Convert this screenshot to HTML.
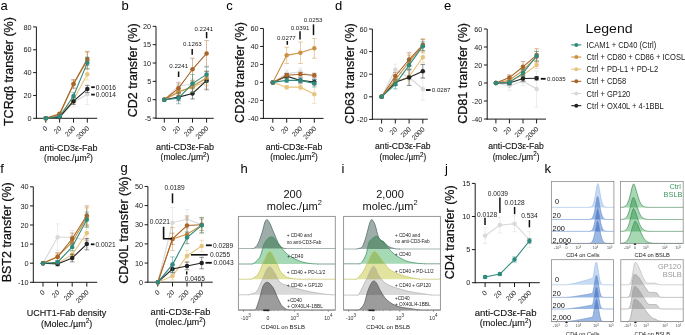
<!DOCTYPE html>
<html><head><meta charset="utf-8"><style>
html,body{margin:0;padding:0;background:#fff;width:685px;height:335px;overflow:hidden}
svg{display:block;font-family:"Liberation Sans", sans-serif}
</style></head><body>
<svg width="685" height="335" viewBox="0 0 685 335">
<rect width="685" height="335" fill="#fff"/>
<text x="0.60" y="10.20" font-size="13" text-anchor="start" fill="#000" >a</text>
<line x1="36.40" y1="26.90" x2="36.40" y2="118.80" stroke="#1a1a1a" stroke-width="1" />
<line x1="33.10" y1="118.30" x2="36.40" y2="118.30" stroke="#1a1a1a" stroke-width="1" />
<text x="31.60" y="120.90" font-size="7.3" text-anchor="end" fill="#1a1a1a" >0</text>
<line x1="33.10" y1="95.45" x2="36.40" y2="95.45" stroke="#1a1a1a" stroke-width="1" />
<text x="31.60" y="98.05" font-size="7.3" text-anchor="end" fill="#1a1a1a" >20</text>
<line x1="33.10" y1="72.60" x2="36.40" y2="72.60" stroke="#1a1a1a" stroke-width="1" />
<text x="31.60" y="75.20" font-size="7.3" text-anchor="end" fill="#1a1a1a" >40</text>
<line x1="33.10" y1="49.75" x2="36.40" y2="49.75" stroke="#1a1a1a" stroke-width="1" />
<text x="31.60" y="52.35" font-size="7.3" text-anchor="end" fill="#1a1a1a" >60</text>
<line x1="33.10" y1="26.90" x2="36.40" y2="26.90" stroke="#1a1a1a" stroke-width="1" />
<text x="31.60" y="29.50" font-size="7.3" text-anchor="end" fill="#1a1a1a" >80</text>
<line x1="35.90" y1="118.30" x2="97.20" y2="118.30" stroke="#1a1a1a" stroke-width="1" />
<line x1="45.75" y1="118.30" x2="45.75" y2="122.60" stroke="#1a1a1a" stroke-width="1" />
<text x="48.05" y="128.90" font-size="6.8" text-anchor="end" fill="#222" transform="rotate(-45 48.05 128.90)">0</text>
<line x1="59.60" y1="118.30" x2="59.60" y2="122.60" stroke="#1a1a1a" stroke-width="1" />
<text x="61.90" y="128.90" font-size="6.8" text-anchor="end" fill="#222" transform="rotate(-45 61.90 128.90)">20</text>
<line x1="73.50" y1="118.30" x2="73.50" y2="122.60" stroke="#1a1a1a" stroke-width="1" />
<text x="75.80" y="128.90" font-size="6.8" text-anchor="end" fill="#222" transform="rotate(-45 75.80 128.90)">200</text>
<line x1="87.30" y1="118.30" x2="87.30" y2="122.60" stroke="#1a1a1a" stroke-width="1" />
<text x="89.60" y="128.90" font-size="6.8" text-anchor="end" fill="#222" transform="rotate(-45 89.60 128.90)">2000</text>
<text x="13.20" y="71.60" font-size="12.5" text-anchor="middle" fill="#111" stroke="#111" stroke-width="0.25" transform="rotate(-90 13.20 71.60)">TCRαβ transfer (%)</text>
<text x="68.50" y="150.50" font-size="9.0" text-anchor="middle" fill="#111" stroke="#111" stroke-width="0.12">anti-CD3ε-Fab</text>
<text x="68.50" y="161.20" font-size="8.549999999999999" text-anchor="middle" fill="#111" stroke="#111" stroke-width="0.12">(molec./µm<tspan font-size="6.3" dy="-3.4">2</tspan><tspan dy="3.4">)</tspan></text>
<line x1="59.60" y1="116.02" x2="59.60" y2="118.30" stroke="#d9d9d9" stroke-width="0.65" opacity="0.75"/>
<line x1="57.30" y1="116.02" x2="61.90" y2="116.02" stroke="#d9d9d9" stroke-width="0.65" opacity="0.75"/>
<line x1="57.30" y1="118.30" x2="61.90" y2="118.30" stroke="#d9d9d9" stroke-width="0.65" opacity="0.75"/>
<line x1="73.50" y1="97.73" x2="73.50" y2="106.88" stroke="#d9d9d9" stroke-width="0.65" opacity="0.75"/>
<line x1="71.20" y1="97.73" x2="75.80" y2="97.73" stroke="#d9d9d9" stroke-width="0.65" opacity="0.75"/>
<line x1="71.20" y1="106.88" x2="75.80" y2="106.88" stroke="#d9d9d9" stroke-width="0.65" opacity="0.75"/>
<line x1="87.30" y1="84.03" x2="87.30" y2="104.59" stroke="#d9d9d9" stroke-width="0.65" opacity="0.75"/>
<line x1="85.00" y1="84.03" x2="89.60" y2="84.03" stroke="#d9d9d9" stroke-width="0.65" opacity="0.75"/>
<line x1="85.00" y1="104.59" x2="89.60" y2="104.59" stroke="#d9d9d9" stroke-width="0.65" opacity="0.75"/>
<path d="M45.75,118.30 L59.60,117.16 L73.50,102.30 L87.30,94.31" fill="none" stroke="#d9d9d9" stroke-width="1.1"/>
<circle cx="45.75" cy="118.30" r="2.25" fill="#d9d9d9"/>
<circle cx="59.60" cy="117.16" r="2.25" fill="#d9d9d9"/>
<circle cx="73.50" cy="102.30" r="2.25" fill="#d9d9d9"/>
<circle cx="87.30" cy="94.31" r="2.25" fill="#d9d9d9"/>
<line x1="59.60" y1="114.87" x2="59.60" y2="117.16" stroke="#e6c47e" stroke-width="0.65" opacity="0.75"/>
<line x1="57.30" y1="114.87" x2="61.90" y2="114.87" stroke="#e6c47e" stroke-width="0.65" opacity="0.75"/>
<line x1="57.30" y1="117.16" x2="61.90" y2="117.16" stroke="#e6c47e" stroke-width="0.65" opacity="0.75"/>
<line x1="73.50" y1="96.59" x2="73.50" y2="103.45" stroke="#e6c47e" stroke-width="0.65" opacity="0.75"/>
<line x1="71.20" y1="96.59" x2="75.80" y2="96.59" stroke="#e6c47e" stroke-width="0.65" opacity="0.75"/>
<line x1="71.20" y1="103.45" x2="75.80" y2="103.45" stroke="#e6c47e" stroke-width="0.65" opacity="0.75"/>
<line x1="87.30" y1="68.60" x2="87.30" y2="80.03" stroke="#e6c47e" stroke-width="0.65" opacity="0.75"/>
<line x1="85.00" y1="68.60" x2="89.60" y2="68.60" stroke="#e6c47e" stroke-width="0.65" opacity="0.75"/>
<line x1="85.00" y1="80.03" x2="89.60" y2="80.03" stroke="#e6c47e" stroke-width="0.65" opacity="0.75"/>
<path d="M45.75,118.30 L59.60,116.02 L73.50,100.02 L87.30,74.31" fill="none" stroke="#e6c47e" stroke-width="1.1"/>
<circle cx="45.75" cy="118.30" r="2.25" fill="#e6c47e"/>
<circle cx="59.60" cy="116.02" r="2.25" fill="#e6c47e"/>
<circle cx="73.50" cy="100.02" r="2.25" fill="#e6c47e"/>
<circle cx="87.30" cy="74.31" r="2.25" fill="#e6c47e"/>
<line x1="59.60" y1="116.02" x2="59.60" y2="118.30" stroke="#222222" stroke-width="0.65" opacity="0.75"/>
<line x1="57.30" y1="116.02" x2="61.90" y2="116.02" stroke="#222222" stroke-width="0.65" opacity="0.75"/>
<line x1="57.30" y1="118.30" x2="61.90" y2="118.30" stroke="#222222" stroke-width="0.65" opacity="0.75"/>
<line x1="73.50" y1="97.73" x2="73.50" y2="104.59" stroke="#222222" stroke-width="0.65" opacity="0.75"/>
<line x1="71.20" y1="97.73" x2="75.80" y2="97.73" stroke="#222222" stroke-width="0.65" opacity="0.75"/>
<line x1="71.20" y1="104.59" x2="75.80" y2="104.59" stroke="#222222" stroke-width="0.65" opacity="0.75"/>
<line x1="87.30" y1="85.62" x2="87.30" y2="92.48" stroke="#222222" stroke-width="0.65" opacity="0.75"/>
<line x1="85.00" y1="85.62" x2="89.60" y2="85.62" stroke="#222222" stroke-width="0.65" opacity="0.75"/>
<line x1="85.00" y1="92.48" x2="89.60" y2="92.48" stroke="#222222" stroke-width="0.65" opacity="0.75"/>
<path d="M45.75,118.30 L59.60,117.16 L73.50,101.16 L87.30,89.05" fill="none" stroke="#222222" stroke-width="1.1"/>
<circle cx="45.75" cy="118.30" r="2.25" fill="#222222"/>
<circle cx="59.60" cy="117.16" r="2.25" fill="#222222"/>
<circle cx="73.50" cy="101.16" r="2.25" fill="#222222"/>
<circle cx="87.30" cy="89.05" r="2.25" fill="#222222"/>
<line x1="59.60" y1="113.73" x2="59.60" y2="116.02" stroke="#cc9142" stroke-width="0.65" opacity="0.75"/>
<line x1="57.30" y1="113.73" x2="61.90" y2="113.73" stroke="#cc9142" stroke-width="0.65" opacity="0.75"/>
<line x1="57.30" y1="116.02" x2="61.90" y2="116.02" stroke="#cc9142" stroke-width="0.65" opacity="0.75"/>
<line x1="73.50" y1="80.60" x2="73.50" y2="87.45" stroke="#cc9142" stroke-width="0.65" opacity="0.75"/>
<line x1="71.20" y1="80.60" x2="75.80" y2="80.60" stroke="#cc9142" stroke-width="0.65" opacity="0.75"/>
<line x1="71.20" y1="87.45" x2="75.80" y2="87.45" stroke="#cc9142" stroke-width="0.65" opacity="0.75"/>
<line x1="87.30" y1="51.24" x2="87.30" y2="69.52" stroke="#cc9142" stroke-width="0.65" opacity="0.75"/>
<line x1="85.00" y1="51.24" x2="89.60" y2="51.24" stroke="#cc9142" stroke-width="0.65" opacity="0.75"/>
<line x1="85.00" y1="69.52" x2="89.60" y2="69.52" stroke="#cc9142" stroke-width="0.65" opacity="0.75"/>
<path d="M45.75,118.30 L59.60,114.87 L73.50,84.02 L87.30,60.38" fill="none" stroke="#cc9142" stroke-width="1.1"/>
<circle cx="45.75" cy="118.30" r="2.25" fill="#cc9142"/>
<circle cx="59.60" cy="114.87" r="2.25" fill="#cc9142"/>
<circle cx="73.50" cy="84.02" r="2.25" fill="#cc9142"/>
<circle cx="87.30" cy="60.38" r="2.25" fill="#cc9142"/>
<line x1="59.60" y1="112.59" x2="59.60" y2="114.87" stroke="#a8652a" stroke-width="0.65" opacity="0.75"/>
<line x1="57.30" y1="112.59" x2="61.90" y2="112.59" stroke="#a8652a" stroke-width="0.65" opacity="0.75"/>
<line x1="57.30" y1="114.87" x2="61.90" y2="114.87" stroke="#a8652a" stroke-width="0.65" opacity="0.75"/>
<line x1="73.50" y1="79.45" x2="73.50" y2="88.59" stroke="#a8652a" stroke-width="0.65" opacity="0.75"/>
<line x1="71.20" y1="79.45" x2="75.80" y2="79.45" stroke="#a8652a" stroke-width="0.65" opacity="0.75"/>
<line x1="71.20" y1="88.59" x2="75.80" y2="88.59" stroke="#a8652a" stroke-width="0.65" opacity="0.75"/>
<line x1="87.30" y1="52.03" x2="87.30" y2="65.74" stroke="#a8652a" stroke-width="0.65" opacity="0.75"/>
<line x1="85.00" y1="52.03" x2="89.60" y2="52.03" stroke="#a8652a" stroke-width="0.65" opacity="0.75"/>
<line x1="85.00" y1="65.74" x2="89.60" y2="65.74" stroke="#a8652a" stroke-width="0.65" opacity="0.75"/>
<path d="M45.75,118.30 L59.60,113.73 L73.50,84.02 L87.30,58.89" fill="none" stroke="#a8652a" stroke-width="1.1"/>
<circle cx="45.75" cy="118.30" r="2.25" fill="#a8652a"/>
<circle cx="59.60" cy="113.73" r="2.25" fill="#a8652a"/>
<circle cx="73.50" cy="84.02" r="2.25" fill="#a8652a"/>
<circle cx="87.30" cy="58.89" r="2.25" fill="#a8652a"/>
<line x1="59.60" y1="115.44" x2="59.60" y2="117.73" stroke="#2e8a7e" stroke-width="0.65" opacity="0.75"/>
<line x1="57.30" y1="115.44" x2="61.90" y2="115.44" stroke="#2e8a7e" stroke-width="0.65" opacity="0.75"/>
<line x1="57.30" y1="117.73" x2="61.90" y2="117.73" stroke="#2e8a7e" stroke-width="0.65" opacity="0.75"/>
<line x1="73.50" y1="92.59" x2="73.50" y2="99.45" stroke="#2e8a7e" stroke-width="0.65" opacity="0.75"/>
<line x1="71.20" y1="92.59" x2="75.80" y2="92.59" stroke="#2e8a7e" stroke-width="0.65" opacity="0.75"/>
<line x1="71.20" y1="99.45" x2="75.80" y2="99.45" stroke="#2e8a7e" stroke-width="0.65" opacity="0.75"/>
<line x1="87.30" y1="57.18" x2="87.30" y2="68.60" stroke="#2e8a7e" stroke-width="0.65" opacity="0.75"/>
<line x1="85.00" y1="57.18" x2="89.60" y2="57.18" stroke="#2e8a7e" stroke-width="0.65" opacity="0.75"/>
<line x1="85.00" y1="68.60" x2="89.60" y2="68.60" stroke="#2e8a7e" stroke-width="0.65" opacity="0.75"/>
<path d="M45.75,118.30 L59.60,116.59 L73.50,96.02 L87.30,62.89" fill="none" stroke="#2e8a7e" stroke-width="1.1"/>
<circle cx="45.75" cy="118.30" r="2.25" fill="#2e8a7e"/>
<circle cx="59.60" cy="116.59" r="2.25" fill="#2e8a7e"/>
<circle cx="73.50" cy="96.02" r="2.25" fill="#2e8a7e"/>
<circle cx="87.30" cy="62.89" r="2.25" fill="#2e8a7e"/>
<rect x="91.20" y="86.30" width="3.6" height="1.8" fill="#111"/>
<text x="95.80" y="89.50" font-size="6.6" text-anchor="start" fill="#222" >0.0016</text>
<rect x="91.20" y="93.70" width="3.6" height="1.8" fill="#111"/>
<text x="95.80" y="96.90" font-size="6.6" text-anchor="start" fill="#222" >0.0014</text>
<text x="121.60" y="10.40" font-size="13" text-anchor="start" fill="#000" >b</text>
<line x1="156.00" y1="26.34" x2="156.00" y2="118.80" stroke="#1a1a1a" stroke-width="1" />
<line x1="152.70" y1="118.04" x2="156.00" y2="118.04" stroke="#1a1a1a" stroke-width="1" />
<text x="151.20" y="120.64" font-size="7.3" text-anchor="end" fill="#1a1a1a" >-5</text>
<line x1="152.70" y1="99.70" x2="156.00" y2="99.70" stroke="#1a1a1a" stroke-width="1" />
<text x="151.20" y="102.30" font-size="7.3" text-anchor="end" fill="#1a1a1a" >0</text>
<line x1="152.70" y1="81.36" x2="156.00" y2="81.36" stroke="#1a1a1a" stroke-width="1" />
<text x="151.20" y="83.96" font-size="7.3" text-anchor="end" fill="#1a1a1a" >5</text>
<line x1="152.70" y1="63.02" x2="156.00" y2="63.02" stroke="#1a1a1a" stroke-width="1" />
<text x="151.20" y="65.62" font-size="7.3" text-anchor="end" fill="#1a1a1a" >10</text>
<line x1="152.70" y1="44.68" x2="156.00" y2="44.68" stroke="#1a1a1a" stroke-width="1" />
<text x="151.20" y="47.28" font-size="7.3" text-anchor="end" fill="#1a1a1a" >15</text>
<line x1="152.70" y1="26.34" x2="156.00" y2="26.34" stroke="#1a1a1a" stroke-width="1" />
<text x="151.20" y="28.94" font-size="7.3" text-anchor="end" fill="#1a1a1a" >20</text>
<line x1="155.50" y1="118.30" x2="213.70" y2="118.30" stroke="#1a1a1a" stroke-width="1" />
<line x1="164.30" y1="118.30" x2="164.30" y2="122.60" stroke="#1a1a1a" stroke-width="1" />
<text x="166.60" y="128.90" font-size="6.8" text-anchor="end" fill="#222" transform="rotate(-45 166.60 128.90)">0</text>
<line x1="178.50" y1="118.30" x2="178.50" y2="122.60" stroke="#1a1a1a" stroke-width="1" />
<text x="180.80" y="128.90" font-size="6.8" text-anchor="end" fill="#222" transform="rotate(-45 180.80 128.90)">20</text>
<line x1="192.50" y1="118.30" x2="192.50" y2="122.60" stroke="#1a1a1a" stroke-width="1" />
<text x="194.80" y="128.90" font-size="6.8" text-anchor="end" fill="#222" transform="rotate(-45 194.80 128.90)">200</text>
<line x1="206.60" y1="118.30" x2="206.60" y2="122.60" stroke="#1a1a1a" stroke-width="1" />
<text x="208.90" y="128.90" font-size="6.8" text-anchor="end" fill="#222" transform="rotate(-45 208.90 128.90)">2000</text>
<text x="137.00" y="70.30" font-size="12.5" text-anchor="middle" fill="#111" stroke="#111" stroke-width="0.25" transform="rotate(-90 137.00 70.30)">CD2 transfer (%)</text>
<text x="185.00" y="149.70" font-size="9.0" text-anchor="middle" fill="#111" stroke="#111" stroke-width="0.12">anti-CD3ε-Fab</text>
<text x="185.00" y="160.40" font-size="8.549999999999999" text-anchor="middle" fill="#111" stroke="#111" stroke-width="0.12">(molec./µm<tspan font-size="6.3" dy="-3.4">2</tspan><tspan dy="3.4">)</tspan></text>
<line x1="178.50" y1="82.09" x2="178.50" y2="89.43" stroke="#d9d9d9" stroke-width="0.65" opacity="0.75"/>
<line x1="176.20" y1="82.09" x2="180.80" y2="82.09" stroke="#d9d9d9" stroke-width="0.65" opacity="0.75"/>
<line x1="176.20" y1="89.43" x2="180.80" y2="89.43" stroke="#d9d9d9" stroke-width="0.65" opacity="0.75"/>
<line x1="192.50" y1="78.79" x2="192.50" y2="89.80" stroke="#d9d9d9" stroke-width="0.65" opacity="0.75"/>
<line x1="190.20" y1="78.79" x2="194.80" y2="78.79" stroke="#d9d9d9" stroke-width="0.65" opacity="0.75"/>
<line x1="190.20" y1="89.80" x2="194.80" y2="89.80" stroke="#d9d9d9" stroke-width="0.65" opacity="0.75"/>
<line x1="206.60" y1="72.19" x2="206.60" y2="86.86" stroke="#d9d9d9" stroke-width="0.65" opacity="0.75"/>
<line x1="204.30" y1="72.19" x2="208.90" y2="72.19" stroke="#d9d9d9" stroke-width="0.65" opacity="0.75"/>
<line x1="204.30" y1="86.86" x2="208.90" y2="86.86" stroke="#d9d9d9" stroke-width="0.65" opacity="0.75"/>
<path d="M164.30,99.70 L178.50,85.76 L192.50,84.29 L206.60,79.53" fill="none" stroke="#d9d9d9" stroke-width="1.1"/>
<circle cx="164.30" cy="99.70" r="2.25" fill="#d9d9d9"/>
<circle cx="178.50" cy="85.76" r="2.25" fill="#d9d9d9"/>
<circle cx="192.50" cy="84.29" r="2.25" fill="#d9d9d9"/>
<circle cx="206.60" cy="79.53" r="2.25" fill="#d9d9d9"/>
<line x1="178.50" y1="87.60" x2="178.50" y2="94.93" stroke="#e6c47e" stroke-width="0.65" opacity="0.75"/>
<line x1="176.20" y1="87.60" x2="180.80" y2="87.60" stroke="#e6c47e" stroke-width="0.65" opacity="0.75"/>
<line x1="176.20" y1="94.93" x2="180.80" y2="94.93" stroke="#e6c47e" stroke-width="0.65" opacity="0.75"/>
<line x1="192.50" y1="82.09" x2="192.50" y2="93.10" stroke="#e6c47e" stroke-width="0.65" opacity="0.75"/>
<line x1="190.20" y1="82.09" x2="194.80" y2="82.09" stroke="#e6c47e" stroke-width="0.65" opacity="0.75"/>
<line x1="190.20" y1="93.10" x2="194.80" y2="93.10" stroke="#e6c47e" stroke-width="0.65" opacity="0.75"/>
<line x1="206.60" y1="73.66" x2="206.60" y2="88.33" stroke="#e6c47e" stroke-width="0.65" opacity="0.75"/>
<line x1="204.30" y1="73.66" x2="208.90" y2="73.66" stroke="#e6c47e" stroke-width="0.65" opacity="0.75"/>
<line x1="204.30" y1="88.33" x2="208.90" y2="88.33" stroke="#e6c47e" stroke-width="0.65" opacity="0.75"/>
<path d="M164.30,99.70 L178.50,91.26 L192.50,87.60 L206.60,80.99" fill="none" stroke="#e6c47e" stroke-width="1.1"/>
<circle cx="164.30" cy="99.70" r="2.25" fill="#e6c47e"/>
<circle cx="178.50" cy="91.26" r="2.25" fill="#e6c47e"/>
<circle cx="192.50" cy="87.60" r="2.25" fill="#e6c47e"/>
<circle cx="206.60" cy="80.99" r="2.25" fill="#e6c47e"/>
<line x1="178.50" y1="93.46" x2="178.50" y2="100.80" stroke="#222222" stroke-width="0.65" opacity="0.75"/>
<line x1="176.20" y1="93.46" x2="180.80" y2="93.46" stroke="#222222" stroke-width="0.65" opacity="0.75"/>
<line x1="176.20" y1="100.80" x2="180.80" y2="100.80" stroke="#222222" stroke-width="0.65" opacity="0.75"/>
<line x1="192.50" y1="87.96" x2="192.50" y2="98.97" stroke="#222222" stroke-width="0.65" opacity="0.75"/>
<line x1="190.20" y1="87.96" x2="194.80" y2="87.96" stroke="#222222" stroke-width="0.65" opacity="0.75"/>
<line x1="190.20" y1="98.97" x2="194.80" y2="98.97" stroke="#222222" stroke-width="0.65" opacity="0.75"/>
<line x1="206.60" y1="71.46" x2="206.60" y2="89.80" stroke="#222222" stroke-width="0.65" opacity="0.75"/>
<line x1="204.30" y1="71.46" x2="208.90" y2="71.46" stroke="#222222" stroke-width="0.65" opacity="0.75"/>
<line x1="204.30" y1="89.80" x2="208.90" y2="89.80" stroke="#222222" stroke-width="0.65" opacity="0.75"/>
<path d="M164.30,99.70 L178.50,97.13 L192.50,93.46 L206.60,80.63" fill="none" stroke="#222222" stroke-width="1.1"/>
<circle cx="164.30" cy="99.70" r="2.25" fill="#222222"/>
<circle cx="178.50" cy="97.13" r="2.25" fill="#222222"/>
<circle cx="192.50" cy="93.46" r="2.25" fill="#222222"/>
<circle cx="206.60" cy="80.63" r="2.25" fill="#222222"/>
<line x1="178.50" y1="88.70" x2="178.50" y2="96.03" stroke="#cc9142" stroke-width="0.65" opacity="0.75"/>
<line x1="176.20" y1="88.70" x2="180.80" y2="88.70" stroke="#cc9142" stroke-width="0.65" opacity="0.75"/>
<line x1="176.20" y1="96.03" x2="180.80" y2="96.03" stroke="#cc9142" stroke-width="0.65" opacity="0.75"/>
<line x1="192.50" y1="80.99" x2="192.50" y2="92.00" stroke="#cc9142" stroke-width="0.65" opacity="0.75"/>
<line x1="190.20" y1="80.99" x2="194.80" y2="80.99" stroke="#cc9142" stroke-width="0.65" opacity="0.75"/>
<line x1="190.20" y1="92.00" x2="194.80" y2="92.00" stroke="#cc9142" stroke-width="0.65" opacity="0.75"/>
<line x1="206.60" y1="70.36" x2="206.60" y2="85.03" stroke="#cc9142" stroke-width="0.65" opacity="0.75"/>
<line x1="204.30" y1="70.36" x2="208.90" y2="70.36" stroke="#cc9142" stroke-width="0.65" opacity="0.75"/>
<line x1="204.30" y1="85.03" x2="208.90" y2="85.03" stroke="#cc9142" stroke-width="0.65" opacity="0.75"/>
<path d="M164.30,99.70 L178.50,92.36 L192.50,86.50 L206.60,77.69" fill="none" stroke="#cc9142" stroke-width="1.1"/>
<circle cx="164.30" cy="99.70" r="2.25" fill="#cc9142"/>
<circle cx="178.50" cy="92.36" r="2.25" fill="#cc9142"/>
<circle cx="192.50" cy="86.50" r="2.25" fill="#cc9142"/>
<circle cx="206.60" cy="77.69" r="2.25" fill="#cc9142"/>
<line x1="178.50" y1="82.83" x2="178.50" y2="93.83" stroke="#a8652a" stroke-width="0.65" opacity="0.75"/>
<line x1="176.20" y1="82.83" x2="180.80" y2="82.83" stroke="#a8652a" stroke-width="0.65" opacity="0.75"/>
<line x1="176.20" y1="93.83" x2="180.80" y2="93.83" stroke="#a8652a" stroke-width="0.65" opacity="0.75"/>
<line x1="192.50" y1="58.25" x2="192.50" y2="80.26" stroke="#a8652a" stroke-width="0.65" opacity="0.75"/>
<line x1="190.20" y1="58.25" x2="194.80" y2="58.25" stroke="#a8652a" stroke-width="0.65" opacity="0.75"/>
<line x1="190.20" y1="80.26" x2="194.80" y2="80.26" stroke="#a8652a" stroke-width="0.65" opacity="0.75"/>
<line x1="206.60" y1="40.65" x2="206.60" y2="66.32" stroke="#a8652a" stroke-width="0.65" opacity="0.75"/>
<line x1="204.30" y1="40.65" x2="208.90" y2="40.65" stroke="#a8652a" stroke-width="0.65" opacity="0.75"/>
<line x1="204.30" y1="66.32" x2="208.90" y2="66.32" stroke="#a8652a" stroke-width="0.65" opacity="0.75"/>
<path d="M164.30,99.70 L178.50,88.33 L192.50,69.26 L206.60,53.48" fill="none" stroke="#a8652a" stroke-width="1.1"/>
<circle cx="164.30" cy="99.70" r="2.25" fill="#a8652a"/>
<circle cx="178.50" cy="88.33" r="2.25" fill="#a8652a"/>
<circle cx="192.50" cy="69.26" r="2.25" fill="#a8652a"/>
<circle cx="206.60" cy="53.48" r="2.25" fill="#a8652a"/>
<line x1="178.50" y1="92.73" x2="178.50" y2="103.73" stroke="#2e8a7e" stroke-width="0.65" opacity="0.75"/>
<line x1="176.20" y1="92.73" x2="180.80" y2="92.73" stroke="#2e8a7e" stroke-width="0.65" opacity="0.75"/>
<line x1="176.20" y1="103.73" x2="180.80" y2="103.73" stroke="#2e8a7e" stroke-width="0.65" opacity="0.75"/>
<line x1="192.50" y1="74.39" x2="192.50" y2="92.73" stroke="#2e8a7e" stroke-width="0.65" opacity="0.75"/>
<line x1="190.20" y1="74.39" x2="194.80" y2="74.39" stroke="#2e8a7e" stroke-width="0.65" opacity="0.75"/>
<line x1="190.20" y1="92.73" x2="194.80" y2="92.73" stroke="#2e8a7e" stroke-width="0.65" opacity="0.75"/>
<line x1="206.60" y1="67.05" x2="206.60" y2="81.73" stroke="#2e8a7e" stroke-width="0.65" opacity="0.75"/>
<line x1="204.30" y1="67.05" x2="208.90" y2="67.05" stroke="#2e8a7e" stroke-width="0.65" opacity="0.75"/>
<line x1="204.30" y1="81.73" x2="208.90" y2="81.73" stroke="#2e8a7e" stroke-width="0.65" opacity="0.75"/>
<path d="M164.30,99.70 L178.50,98.23 L192.50,83.56 L206.60,74.39" fill="none" stroke="#2e8a7e" stroke-width="1.1"/>
<circle cx="164.30" cy="99.70" r="2.25" fill="#2e8a7e"/>
<circle cx="178.50" cy="98.23" r="2.25" fill="#2e8a7e"/>
<circle cx="192.50" cy="83.56" r="2.25" fill="#2e8a7e"/>
<circle cx="206.60" cy="74.39" r="2.25" fill="#2e8a7e"/>
<line x1="206.60" y1="32.00" x2="206.60" y2="38.30" stroke="#111" stroke-width="1.5" />
<text x="203.80" y="30.80" font-size="6.15" text-anchor="middle" fill="#222" >0.2241</text>
<line x1="192.20" y1="49.00" x2="192.20" y2="54.80" stroke="#111" stroke-width="1.5" />
<text x="192.40" y="46.10" font-size="6.15" text-anchor="middle" fill="#222" >0.1263</text>
<line x1="178.60" y1="71.50" x2="178.60" y2="77.00" stroke="#111" stroke-width="1.5" />
<text x="178.70" y="68.10" font-size="6.15" text-anchor="middle" fill="#222" >0.2241</text>
<text x="226.20" y="10.00" font-size="13" text-anchor="start" fill="#000" >c</text>
<line x1="263.40" y1="28.46" x2="263.40" y2="118.90" stroke="#1a1a1a" stroke-width="1" />
<line x1="260.10" y1="118.36" x2="263.40" y2="118.36" stroke="#1a1a1a" stroke-width="1" />
<text x="258.60" y="120.96" font-size="7.3" text-anchor="end" fill="#1a1a1a" >-40</text>
<line x1="260.10" y1="100.38" x2="263.40" y2="100.38" stroke="#1a1a1a" stroke-width="1" />
<text x="258.60" y="102.98" font-size="7.3" text-anchor="end" fill="#1a1a1a" >-20</text>
<line x1="260.10" y1="82.40" x2="263.40" y2="82.40" stroke="#1a1a1a" stroke-width="1" />
<text x="258.60" y="85.00" font-size="7.3" text-anchor="end" fill="#1a1a1a" >0</text>
<line x1="260.10" y1="64.42" x2="263.40" y2="64.42" stroke="#1a1a1a" stroke-width="1" />
<text x="258.60" y="67.02" font-size="7.3" text-anchor="end" fill="#1a1a1a" >20</text>
<line x1="260.10" y1="46.44" x2="263.40" y2="46.44" stroke="#1a1a1a" stroke-width="1" />
<text x="258.60" y="49.04" font-size="7.3" text-anchor="end" fill="#1a1a1a" >40</text>
<line x1="260.10" y1="28.46" x2="263.40" y2="28.46" stroke="#1a1a1a" stroke-width="1" />
<text x="258.60" y="31.06" font-size="7.3" text-anchor="end" fill="#1a1a1a" >60</text>
<line x1="262.90" y1="118.40" x2="323.50" y2="118.40" stroke="#1a1a1a" stroke-width="1" />
<line x1="272.80" y1="118.40" x2="272.80" y2="122.70" stroke="#1a1a1a" stroke-width="1" />
<text x="275.10" y="129.00" font-size="6.8" text-anchor="end" fill="#222" transform="rotate(-45 275.10 129.00)">0</text>
<line x1="286.70" y1="118.40" x2="286.70" y2="122.70" stroke="#1a1a1a" stroke-width="1" />
<text x="289.00" y="129.00" font-size="6.8" text-anchor="end" fill="#222" transform="rotate(-45 289.00 129.00)">20</text>
<line x1="300.40" y1="118.40" x2="300.40" y2="122.70" stroke="#1a1a1a" stroke-width="1" />
<text x="302.70" y="129.00" font-size="6.8" text-anchor="end" fill="#222" transform="rotate(-45 302.70 129.00)">200</text>
<line x1="314.30" y1="118.40" x2="314.30" y2="122.70" stroke="#1a1a1a" stroke-width="1" />
<text x="316.60" y="129.00" font-size="6.8" text-anchor="end" fill="#222" transform="rotate(-45 316.60 129.00)">2000</text>
<text x="244.30" y="72.50" font-size="12.5" text-anchor="middle" fill="#111" stroke="#111" stroke-width="0.25" transform="rotate(-90 244.30 72.50)">CD28 transfer (%)</text>
<text x="294.00" y="149.60" font-size="8.8" text-anchor="middle" fill="#111" stroke="#111" stroke-width="0.12">anti-CD3ε-Fab</text>
<text x="294.00" y="160.30" font-size="8.36" text-anchor="middle" fill="#111" stroke="#111" stroke-width="0.12">(molec./µm<tspan font-size="6.3" dy="-3.4">2</tspan><tspan dy="3.4">)</tspan></text>
<line x1="286.70" y1="69.99" x2="286.70" y2="77.19" stroke="#d9d9d9" stroke-width="0.65" opacity="0.75"/>
<line x1="284.40" y1="69.99" x2="289.00" y2="69.99" stroke="#d9d9d9" stroke-width="0.65" opacity="0.75"/>
<line x1="284.40" y1="77.19" x2="289.00" y2="77.19" stroke="#d9d9d9" stroke-width="0.65" opacity="0.75"/>
<line x1="300.40" y1="68.11" x2="300.40" y2="75.30" stroke="#d9d9d9" stroke-width="0.65" opacity="0.75"/>
<line x1="298.10" y1="68.11" x2="302.70" y2="68.11" stroke="#d9d9d9" stroke-width="0.65" opacity="0.75"/>
<line x1="298.10" y1="75.30" x2="302.70" y2="75.30" stroke="#d9d9d9" stroke-width="0.65" opacity="0.75"/>
<line x1="314.30" y1="72.51" x2="314.30" y2="81.50" stroke="#d9d9d9" stroke-width="0.65" opacity="0.75"/>
<line x1="312.00" y1="72.51" x2="316.60" y2="72.51" stroke="#d9d9d9" stroke-width="0.65" opacity="0.75"/>
<line x1="312.00" y1="81.50" x2="316.60" y2="81.50" stroke="#d9d9d9" stroke-width="0.65" opacity="0.75"/>
<path d="M272.80,82.40 L286.70,73.59 L300.40,71.70 L314.30,77.01" fill="none" stroke="#d9d9d9" stroke-width="1.1"/>
<circle cx="272.80" cy="82.40" r="2.25" fill="#d9d9d9"/>
<circle cx="286.70" cy="73.59" r="2.25" fill="#d9d9d9"/>
<circle cx="300.40" cy="71.70" r="2.25" fill="#d9d9d9"/>
<circle cx="314.30" cy="77.01" r="2.25" fill="#d9d9d9"/>
<line x1="286.70" y1="85.37" x2="286.70" y2="88.96" stroke="#e6c47e" stroke-width="0.65" opacity="0.75"/>
<line x1="284.40" y1="85.37" x2="289.00" y2="85.37" stroke="#e6c47e" stroke-width="0.65" opacity="0.75"/>
<line x1="284.40" y1="88.96" x2="289.00" y2="88.96" stroke="#e6c47e" stroke-width="0.65" opacity="0.75"/>
<line x1="300.40" y1="84.47" x2="300.40" y2="89.86" stroke="#e6c47e" stroke-width="0.65" opacity="0.75"/>
<line x1="298.10" y1="84.47" x2="302.70" y2="84.47" stroke="#e6c47e" stroke-width="0.65" opacity="0.75"/>
<line x1="298.10" y1="89.86" x2="302.70" y2="89.86" stroke="#e6c47e" stroke-width="0.65" opacity="0.75"/>
<line x1="314.30" y1="85.37" x2="314.30" y2="103.35" stroke="#e6c47e" stroke-width="0.65" opacity="0.75"/>
<line x1="312.00" y1="85.37" x2="316.60" y2="85.37" stroke="#e6c47e" stroke-width="0.65" opacity="0.75"/>
<line x1="312.00" y1="103.35" x2="316.60" y2="103.35" stroke="#e6c47e" stroke-width="0.65" opacity="0.75"/>
<path d="M272.80,82.40 L286.70,87.16 L300.40,87.16 L314.30,94.36" fill="none" stroke="#e6c47e" stroke-width="1.1"/>
<circle cx="272.80" cy="82.40" r="2.25" fill="#e6c47e"/>
<circle cx="286.70" cy="87.16" r="2.25" fill="#e6c47e"/>
<circle cx="300.40" cy="87.16" r="2.25" fill="#e6c47e"/>
<circle cx="314.30" cy="94.36" r="2.25" fill="#e6c47e"/>
<line x1="286.70" y1="73.50" x2="286.70" y2="78.89" stroke="#222222" stroke-width="0.65" opacity="0.75"/>
<line x1="284.40" y1="73.50" x2="289.00" y2="73.50" stroke="#222222" stroke-width="0.65" opacity="0.75"/>
<line x1="284.40" y1="78.89" x2="289.00" y2="78.89" stroke="#222222" stroke-width="0.65" opacity="0.75"/>
<line x1="300.40" y1="77.73" x2="300.40" y2="83.12" stroke="#222222" stroke-width="0.65" opacity="0.75"/>
<line x1="298.10" y1="77.73" x2="302.70" y2="77.73" stroke="#222222" stroke-width="0.65" opacity="0.75"/>
<line x1="298.10" y1="83.12" x2="302.70" y2="83.12" stroke="#222222" stroke-width="0.65" opacity="0.75"/>
<line x1="314.30" y1="79.25" x2="314.30" y2="84.65" stroke="#222222" stroke-width="0.65" opacity="0.75"/>
<line x1="312.00" y1="79.25" x2="316.60" y2="79.25" stroke="#222222" stroke-width="0.65" opacity="0.75"/>
<line x1="312.00" y1="84.65" x2="316.60" y2="84.65" stroke="#222222" stroke-width="0.65" opacity="0.75"/>
<path d="M272.80,82.40 L286.70,76.20 L300.40,80.42 L314.30,81.95" fill="none" stroke="#222222" stroke-width="1.1"/>
<circle cx="272.80" cy="82.40" r="2.25" fill="#222222"/>
<circle cx="286.70" cy="76.20" r="2.25" fill="#222222"/>
<circle cx="300.40" cy="80.42" r="2.25" fill="#222222"/>
<circle cx="314.30" cy="81.95" r="2.25" fill="#222222"/>
<line x1="286.70" y1="47.25" x2="286.70" y2="63.43" stroke="#cc9142" stroke-width="0.65" opacity="0.75"/>
<line x1="284.40" y1="47.25" x2="289.00" y2="47.25" stroke="#cc9142" stroke-width="0.65" opacity="0.75"/>
<line x1="284.40" y1="63.43" x2="289.00" y2="63.43" stroke="#cc9142" stroke-width="0.65" opacity="0.75"/>
<line x1="300.40" y1="42.03" x2="300.40" y2="63.61" stroke="#cc9142" stroke-width="0.65" opacity="0.75"/>
<line x1="298.10" y1="42.03" x2="302.70" y2="42.03" stroke="#cc9142" stroke-width="0.65" opacity="0.75"/>
<line x1="298.10" y1="63.61" x2="302.70" y2="63.61" stroke="#cc9142" stroke-width="0.65" opacity="0.75"/>
<line x1="314.30" y1="38.44" x2="314.30" y2="58.22" stroke="#cc9142" stroke-width="0.65" opacity="0.75"/>
<line x1="312.00" y1="38.44" x2="316.60" y2="38.44" stroke="#cc9142" stroke-width="0.65" opacity="0.75"/>
<line x1="312.00" y1="58.22" x2="316.60" y2="58.22" stroke="#cc9142" stroke-width="0.65" opacity="0.75"/>
<path d="M272.80,82.40 L286.70,55.34 L300.40,52.82 L314.30,48.33" fill="none" stroke="#cc9142" stroke-width="1.1"/>
<circle cx="272.80" cy="82.40" r="2.25" fill="#cc9142"/>
<circle cx="286.70" cy="55.34" r="2.25" fill="#cc9142"/>
<circle cx="300.40" cy="52.82" r="2.25" fill="#cc9142"/>
<circle cx="314.30" cy="48.33" r="2.25" fill="#cc9142"/>
<line x1="286.70" y1="73.41" x2="286.70" y2="77.01" stroke="#a8652a" stroke-width="0.65" opacity="0.75"/>
<line x1="284.40" y1="73.41" x2="289.00" y2="73.41" stroke="#a8652a" stroke-width="0.65" opacity="0.75"/>
<line x1="284.40" y1="77.01" x2="289.00" y2="77.01" stroke="#a8652a" stroke-width="0.65" opacity="0.75"/>
<line x1="300.40" y1="72.42" x2="300.40" y2="76.02" stroke="#a8652a" stroke-width="0.65" opacity="0.75"/>
<line x1="298.10" y1="72.42" x2="302.70" y2="72.42" stroke="#a8652a" stroke-width="0.65" opacity="0.75"/>
<line x1="298.10" y1="76.02" x2="302.70" y2="76.02" stroke="#a8652a" stroke-width="0.65" opacity="0.75"/>
<line x1="314.30" y1="73.41" x2="314.30" y2="77.01" stroke="#a8652a" stroke-width="0.65" opacity="0.75"/>
<line x1="312.00" y1="73.41" x2="316.60" y2="73.41" stroke="#a8652a" stroke-width="0.65" opacity="0.75"/>
<line x1="312.00" y1="77.01" x2="316.60" y2="77.01" stroke="#a8652a" stroke-width="0.65" opacity="0.75"/>
<path d="M272.80,82.40 L286.70,75.21 L300.40,74.22 L314.30,75.21" fill="none" stroke="#a8652a" stroke-width="1.1"/>
<circle cx="272.80" cy="82.40" r="2.25" fill="#a8652a"/>
<circle cx="286.70" cy="75.21" r="2.25" fill="#a8652a"/>
<circle cx="300.40" cy="74.22" r="2.25" fill="#a8652a"/>
<circle cx="314.30" cy="75.21" r="2.25" fill="#a8652a"/>
<line x1="286.70" y1="78.62" x2="286.70" y2="82.22" stroke="#2e8a7e" stroke-width="0.65" opacity="0.75"/>
<line x1="284.40" y1="78.62" x2="289.00" y2="78.62" stroke="#2e8a7e" stroke-width="0.65" opacity="0.75"/>
<line x1="284.40" y1="82.22" x2="289.00" y2="82.22" stroke="#2e8a7e" stroke-width="0.65" opacity="0.75"/>
<line x1="300.40" y1="78.62" x2="300.40" y2="82.22" stroke="#2e8a7e" stroke-width="0.65" opacity="0.75"/>
<line x1="298.10" y1="78.62" x2="302.70" y2="78.62" stroke="#2e8a7e" stroke-width="0.65" opacity="0.75"/>
<line x1="298.10" y1="82.22" x2="302.70" y2="82.22" stroke="#2e8a7e" stroke-width="0.65" opacity="0.75"/>
<line x1="314.30" y1="79.79" x2="314.30" y2="86.98" stroke="#2e8a7e" stroke-width="0.65" opacity="0.75"/>
<line x1="312.00" y1="79.79" x2="316.60" y2="79.79" stroke="#2e8a7e" stroke-width="0.65" opacity="0.75"/>
<line x1="312.00" y1="86.98" x2="316.60" y2="86.98" stroke="#2e8a7e" stroke-width="0.65" opacity="0.75"/>
<path d="M272.80,82.40 L286.70,80.42 L300.40,80.42 L314.30,83.39" fill="none" stroke="#2e8a7e" stroke-width="1.1"/>
<circle cx="272.80" cy="82.40" r="2.25" fill="#2e8a7e"/>
<circle cx="286.70" cy="80.42" r="2.25" fill="#2e8a7e"/>
<circle cx="300.40" cy="80.42" r="2.25" fill="#2e8a7e"/>
<circle cx="314.30" cy="83.39" r="2.25" fill="#2e8a7e"/>
<line x1="313.50" y1="24.40" x2="313.50" y2="35.10" stroke="#111" stroke-width="1.5" />
<text x="313.10" y="21.60" font-size="6.15" text-anchor="middle" fill="#222" >0.0253</text>
<line x1="300.00" y1="31.20" x2="300.00" y2="39.60" stroke="#111" stroke-width="1.5" />
<text x="300.10" y="30.30" font-size="6.15" text-anchor="middle" fill="#222" >0.0391</text>
<line x1="287.30" y1="41.00" x2="287.30" y2="44.80" stroke="#111" stroke-width="1.5" />
<text x="286.40" y="39.60" font-size="6.15" text-anchor="middle" fill="#222" >0.0277</text>
<text x="335.00" y="10.00" font-size="13" text-anchor="start" fill="#000" >d</text>
<line x1="372.40" y1="29.00" x2="372.40" y2="119.70" stroke="#1a1a1a" stroke-width="1" />
<line x1="369.10" y1="119.40" x2="372.40" y2="119.40" stroke="#1a1a1a" stroke-width="1" />
<text x="367.60" y="122.00" font-size="7.3" text-anchor="end" fill="#1a1a1a" >-20</text>
<line x1="369.10" y1="96.80" x2="372.40" y2="96.80" stroke="#1a1a1a" stroke-width="1" />
<text x="367.60" y="99.40" font-size="7.3" text-anchor="end" fill="#1a1a1a" >0</text>
<line x1="369.10" y1="74.20" x2="372.40" y2="74.20" stroke="#1a1a1a" stroke-width="1" />
<text x="367.60" y="76.80" font-size="7.3" text-anchor="end" fill="#1a1a1a" >20</text>
<line x1="369.10" y1="51.60" x2="372.40" y2="51.60" stroke="#1a1a1a" stroke-width="1" />
<text x="367.60" y="54.20" font-size="7.3" text-anchor="end" fill="#1a1a1a" >40</text>
<line x1="369.10" y1="29.00" x2="372.40" y2="29.00" stroke="#1a1a1a" stroke-width="1" />
<text x="367.60" y="31.60" font-size="7.3" text-anchor="end" fill="#1a1a1a" >60</text>
<line x1="371.90" y1="119.20" x2="427.80" y2="119.20" stroke="#1a1a1a" stroke-width="1" />
<line x1="381.60" y1="119.20" x2="381.60" y2="123.50" stroke="#1a1a1a" stroke-width="1" />
<text x="383.90" y="129.80" font-size="6.8" text-anchor="end" fill="#222" transform="rotate(-45 383.90 129.80)">0</text>
<line x1="395.30" y1="119.20" x2="395.30" y2="123.50" stroke="#1a1a1a" stroke-width="1" />
<text x="397.60" y="129.80" font-size="6.8" text-anchor="end" fill="#222" transform="rotate(-45 397.60 129.80)">20</text>
<line x1="409.10" y1="119.20" x2="409.10" y2="123.50" stroke="#1a1a1a" stroke-width="1" />
<text x="411.40" y="129.80" font-size="6.8" text-anchor="end" fill="#222" transform="rotate(-45 411.40 129.80)">200</text>
<line x1="422.80" y1="119.20" x2="422.80" y2="123.50" stroke="#1a1a1a" stroke-width="1" />
<text x="425.10" y="129.80" font-size="6.8" text-anchor="end" fill="#222" transform="rotate(-45 425.10 129.80)">2000</text>
<text x="353.60" y="73.60" font-size="12.5" text-anchor="middle" fill="#111" stroke="#111" stroke-width="0.25" transform="rotate(-90 353.60 73.60)">CD63 transfer (%)</text>
<text x="402.80" y="149.20" font-size="8.6" text-anchor="middle" fill="#111" stroke="#111" stroke-width="0.12">anti-CD3ε-Fab</text>
<text x="402.80" y="159.90" font-size="8.17" text-anchor="middle" fill="#111" stroke="#111" stroke-width="0.12">(molec./µm<tspan font-size="6.3" dy="-3.4">2</tspan><tspan dy="3.4">)</tspan></text>
<line x1="395.30" y1="64.14" x2="395.30" y2="75.44" stroke="#d9d9d9" stroke-width="0.65" opacity="0.75"/>
<line x1="393.00" y1="64.14" x2="397.60" y2="64.14" stroke="#d9d9d9" stroke-width="0.65" opacity="0.75"/>
<line x1="393.00" y1="75.44" x2="397.60" y2="75.44" stroke="#d9d9d9" stroke-width="0.65" opacity="0.75"/>
<line x1="409.10" y1="70.47" x2="409.10" y2="84.03" stroke="#d9d9d9" stroke-width="0.65" opacity="0.75"/>
<line x1="406.80" y1="70.47" x2="411.40" y2="70.47" stroke="#d9d9d9" stroke-width="0.65" opacity="0.75"/>
<line x1="406.80" y1="84.03" x2="411.40" y2="84.03" stroke="#d9d9d9" stroke-width="0.65" opacity="0.75"/>
<line x1="422.80" y1="77.70" x2="422.80" y2="100.30" stroke="#d9d9d9" stroke-width="0.65" opacity="0.75"/>
<line x1="420.50" y1="77.70" x2="425.10" y2="77.70" stroke="#d9d9d9" stroke-width="0.65" opacity="0.75"/>
<line x1="420.50" y1="100.30" x2="425.10" y2="100.30" stroke="#d9d9d9" stroke-width="0.65" opacity="0.75"/>
<path d="M381.60,96.80 L395.30,69.79 L409.10,77.25 L422.80,89.00" fill="none" stroke="#d9d9d9" stroke-width="1.1"/>
<circle cx="381.60" cy="96.80" r="2.25" fill="#d9d9d9"/>
<circle cx="395.30" cy="69.79" r="2.25" fill="#d9d9d9"/>
<circle cx="409.10" cy="77.25" r="2.25" fill="#d9d9d9"/>
<circle cx="422.80" cy="89.00" r="2.25" fill="#d9d9d9"/>
<line x1="395.30" y1="78.72" x2="395.30" y2="85.50" stroke="#e6c47e" stroke-width="0.65" opacity="0.75"/>
<line x1="393.00" y1="78.72" x2="397.60" y2="78.72" stroke="#e6c47e" stroke-width="0.65" opacity="0.75"/>
<line x1="393.00" y1="85.50" x2="397.60" y2="85.50" stroke="#e6c47e" stroke-width="0.65" opacity="0.75"/>
<line x1="409.10" y1="71.94" x2="409.10" y2="80.98" stroke="#e6c47e" stroke-width="0.65" opacity="0.75"/>
<line x1="406.80" y1="71.94" x2="411.40" y2="71.94" stroke="#e6c47e" stroke-width="0.65" opacity="0.75"/>
<line x1="406.80" y1="80.98" x2="411.40" y2="80.98" stroke="#e6c47e" stroke-width="0.65" opacity="0.75"/>
<line x1="422.80" y1="51.60" x2="422.80" y2="62.90" stroke="#e6c47e" stroke-width="0.65" opacity="0.75"/>
<line x1="420.50" y1="51.60" x2="425.10" y2="51.60" stroke="#e6c47e" stroke-width="0.65" opacity="0.75"/>
<line x1="420.50" y1="62.90" x2="425.10" y2="62.90" stroke="#e6c47e" stroke-width="0.65" opacity="0.75"/>
<path d="M381.60,96.80 L395.30,82.11 L409.10,76.46 L422.80,57.25" fill="none" stroke="#e6c47e" stroke-width="1.1"/>
<circle cx="381.60" cy="96.80" r="2.25" fill="#e6c47e"/>
<circle cx="395.30" cy="82.11" r="2.25" fill="#e6c47e"/>
<circle cx="409.10" cy="76.46" r="2.25" fill="#e6c47e"/>
<circle cx="422.80" cy="57.25" r="2.25" fill="#e6c47e"/>
<line x1="395.30" y1="78.72" x2="395.30" y2="85.50" stroke="#222222" stroke-width="0.65" opacity="0.75"/>
<line x1="393.00" y1="78.72" x2="397.60" y2="78.72" stroke="#222222" stroke-width="0.65" opacity="0.75"/>
<line x1="393.00" y1="85.50" x2="397.60" y2="85.50" stroke="#222222" stroke-width="0.65" opacity="0.75"/>
<line x1="409.10" y1="69.68" x2="409.10" y2="85.50" stroke="#222222" stroke-width="0.65" opacity="0.75"/>
<line x1="406.80" y1="69.68" x2="411.40" y2="69.68" stroke="#222222" stroke-width="0.65" opacity="0.75"/>
<line x1="406.80" y1="85.50" x2="411.40" y2="85.50" stroke="#222222" stroke-width="0.65" opacity="0.75"/>
<line x1="422.80" y1="64.48" x2="422.80" y2="78.04" stroke="#222222" stroke-width="0.65" opacity="0.75"/>
<line x1="420.50" y1="64.48" x2="425.10" y2="64.48" stroke="#222222" stroke-width="0.65" opacity="0.75"/>
<line x1="420.50" y1="78.04" x2="425.10" y2="78.04" stroke="#222222" stroke-width="0.65" opacity="0.75"/>
<path d="M381.60,96.80 L395.30,82.11 L409.10,77.59 L422.80,71.26" fill="none" stroke="#222222" stroke-width="1.1"/>
<circle cx="381.60" cy="96.80" r="2.25" fill="#222222"/>
<circle cx="395.30" cy="82.11" r="2.25" fill="#222222"/>
<circle cx="409.10" cy="77.59" r="2.25" fill="#222222"/>
<circle cx="422.80" cy="71.26" r="2.25" fill="#222222"/>
<line x1="395.30" y1="76.46" x2="395.30" y2="83.24" stroke="#cc9142" stroke-width="0.65" opacity="0.75"/>
<line x1="393.00" y1="76.46" x2="397.60" y2="76.46" stroke="#cc9142" stroke-width="0.65" opacity="0.75"/>
<line x1="393.00" y1="83.24" x2="397.60" y2="83.24" stroke="#cc9142" stroke-width="0.65" opacity="0.75"/>
<line x1="409.10" y1="54.99" x2="409.10" y2="68.55" stroke="#cc9142" stroke-width="0.65" opacity="0.75"/>
<line x1="406.80" y1="54.99" x2="411.40" y2="54.99" stroke="#cc9142" stroke-width="0.65" opacity="0.75"/>
<line x1="406.80" y1="68.55" x2="411.40" y2="68.55" stroke="#cc9142" stroke-width="0.65" opacity="0.75"/>
<line x1="422.80" y1="39.17" x2="422.80" y2="52.73" stroke="#cc9142" stroke-width="0.65" opacity="0.75"/>
<line x1="420.50" y1="39.17" x2="425.10" y2="39.17" stroke="#cc9142" stroke-width="0.65" opacity="0.75"/>
<line x1="420.50" y1="52.73" x2="425.10" y2="52.73" stroke="#cc9142" stroke-width="0.65" opacity="0.75"/>
<path d="M381.60,96.80 L395.30,79.85 L409.10,61.77 L422.80,45.95" fill="none" stroke="#cc9142" stroke-width="1.1"/>
<circle cx="381.60" cy="96.80" r="2.25" fill="#cc9142"/>
<circle cx="395.30" cy="79.85" r="2.25" fill="#cc9142"/>
<circle cx="409.10" cy="61.77" r="2.25" fill="#cc9142"/>
<circle cx="422.80" cy="45.95" r="2.25" fill="#cc9142"/>
<line x1="395.30" y1="72.62" x2="395.30" y2="79.40" stroke="#a8652a" stroke-width="0.65" opacity="0.75"/>
<line x1="393.00" y1="72.62" x2="397.60" y2="72.62" stroke="#a8652a" stroke-width="0.65" opacity="0.75"/>
<line x1="393.00" y1="79.40" x2="397.60" y2="79.40" stroke="#a8652a" stroke-width="0.65" opacity="0.75"/>
<line x1="409.10" y1="52.73" x2="409.10" y2="66.29" stroke="#a8652a" stroke-width="0.65" opacity="0.75"/>
<line x1="406.80" y1="52.73" x2="411.40" y2="52.73" stroke="#a8652a" stroke-width="0.65" opacity="0.75"/>
<line x1="406.80" y1="66.29" x2="411.40" y2="66.29" stroke="#a8652a" stroke-width="0.65" opacity="0.75"/>
<line x1="422.80" y1="39.17" x2="422.80" y2="50.47" stroke="#a8652a" stroke-width="0.65" opacity="0.75"/>
<line x1="420.50" y1="39.17" x2="425.10" y2="39.17" stroke="#a8652a" stroke-width="0.65" opacity="0.75"/>
<line x1="420.50" y1="50.47" x2="425.10" y2="50.47" stroke="#a8652a" stroke-width="0.65" opacity="0.75"/>
<path d="M381.60,96.80 L395.30,76.01 L409.10,59.51 L422.80,44.82" fill="none" stroke="#a8652a" stroke-width="1.1"/>
<circle cx="381.60" cy="96.80" r="2.25" fill="#a8652a"/>
<circle cx="395.30" cy="76.01" r="2.25" fill="#a8652a"/>
<circle cx="409.10" cy="59.51" r="2.25" fill="#a8652a"/>
<circle cx="422.80" cy="44.82" r="2.25" fill="#a8652a"/>
<line x1="395.30" y1="79.85" x2="395.30" y2="88.89" stroke="#2e8a7e" stroke-width="0.65" opacity="0.75"/>
<line x1="393.00" y1="79.85" x2="397.60" y2="79.85" stroke="#2e8a7e" stroke-width="0.65" opacity="0.75"/>
<line x1="393.00" y1="88.89" x2="397.60" y2="88.89" stroke="#2e8a7e" stroke-width="0.65" opacity="0.75"/>
<line x1="409.10" y1="60.64" x2="409.10" y2="69.68" stroke="#2e8a7e" stroke-width="0.65" opacity="0.75"/>
<line x1="406.80" y1="60.64" x2="411.40" y2="60.64" stroke="#2e8a7e" stroke-width="0.65" opacity="0.75"/>
<line x1="406.80" y1="69.68" x2="411.40" y2="69.68" stroke="#2e8a7e" stroke-width="0.65" opacity="0.75"/>
<line x1="422.80" y1="41.77" x2="422.80" y2="50.81" stroke="#2e8a7e" stroke-width="0.65" opacity="0.75"/>
<line x1="420.50" y1="41.77" x2="425.10" y2="41.77" stroke="#2e8a7e" stroke-width="0.65" opacity="0.75"/>
<line x1="420.50" y1="50.81" x2="425.10" y2="50.81" stroke="#2e8a7e" stroke-width="0.65" opacity="0.75"/>
<path d="M381.60,96.80 L395.30,84.37 L409.10,65.16 L422.80,46.29" fill="none" stroke="#2e8a7e" stroke-width="1.1"/>
<circle cx="381.60" cy="96.80" r="2.25" fill="#2e8a7e"/>
<circle cx="395.30" cy="84.37" r="2.25" fill="#2e8a7e"/>
<circle cx="409.10" cy="65.16" r="2.25" fill="#2e8a7e"/>
<circle cx="422.80" cy="46.29" r="2.25" fill="#2e8a7e"/>
<rect x="425.90" y="89.10" width="4.7" height="1.8" fill="#111"/>
<text x="431.80" y="92.30" font-size="6.1" text-anchor="start" fill="#222" >0.0287</text>
<text x="444.00" y="10.00" font-size="13" text-anchor="start" fill="#000" >e</text>
<line x1="487.20" y1="29.00" x2="487.20" y2="119.60" stroke="#1a1a1a" stroke-width="1" />
<line x1="483.90" y1="119.00" x2="487.20" y2="119.00" stroke="#1a1a1a" stroke-width="1" />
<text x="482.40" y="121.60" font-size="7.3" text-anchor="end" fill="#1a1a1a" >-40</text>
<line x1="483.90" y1="101.00" x2="487.20" y2="101.00" stroke="#1a1a1a" stroke-width="1" />
<text x="482.40" y="103.60" font-size="7.3" text-anchor="end" fill="#1a1a1a" >-20</text>
<line x1="483.90" y1="83.00" x2="487.20" y2="83.00" stroke="#1a1a1a" stroke-width="1" />
<text x="482.40" y="85.60" font-size="7.3" text-anchor="end" fill="#1a1a1a" >0</text>
<line x1="483.90" y1="65.00" x2="487.20" y2="65.00" stroke="#1a1a1a" stroke-width="1" />
<text x="482.40" y="67.60" font-size="7.3" text-anchor="end" fill="#1a1a1a" >20</text>
<line x1="483.90" y1="47.00" x2="487.20" y2="47.00" stroke="#1a1a1a" stroke-width="1" />
<text x="482.40" y="49.60" font-size="7.3" text-anchor="end" fill="#1a1a1a" >40</text>
<line x1="483.90" y1="29.00" x2="487.20" y2="29.00" stroke="#1a1a1a" stroke-width="1" />
<text x="482.40" y="31.60" font-size="7.3" text-anchor="end" fill="#1a1a1a" >60</text>
<line x1="486.70" y1="119.10" x2="546.00" y2="119.10" stroke="#1a1a1a" stroke-width="1" />
<line x1="495.90" y1="119.10" x2="495.90" y2="123.40" stroke="#1a1a1a" stroke-width="1" />
<text x="498.20" y="129.70" font-size="6.8" text-anchor="end" fill="#222" transform="rotate(-45 498.20 129.70)">0</text>
<line x1="509.40" y1="119.10" x2="509.40" y2="123.40" stroke="#1a1a1a" stroke-width="1" />
<text x="511.70" y="129.70" font-size="6.8" text-anchor="end" fill="#222" transform="rotate(-45 511.70 129.70)">20</text>
<line x1="523.00" y1="119.10" x2="523.00" y2="123.40" stroke="#1a1a1a" stroke-width="1" />
<text x="525.30" y="129.70" font-size="6.8" text-anchor="end" fill="#222" transform="rotate(-45 525.30 129.70)">200</text>
<line x1="536.60" y1="119.10" x2="536.60" y2="123.40" stroke="#1a1a1a" stroke-width="1" />
<text x="538.90" y="129.70" font-size="6.8" text-anchor="end" fill="#222" transform="rotate(-45 538.90 129.70)">2000</text>
<text x="466.80" y="73.40" font-size="12.5" text-anchor="middle" fill="#111" stroke="#111" stroke-width="0.25" transform="rotate(-90 466.80 73.40)">CD81 transfer (%)</text>
<text x="516.00" y="148.90" font-size="8.6" text-anchor="middle" fill="#111" stroke="#111" stroke-width="0.12">anti-CD3ε-Fab</text>
<text x="516.00" y="159.60" font-size="8.17" text-anchor="middle" fill="#111" stroke="#111" stroke-width="0.12">(molec./µm<tspan font-size="6.3" dy="-3.4">2</tspan><tspan dy="3.4">)</tspan></text>
<line x1="509.40" y1="81.20" x2="509.40" y2="90.20" stroke="#d9d9d9" stroke-width="0.65" opacity="0.75"/>
<line x1="507.10" y1="81.20" x2="511.70" y2="81.20" stroke="#d9d9d9" stroke-width="0.65" opacity="0.75"/>
<line x1="507.10" y1="90.20" x2="511.70" y2="90.20" stroke="#d9d9d9" stroke-width="0.65" opacity="0.75"/>
<line x1="523.00" y1="76.70" x2="523.00" y2="85.70" stroke="#d9d9d9" stroke-width="0.65" opacity="0.75"/>
<line x1="520.70" y1="76.70" x2="525.30" y2="76.70" stroke="#d9d9d9" stroke-width="0.65" opacity="0.75"/>
<line x1="520.70" y1="85.70" x2="525.30" y2="85.70" stroke="#d9d9d9" stroke-width="0.65" opacity="0.75"/>
<line x1="536.60" y1="71.03" x2="536.60" y2="107.03" stroke="#d9d9d9" stroke-width="0.65" opacity="0.75"/>
<line x1="534.30" y1="71.03" x2="538.90" y2="71.03" stroke="#d9d9d9" stroke-width="0.65" opacity="0.75"/>
<line x1="534.30" y1="107.03" x2="538.90" y2="107.03" stroke="#d9d9d9" stroke-width="0.65" opacity="0.75"/>
<path d="M495.90,83.00 L509.40,85.70 L523.00,81.20 L536.60,89.03" fill="none" stroke="#d9d9d9" stroke-width="1.1"/>
<circle cx="495.90" cy="83.00" r="2.25" fill="#d9d9d9"/>
<circle cx="509.40" cy="85.70" r="2.25" fill="#d9d9d9"/>
<circle cx="523.00" cy="81.20" r="2.25" fill="#d9d9d9"/>
<circle cx="536.60" cy="89.03" r="2.25" fill="#d9d9d9"/>
<line x1="509.40" y1="79.40" x2="509.40" y2="83.00" stroke="#e6c47e" stroke-width="0.65" opacity="0.75"/>
<line x1="507.10" y1="79.40" x2="511.70" y2="79.40" stroke="#e6c47e" stroke-width="0.65" opacity="0.75"/>
<line x1="507.10" y1="83.00" x2="511.70" y2="83.00" stroke="#e6c47e" stroke-width="0.65" opacity="0.75"/>
<line x1="523.00" y1="72.20" x2="523.00" y2="77.60" stroke="#e6c47e" stroke-width="0.65" opacity="0.75"/>
<line x1="520.70" y1="72.20" x2="525.30" y2="72.20" stroke="#e6c47e" stroke-width="0.65" opacity="0.75"/>
<line x1="520.70" y1="77.60" x2="525.30" y2="77.60" stroke="#e6c47e" stroke-width="0.65" opacity="0.75"/>
<line x1="536.60" y1="61.40" x2="536.60" y2="68.60" stroke="#e6c47e" stroke-width="0.65" opacity="0.75"/>
<line x1="534.30" y1="61.40" x2="538.90" y2="61.40" stroke="#e6c47e" stroke-width="0.65" opacity="0.75"/>
<line x1="534.30" y1="68.60" x2="538.90" y2="68.60" stroke="#e6c47e" stroke-width="0.65" opacity="0.75"/>
<path d="M495.90,83.00 L509.40,81.20 L523.00,74.90 L536.60,65.00" fill="none" stroke="#e6c47e" stroke-width="1.1"/>
<circle cx="495.90" cy="83.00" r="2.25" fill="#e6c47e"/>
<circle cx="509.40" cy="81.20" r="2.25" fill="#e6c47e"/>
<circle cx="523.00" cy="74.90" r="2.25" fill="#e6c47e"/>
<circle cx="536.60" cy="65.00" r="2.25" fill="#e6c47e"/>
<line x1="509.40" y1="81.20" x2="509.40" y2="84.80" stroke="#222222" stroke-width="0.65" opacity="0.75"/>
<line x1="507.10" y1="81.20" x2="511.70" y2="81.20" stroke="#222222" stroke-width="0.65" opacity="0.75"/>
<line x1="507.10" y1="84.80" x2="511.70" y2="84.80" stroke="#222222" stroke-width="0.65" opacity="0.75"/>
<line x1="523.00" y1="75.80" x2="523.00" y2="81.20" stroke="#222222" stroke-width="0.65" opacity="0.75"/>
<line x1="520.70" y1="75.80" x2="525.30" y2="75.80" stroke="#222222" stroke-width="0.65" opacity="0.75"/>
<line x1="520.70" y1="81.20" x2="525.30" y2="81.20" stroke="#222222" stroke-width="0.65" opacity="0.75"/>
<line x1="536.60" y1="76.43" x2="536.60" y2="80.03" stroke="#222222" stroke-width="0.65" opacity="0.75"/>
<line x1="534.30" y1="76.43" x2="538.90" y2="76.43" stroke="#222222" stroke-width="0.65" opacity="0.75"/>
<line x1="534.30" y1="80.03" x2="538.90" y2="80.03" stroke="#222222" stroke-width="0.65" opacity="0.75"/>
<path d="M495.90,83.00 L509.40,83.00 L523.00,78.50 L536.60,78.23" fill="none" stroke="#222222" stroke-width="1.1"/>
<circle cx="495.90" cy="83.00" r="2.25" fill="#222222"/>
<circle cx="509.40" cy="83.00" r="2.25" fill="#222222"/>
<circle cx="523.00" cy="78.50" r="2.25" fill="#222222"/>
<circle cx="536.60" cy="78.23" r="2.25" fill="#222222"/>
<line x1="509.40" y1="78.50" x2="509.40" y2="82.10" stroke="#cc9142" stroke-width="0.65" opacity="0.75"/>
<line x1="507.10" y1="78.50" x2="511.70" y2="78.50" stroke="#cc9142" stroke-width="0.65" opacity="0.75"/>
<line x1="507.10" y1="82.10" x2="511.70" y2="82.10" stroke="#cc9142" stroke-width="0.65" opacity="0.75"/>
<line x1="523.00" y1="66.80" x2="523.00" y2="74.00" stroke="#cc9142" stroke-width="0.65" opacity="0.75"/>
<line x1="520.70" y1="66.80" x2="525.30" y2="66.80" stroke="#cc9142" stroke-width="0.65" opacity="0.75"/>
<line x1="520.70" y1="74.00" x2="525.30" y2="74.00" stroke="#cc9142" stroke-width="0.65" opacity="0.75"/>
<line x1="536.60" y1="51.50" x2="536.60" y2="62.30" stroke="#cc9142" stroke-width="0.65" opacity="0.75"/>
<line x1="534.30" y1="51.50" x2="538.90" y2="51.50" stroke="#cc9142" stroke-width="0.65" opacity="0.75"/>
<line x1="534.30" y1="62.30" x2="538.90" y2="62.30" stroke="#cc9142" stroke-width="0.65" opacity="0.75"/>
<path d="M495.90,83.00 L509.40,80.30 L523.00,70.40 L536.60,56.90" fill="none" stroke="#cc9142" stroke-width="1.1"/>
<circle cx="495.90" cy="83.00" r="2.25" fill="#cc9142"/>
<circle cx="509.40" cy="80.30" r="2.25" fill="#cc9142"/>
<circle cx="523.00" cy="70.40" r="2.25" fill="#cc9142"/>
<circle cx="536.60" cy="56.90" r="2.25" fill="#cc9142"/>
<line x1="509.40" y1="74.90" x2="509.40" y2="80.30" stroke="#a8652a" stroke-width="0.65" opacity="0.75"/>
<line x1="507.10" y1="74.90" x2="511.70" y2="74.90" stroke="#a8652a" stroke-width="0.65" opacity="0.75"/>
<line x1="507.10" y1="80.30" x2="511.70" y2="80.30" stroke="#a8652a" stroke-width="0.65" opacity="0.75"/>
<line x1="523.00" y1="61.40" x2="523.00" y2="72.20" stroke="#a8652a" stroke-width="0.65" opacity="0.75"/>
<line x1="520.70" y1="61.40" x2="525.30" y2="61.40" stroke="#a8652a" stroke-width="0.65" opacity="0.75"/>
<line x1="520.70" y1="72.20" x2="525.30" y2="72.20" stroke="#a8652a" stroke-width="0.65" opacity="0.75"/>
<line x1="536.60" y1="48.80" x2="536.60" y2="61.40" stroke="#a8652a" stroke-width="0.65" opacity="0.75"/>
<line x1="534.30" y1="48.80" x2="538.90" y2="48.80" stroke="#a8652a" stroke-width="0.65" opacity="0.75"/>
<line x1="534.30" y1="61.40" x2="538.90" y2="61.40" stroke="#a8652a" stroke-width="0.65" opacity="0.75"/>
<path d="M495.90,83.00 L509.40,77.60 L523.00,66.80 L536.60,55.10" fill="none" stroke="#a8652a" stroke-width="1.1"/>
<circle cx="495.90" cy="83.00" r="2.25" fill="#a8652a"/>
<circle cx="509.40" cy="77.60" r="2.25" fill="#a8652a"/>
<circle cx="523.00" cy="66.80" r="2.25" fill="#a8652a"/>
<circle cx="536.60" cy="55.10" r="2.25" fill="#a8652a"/>
<line x1="509.40" y1="80.75" x2="509.40" y2="84.35" stroke="#2e8a7e" stroke-width="0.65" opacity="0.75"/>
<line x1="507.10" y1="80.75" x2="511.70" y2="80.75" stroke="#2e8a7e" stroke-width="0.65" opacity="0.75"/>
<line x1="507.10" y1="84.35" x2="511.70" y2="84.35" stroke="#2e8a7e" stroke-width="0.65" opacity="0.75"/>
<line x1="523.00" y1="69.50" x2="523.00" y2="76.70" stroke="#2e8a7e" stroke-width="0.65" opacity="0.75"/>
<line x1="520.70" y1="69.50" x2="525.30" y2="69.50" stroke="#2e8a7e" stroke-width="0.65" opacity="0.75"/>
<line x1="520.70" y1="76.70" x2="525.30" y2="76.70" stroke="#2e8a7e" stroke-width="0.65" opacity="0.75"/>
<line x1="536.60" y1="51.50" x2="536.60" y2="60.50" stroke="#2e8a7e" stroke-width="0.65" opacity="0.75"/>
<line x1="534.30" y1="51.50" x2="538.90" y2="51.50" stroke="#2e8a7e" stroke-width="0.65" opacity="0.75"/>
<line x1="534.30" y1="60.50" x2="538.90" y2="60.50" stroke="#2e8a7e" stroke-width="0.65" opacity="0.75"/>
<path d="M495.90,83.00 L509.40,82.55 L523.00,73.10 L536.60,56.00" fill="none" stroke="#2e8a7e" stroke-width="1.1"/>
<circle cx="495.90" cy="83.00" r="2.25" fill="#2e8a7e"/>
<circle cx="509.40" cy="82.55" r="2.25" fill="#2e8a7e"/>
<circle cx="523.00" cy="73.10" r="2.25" fill="#2e8a7e"/>
<circle cx="536.60" cy="56.00" r="2.25" fill="#2e8a7e"/>
<rect x="540.80" y="77.90" width="4.8" height="1.8" fill="#111"/>
<text x="546.90" y="81.10" font-size="6.15" text-anchor="start" fill="#222" >0.0035</text>
<text x="0" y="0" font-size="13.3" text-anchor="start" fill="#111" transform="translate(585.60 32.70) scale(1.06 1)" >Legend</text>
<line x1="571.30" y1="44.90" x2="581.30" y2="44.90" stroke="#2e8a7e" stroke-width="1.1" />
<circle cx="576.3" cy="44.90" r="2" fill="#2e8a7e"/>
<text x="0" y="0" font-size="8.2" text-anchor="start" fill="#1a1a1a" transform="translate(586.60 48.00) scale(0.92 1)" >ICAM1 + CD40 (Ctrl)</text>
<line x1="571.30" y1="57.05" x2="581.30" y2="57.05" stroke="#cc9142" stroke-width="1.1" />
<circle cx="576.3" cy="57.05" r="2" fill="#cc9142"/>
<text x="0" y="0" font-size="8.2" text-anchor="start" fill="#1a1a1a" transform="translate(586.60 60.15) scale(0.92 1)" >Ctrl + CD80 + CD86 + ICOSL</text>
<line x1="571.30" y1="69.20" x2="581.30" y2="69.20" stroke="#e6c47e" stroke-width="1.1" />
<circle cx="576.3" cy="69.20" r="2" fill="#e6c47e"/>
<text x="0" y="0" font-size="8.2" text-anchor="start" fill="#1a1a1a" transform="translate(586.60 72.30) scale(0.92 1)" >Ctrl + PD-L1 + PD-L2</text>
<line x1="571.30" y1="81.35" x2="581.30" y2="81.35" stroke="#a8652a" stroke-width="1.1" />
<circle cx="576.3" cy="81.35" r="2" fill="#a8652a"/>
<text x="0" y="0" font-size="8.2" text-anchor="start" fill="#1a1a1a" transform="translate(586.60 84.45) scale(0.92 1)" >Ctrl + CD58</text>
<line x1="571.30" y1="93.50" x2="581.30" y2="93.50" stroke="#d9d9d9" stroke-width="1.1" />
<circle cx="576.3" cy="93.50" r="2" fill="#d9d9d9"/>
<text x="0" y="0" font-size="8.2" text-anchor="start" fill="#1a1a1a" transform="translate(586.60 96.60) scale(0.92 1)" >Ctrl + GP120</text>
<line x1="571.30" y1="105.65" x2="581.30" y2="105.65" stroke="#222222" stroke-width="1.1" />
<circle cx="576.3" cy="105.65" r="2" fill="#222222"/>
<text x="0" y="0" font-size="8.2" text-anchor="start" fill="#1a1a1a" transform="translate(586.60 108.75) scale(0.92 1)" >Ctrl + OX40L + 4-1BBL</text>
<text x="0.20" y="172.50" font-size="13" text-anchor="start" fill="#000" >f</text>
<line x1="33.30" y1="186.80" x2="33.30" y2="282.80" stroke="#1a1a1a" stroke-width="1" />
<line x1="30.00" y1="282.30" x2="33.30" y2="282.30" stroke="#1a1a1a" stroke-width="1" />
<text x="28.50" y="284.90" font-size="7.3" text-anchor="end" fill="#1a1a1a" >-10</text>
<line x1="30.00" y1="263.20" x2="33.30" y2="263.20" stroke="#1a1a1a" stroke-width="1" />
<text x="28.50" y="265.80" font-size="7.3" text-anchor="end" fill="#1a1a1a" >0</text>
<line x1="30.00" y1="244.10" x2="33.30" y2="244.10" stroke="#1a1a1a" stroke-width="1" />
<text x="28.50" y="246.70" font-size="7.3" text-anchor="end" fill="#1a1a1a" >10</text>
<line x1="30.00" y1="225.00" x2="33.30" y2="225.00" stroke="#1a1a1a" stroke-width="1" />
<text x="28.50" y="227.60" font-size="7.3" text-anchor="end" fill="#1a1a1a" >20</text>
<line x1="30.00" y1="205.90" x2="33.30" y2="205.90" stroke="#1a1a1a" stroke-width="1" />
<text x="28.50" y="208.50" font-size="7.3" text-anchor="end" fill="#1a1a1a" >30</text>
<line x1="30.00" y1="186.80" x2="33.30" y2="186.80" stroke="#1a1a1a" stroke-width="1" />
<text x="28.50" y="189.40" font-size="7.3" text-anchor="end" fill="#1a1a1a" >40</text>
<line x1="32.80" y1="282.30" x2="97.20" y2="282.30" stroke="#1a1a1a" stroke-width="1" />
<line x1="43.00" y1="282.30" x2="43.00" y2="286.60" stroke="#1a1a1a" stroke-width="1" />
<text x="45.30" y="292.90" font-size="6.8" text-anchor="end" fill="#222" transform="rotate(-45 45.30 292.90)">0</text>
<line x1="57.60" y1="282.30" x2="57.60" y2="286.60" stroke="#1a1a1a" stroke-width="1" />
<text x="59.90" y="292.90" font-size="6.8" text-anchor="end" fill="#222" transform="rotate(-45 59.90 292.90)">20</text>
<line x1="72.20" y1="282.30" x2="72.20" y2="286.60" stroke="#1a1a1a" stroke-width="1" />
<text x="74.50" y="292.90" font-size="6.8" text-anchor="end" fill="#222" transform="rotate(-45 74.50 292.90)">200</text>
<line x1="86.80" y1="282.30" x2="86.80" y2="286.60" stroke="#1a1a1a" stroke-width="1" />
<text x="89.10" y="292.90" font-size="6.8" text-anchor="end" fill="#222" transform="rotate(-45 89.10 292.90)">2000</text>
<text x="10.80" y="232.30" font-size="12.5" text-anchor="middle" fill="#111" stroke="#111" stroke-width="0.25" transform="rotate(-90 10.80 232.30)">BST2 transfer (%)</text>
<text x="66.60" y="316.10" font-size="9.0" text-anchor="middle" fill="#111" stroke="#111" stroke-width="0.12">UCHT1-Fab density</text>
<text x="66.60" y="326.80" font-size="9.0" text-anchor="middle" fill="#111" stroke="#111" stroke-width="0.12">(Molec./µm<tspan font-size="6.3" dy="-3.4">2</tspan><tspan dy="3.4">)</tspan></text>
<line x1="57.60" y1="223.85" x2="57.60" y2="250.59" stroke="#d9d9d9" stroke-width="0.65" opacity="0.75"/>
<line x1="55.30" y1="223.85" x2="59.90" y2="223.85" stroke="#d9d9d9" stroke-width="0.65" opacity="0.75"/>
<line x1="55.30" y1="250.59" x2="59.90" y2="250.59" stroke="#d9d9d9" stroke-width="0.65" opacity="0.75"/>
<line x1="72.20" y1="230.54" x2="72.20" y2="243.91" stroke="#d9d9d9" stroke-width="0.65" opacity="0.75"/>
<line x1="69.90" y1="230.54" x2="74.50" y2="230.54" stroke="#d9d9d9" stroke-width="0.65" opacity="0.75"/>
<line x1="69.90" y1="243.91" x2="74.50" y2="243.91" stroke="#d9d9d9" stroke-width="0.65" opacity="0.75"/>
<line x1="86.80" y1="232.64" x2="86.80" y2="247.92" stroke="#d9d9d9" stroke-width="0.65" opacity="0.75"/>
<line x1="84.50" y1="232.64" x2="89.10" y2="232.64" stroke="#d9d9d9" stroke-width="0.65" opacity="0.75"/>
<line x1="84.50" y1="247.92" x2="89.10" y2="247.92" stroke="#d9d9d9" stroke-width="0.65" opacity="0.75"/>
<path d="M43.00,263.20 L57.60,237.22 L72.20,237.22 L86.80,240.28" fill="none" stroke="#d9d9d9" stroke-width="1.1"/>
<circle cx="43.00" cy="263.20" r="2.25" fill="#d9d9d9"/>
<circle cx="57.60" cy="237.22" r="2.25" fill="#d9d9d9"/>
<circle cx="72.20" cy="237.22" r="2.25" fill="#d9d9d9"/>
<circle cx="86.80" cy="240.28" r="2.25" fill="#d9d9d9"/>
<line x1="57.60" y1="261.29" x2="57.60" y2="265.11" stroke="#e6c47e" stroke-width="0.65" opacity="0.75"/>
<line x1="55.30" y1="261.29" x2="59.90" y2="261.29" stroke="#e6c47e" stroke-width="0.65" opacity="0.75"/>
<line x1="55.30" y1="265.11" x2="59.90" y2="265.11" stroke="#e6c47e" stroke-width="0.65" opacity="0.75"/>
<line x1="72.20" y1="250.78" x2="72.20" y2="258.43" stroke="#e6c47e" stroke-width="0.65" opacity="0.75"/>
<line x1="69.90" y1="250.78" x2="74.50" y2="250.78" stroke="#e6c47e" stroke-width="0.65" opacity="0.75"/>
<line x1="69.90" y1="258.43" x2="74.50" y2="258.43" stroke="#e6c47e" stroke-width="0.65" opacity="0.75"/>
<line x1="86.80" y1="225.38" x2="86.80" y2="240.66" stroke="#e6c47e" stroke-width="0.65" opacity="0.75"/>
<line x1="84.50" y1="225.38" x2="89.10" y2="225.38" stroke="#e6c47e" stroke-width="0.65" opacity="0.75"/>
<line x1="84.50" y1="240.66" x2="89.10" y2="240.66" stroke="#e6c47e" stroke-width="0.65" opacity="0.75"/>
<path d="M43.00,263.20 L57.60,263.20 L72.20,254.60 L86.80,233.02" fill="none" stroke="#e6c47e" stroke-width="1.1"/>
<circle cx="43.00" cy="263.20" r="2.25" fill="#e6c47e"/>
<circle cx="57.60" cy="263.20" r="2.25" fill="#e6c47e"/>
<circle cx="72.20" cy="254.60" r="2.25" fill="#e6c47e"/>
<circle cx="86.80" cy="233.02" r="2.25" fill="#e6c47e"/>
<line x1="57.60" y1="262.05" x2="57.60" y2="265.87" stroke="#222222" stroke-width="0.65" opacity="0.75"/>
<line x1="55.30" y1="262.05" x2="59.90" y2="262.05" stroke="#222222" stroke-width="0.65" opacity="0.75"/>
<line x1="55.30" y1="265.87" x2="59.90" y2="265.87" stroke="#222222" stroke-width="0.65" opacity="0.75"/>
<line x1="72.20" y1="254.22" x2="72.20" y2="261.86" stroke="#222222" stroke-width="0.65" opacity="0.75"/>
<line x1="69.90" y1="254.22" x2="74.50" y2="254.22" stroke="#222222" stroke-width="0.65" opacity="0.75"/>
<line x1="69.90" y1="261.86" x2="74.50" y2="261.86" stroke="#222222" stroke-width="0.65" opacity="0.75"/>
<line x1="86.80" y1="238.37" x2="86.80" y2="249.83" stroke="#222222" stroke-width="0.65" opacity="0.75"/>
<line x1="84.50" y1="238.37" x2="89.10" y2="238.37" stroke="#222222" stroke-width="0.65" opacity="0.75"/>
<line x1="84.50" y1="249.83" x2="89.10" y2="249.83" stroke="#222222" stroke-width="0.65" opacity="0.75"/>
<path d="M43.00,263.20 L57.60,263.96 L72.20,258.04 L86.80,244.10" fill="none" stroke="#222222" stroke-width="1.1"/>
<circle cx="43.00" cy="263.20" r="2.25" fill="#222222"/>
<circle cx="57.60" cy="263.96" r="2.25" fill="#222222"/>
<circle cx="72.20" cy="258.04" r="2.25" fill="#222222"/>
<circle cx="86.80" cy="244.10" r="2.25" fill="#222222"/>
<line x1="57.60" y1="252.69" x2="57.60" y2="260.33" stroke="#cc9142" stroke-width="0.65" opacity="0.75"/>
<line x1="55.30" y1="252.69" x2="59.90" y2="252.69" stroke="#cc9142" stroke-width="0.65" opacity="0.75"/>
<line x1="55.30" y1="260.33" x2="59.90" y2="260.33" stroke="#cc9142" stroke-width="0.65" opacity="0.75"/>
<line x1="72.20" y1="236.46" x2="72.20" y2="247.92" stroke="#cc9142" stroke-width="0.65" opacity="0.75"/>
<line x1="69.90" y1="236.46" x2="74.50" y2="236.46" stroke="#cc9142" stroke-width="0.65" opacity="0.75"/>
<line x1="69.90" y1="247.92" x2="74.50" y2="247.92" stroke="#cc9142" stroke-width="0.65" opacity="0.75"/>
<line x1="86.80" y1="207.81" x2="86.80" y2="226.91" stroke="#cc9142" stroke-width="0.65" opacity="0.75"/>
<line x1="84.50" y1="207.81" x2="89.10" y2="207.81" stroke="#cc9142" stroke-width="0.65" opacity="0.75"/>
<line x1="84.50" y1="226.91" x2="89.10" y2="226.91" stroke="#cc9142" stroke-width="0.65" opacity="0.75"/>
<path d="M43.00,263.20 L57.60,256.51 L72.20,242.19 L86.80,217.36" fill="none" stroke="#cc9142" stroke-width="1.1"/>
<circle cx="43.00" cy="263.20" r="2.25" fill="#cc9142"/>
<circle cx="57.60" cy="256.51" r="2.25" fill="#cc9142"/>
<circle cx="72.20" cy="242.19" r="2.25" fill="#cc9142"/>
<circle cx="86.80" cy="217.36" r="2.25" fill="#cc9142"/>
<line x1="57.60" y1="253.08" x2="57.60" y2="260.72" stroke="#a8652a" stroke-width="0.65" opacity="0.75"/>
<line x1="55.30" y1="253.08" x2="59.90" y2="253.08" stroke="#a8652a" stroke-width="0.65" opacity="0.75"/>
<line x1="55.30" y1="260.72" x2="59.90" y2="260.72" stroke="#a8652a" stroke-width="0.65" opacity="0.75"/>
<line x1="72.20" y1="233.02" x2="72.20" y2="244.48" stroke="#a8652a" stroke-width="0.65" opacity="0.75"/>
<line x1="69.90" y1="233.02" x2="74.50" y2="233.02" stroke="#a8652a" stroke-width="0.65" opacity="0.75"/>
<line x1="69.90" y1="244.48" x2="74.50" y2="244.48" stroke="#a8652a" stroke-width="0.65" opacity="0.75"/>
<line x1="86.80" y1="205.90" x2="86.80" y2="225.00" stroke="#a8652a" stroke-width="0.65" opacity="0.75"/>
<line x1="84.50" y1="205.90" x2="89.10" y2="205.90" stroke="#a8652a" stroke-width="0.65" opacity="0.75"/>
<line x1="84.50" y1="225.00" x2="89.10" y2="225.00" stroke="#a8652a" stroke-width="0.65" opacity="0.75"/>
<path d="M43.00,263.20 L57.60,256.90 L72.20,238.75 L86.80,215.45" fill="none" stroke="#a8652a" stroke-width="1.1"/>
<circle cx="43.00" cy="263.20" r="2.25" fill="#a8652a"/>
<circle cx="57.60" cy="256.90" r="2.25" fill="#a8652a"/>
<circle cx="72.20" cy="238.75" r="2.25" fill="#a8652a"/>
<circle cx="86.80" cy="215.45" r="2.25" fill="#a8652a"/>
<line x1="57.60" y1="260.33" x2="57.60" y2="264.16" stroke="#2e8a7e" stroke-width="0.65" opacity="0.75"/>
<line x1="55.30" y1="260.33" x2="59.90" y2="260.33" stroke="#2e8a7e" stroke-width="0.65" opacity="0.75"/>
<line x1="55.30" y1="264.16" x2="59.90" y2="264.16" stroke="#2e8a7e" stroke-width="0.65" opacity="0.75"/>
<line x1="72.20" y1="243.14" x2="72.20" y2="250.78" stroke="#2e8a7e" stroke-width="0.65" opacity="0.75"/>
<line x1="69.90" y1="243.14" x2="74.50" y2="243.14" stroke="#2e8a7e" stroke-width="0.65" opacity="0.75"/>
<line x1="69.90" y1="250.78" x2="74.50" y2="250.78" stroke="#2e8a7e" stroke-width="0.65" opacity="0.75"/>
<line x1="86.80" y1="212.01" x2="86.80" y2="227.29" stroke="#2e8a7e" stroke-width="0.65" opacity="0.75"/>
<line x1="84.50" y1="212.01" x2="89.10" y2="212.01" stroke="#2e8a7e" stroke-width="0.65" opacity="0.75"/>
<line x1="84.50" y1="227.29" x2="89.10" y2="227.29" stroke="#2e8a7e" stroke-width="0.65" opacity="0.75"/>
<path d="M43.00,263.20 L57.60,262.25 L72.20,246.96 L86.80,219.65" fill="none" stroke="#2e8a7e" stroke-width="1.1"/>
<circle cx="43.00" cy="263.20" r="2.25" fill="#2e8a7e"/>
<circle cx="57.60" cy="262.25" r="2.25" fill="#2e8a7e"/>
<circle cx="72.20" cy="246.96" r="2.25" fill="#2e8a7e"/>
<circle cx="86.80" cy="219.65" r="2.25" fill="#2e8a7e"/>
<rect x="90.80" y="243.40" width="3.6" height="1.8" fill="#111"/>
<text x="95.40" y="246.60" font-size="6.6" text-anchor="start" fill="#222" >0.0021</text>
<text x="120.50" y="172.00" font-size="13" text-anchor="start" fill="#000" >g</text>
<line x1="147.90" y1="186.45" x2="147.90" y2="282.70" stroke="#1a1a1a" stroke-width="1" />
<line x1="144.60" y1="282.20" x2="147.90" y2="282.20" stroke="#1a1a1a" stroke-width="1" />
<text x="143.10" y="284.80" font-size="7.3" text-anchor="end" fill="#1a1a1a" >0</text>
<line x1="144.60" y1="263.05" x2="147.90" y2="263.05" stroke="#1a1a1a" stroke-width="1" />
<text x="143.10" y="265.65" font-size="7.3" text-anchor="end" fill="#1a1a1a" >10</text>
<line x1="144.60" y1="243.90" x2="147.90" y2="243.90" stroke="#1a1a1a" stroke-width="1" />
<text x="143.10" y="246.50" font-size="7.3" text-anchor="end" fill="#1a1a1a" >20</text>
<line x1="144.60" y1="224.75" x2="147.90" y2="224.75" stroke="#1a1a1a" stroke-width="1" />
<text x="143.10" y="227.35" font-size="7.3" text-anchor="end" fill="#1a1a1a" >30</text>
<line x1="144.60" y1="205.60" x2="147.90" y2="205.60" stroke="#1a1a1a" stroke-width="1" />
<text x="143.10" y="208.20" font-size="7.3" text-anchor="end" fill="#1a1a1a" >40</text>
<line x1="144.60" y1="186.45" x2="147.90" y2="186.45" stroke="#1a1a1a" stroke-width="1" />
<text x="143.10" y="189.05" font-size="7.3" text-anchor="end" fill="#1a1a1a" >50</text>
<line x1="147.40" y1="282.20" x2="212.80" y2="282.20" stroke="#1a1a1a" stroke-width="1" />
<line x1="157.80" y1="282.20" x2="157.80" y2="286.50" stroke="#1a1a1a" stroke-width="1" />
<text x="160.10" y="292.80" font-size="6.8" text-anchor="end" fill="#222" transform="rotate(-45 160.10 292.80)">0</text>
<line x1="172.50" y1="282.20" x2="172.50" y2="286.50" stroke="#1a1a1a" stroke-width="1" />
<text x="174.80" y="292.80" font-size="6.8" text-anchor="end" fill="#222" transform="rotate(-45 174.80 292.80)">20</text>
<line x1="187.00" y1="282.20" x2="187.00" y2="286.50" stroke="#1a1a1a" stroke-width="1" />
<text x="189.30" y="292.80" font-size="6.8" text-anchor="end" fill="#222" transform="rotate(-45 189.30 292.80)">200</text>
<line x1="201.70" y1="282.20" x2="201.70" y2="286.50" stroke="#1a1a1a" stroke-width="1" />
<text x="204.00" y="292.80" font-size="6.8" text-anchor="end" fill="#222" transform="rotate(-45 204.00 292.80)">2000</text>
<text x="128.50" y="230.10" font-size="12.5" text-anchor="middle" fill="#111" stroke="#111" stroke-width="0.25" transform="rotate(-90 128.50 230.10)">CD40L transfer (%)</text>
<text x="180.50" y="314.70" font-size="9.3" text-anchor="middle" fill="#111" stroke="#111" stroke-width="0.12">anti-CD3ε-Fab</text>
<text x="180.50" y="325.40" font-size="8.835" text-anchor="middle" fill="#111" stroke="#111" stroke-width="0.12">(molec./µm<tspan font-size="6.3" dy="-3.4">2</tspan><tspan dy="3.4">)</tspan></text>
<line x1="172.50" y1="207.51" x2="172.50" y2="238.15" stroke="#d9d9d9" stroke-width="0.65" opacity="0.75"/>
<line x1="170.20" y1="207.51" x2="174.80" y2="207.51" stroke="#d9d9d9" stroke-width="0.65" opacity="0.75"/>
<line x1="170.20" y1="238.15" x2="174.80" y2="238.15" stroke="#d9d9d9" stroke-width="0.65" opacity="0.75"/>
<line x1="187.00" y1="209.43" x2="187.00" y2="228.58" stroke="#d9d9d9" stroke-width="0.65" opacity="0.75"/>
<line x1="184.70" y1="209.43" x2="189.30" y2="209.43" stroke="#d9d9d9" stroke-width="0.65" opacity="0.75"/>
<line x1="184.70" y1="228.58" x2="189.30" y2="228.58" stroke="#d9d9d9" stroke-width="0.65" opacity="0.75"/>
<line x1="201.70" y1="217.09" x2="201.70" y2="232.41" stroke="#d9d9d9" stroke-width="0.65" opacity="0.75"/>
<line x1="199.40" y1="217.09" x2="204.00" y2="217.09" stroke="#d9d9d9" stroke-width="0.65" opacity="0.75"/>
<line x1="199.40" y1="232.41" x2="204.00" y2="232.41" stroke="#d9d9d9" stroke-width="0.65" opacity="0.75"/>
<path d="M157.80,282.20 L172.50,222.83 L187.00,219.00 L201.70,224.75" fill="none" stroke="#d9d9d9" stroke-width="1.1"/>
<circle cx="157.80" cy="282.20" r="2.25" fill="#d9d9d9"/>
<circle cx="172.50" cy="222.83" r="2.25" fill="#d9d9d9"/>
<circle cx="187.00" cy="219.00" r="2.25" fill="#d9d9d9"/>
<circle cx="201.70" cy="224.75" r="2.25" fill="#d9d9d9"/>
<line x1="172.50" y1="272.24" x2="172.50" y2="279.90" stroke="#e6c47e" stroke-width="0.65" opacity="0.75"/>
<line x1="170.20" y1="272.24" x2="174.80" y2="272.24" stroke="#e6c47e" stroke-width="0.65" opacity="0.75"/>
<line x1="170.20" y1="279.90" x2="174.80" y2="279.90" stroke="#e6c47e" stroke-width="0.65" opacity="0.75"/>
<line x1="187.00" y1="250.22" x2="187.00" y2="261.71" stroke="#e6c47e" stroke-width="0.65" opacity="0.75"/>
<line x1="184.70" y1="250.22" x2="189.30" y2="250.22" stroke="#e6c47e" stroke-width="0.65" opacity="0.75"/>
<line x1="184.70" y1="261.71" x2="189.30" y2="261.71" stroke="#e6c47e" stroke-width="0.65" opacity="0.75"/>
<line x1="201.70" y1="240.26" x2="201.70" y2="251.75" stroke="#e6c47e" stroke-width="0.65" opacity="0.75"/>
<line x1="199.40" y1="240.26" x2="204.00" y2="240.26" stroke="#e6c47e" stroke-width="0.65" opacity="0.75"/>
<line x1="199.40" y1="251.75" x2="204.00" y2="251.75" stroke="#e6c47e" stroke-width="0.65" opacity="0.75"/>
<path d="M157.80,282.20 L172.50,276.07 L187.00,255.96 L201.70,246.01" fill="none" stroke="#e6c47e" stroke-width="1.1"/>
<circle cx="157.80" cy="282.20" r="2.25" fill="#e6c47e"/>
<circle cx="172.50" cy="276.07" r="2.25" fill="#e6c47e"/>
<circle cx="187.00" cy="255.96" r="2.25" fill="#e6c47e"/>
<circle cx="201.70" cy="246.01" r="2.25" fill="#e6c47e"/>
<line x1="172.50" y1="265.16" x2="172.50" y2="272.82" stroke="#222222" stroke-width="0.65" opacity="0.75"/>
<line x1="170.20" y1="265.16" x2="174.80" y2="265.16" stroke="#222222" stroke-width="0.65" opacity="0.75"/>
<line x1="170.20" y1="272.82" x2="174.80" y2="272.82" stroke="#222222" stroke-width="0.65" opacity="0.75"/>
<line x1="187.00" y1="262.09" x2="187.00" y2="269.75" stroke="#222222" stroke-width="0.65" opacity="0.75"/>
<line x1="184.70" y1="262.09" x2="189.30" y2="262.09" stroke="#222222" stroke-width="0.65" opacity="0.75"/>
<line x1="184.70" y1="269.75" x2="189.30" y2="269.75" stroke="#222222" stroke-width="0.65" opacity="0.75"/>
<line x1="201.70" y1="257.31" x2="201.70" y2="268.80" stroke="#222222" stroke-width="0.65" opacity="0.75"/>
<line x1="199.40" y1="257.31" x2="204.00" y2="257.31" stroke="#222222" stroke-width="0.65" opacity="0.75"/>
<line x1="199.40" y1="268.80" x2="204.00" y2="268.80" stroke="#222222" stroke-width="0.65" opacity="0.75"/>
<path d="M157.80,282.20 L172.50,268.99 L187.00,265.92 L201.70,263.05" fill="none" stroke="#222222" stroke-width="1.1"/>
<circle cx="157.80" cy="282.20" r="2.25" fill="#222222"/>
<circle cx="172.50" cy="268.99" r="2.25" fill="#222222"/>
<circle cx="187.00" cy="265.92" r="2.25" fill="#222222"/>
<circle cx="201.70" cy="263.05" r="2.25" fill="#222222"/>
<line x1="172.50" y1="227.43" x2="172.50" y2="250.41" stroke="#cc9142" stroke-width="0.65" opacity="0.75"/>
<line x1="170.20" y1="227.43" x2="174.80" y2="227.43" stroke="#cc9142" stroke-width="0.65" opacity="0.75"/>
<line x1="170.20" y1="250.41" x2="174.80" y2="250.41" stroke="#cc9142" stroke-width="0.65" opacity="0.75"/>
<line x1="187.00" y1="224.75" x2="187.00" y2="243.90" stroke="#cc9142" stroke-width="0.65" opacity="0.75"/>
<line x1="184.70" y1="224.75" x2="189.30" y2="224.75" stroke="#cc9142" stroke-width="0.65" opacity="0.75"/>
<line x1="184.70" y1="243.90" x2="189.30" y2="243.90" stroke="#cc9142" stroke-width="0.65" opacity="0.75"/>
<line x1="201.70" y1="217.66" x2="201.70" y2="232.98" stroke="#cc9142" stroke-width="0.65" opacity="0.75"/>
<line x1="199.40" y1="217.66" x2="204.00" y2="217.66" stroke="#cc9142" stroke-width="0.65" opacity="0.75"/>
<line x1="199.40" y1="232.98" x2="204.00" y2="232.98" stroke="#cc9142" stroke-width="0.65" opacity="0.75"/>
<path d="M157.80,282.20 L172.50,238.92 L187.00,234.32 L201.70,225.32" fill="none" stroke="#cc9142" stroke-width="1.1"/>
<circle cx="157.80" cy="282.20" r="2.25" fill="#cc9142"/>
<circle cx="172.50" cy="238.92" r="2.25" fill="#cc9142"/>
<circle cx="187.00" cy="234.32" r="2.25" fill="#cc9142"/>
<circle cx="201.70" cy="225.32" r="2.25" fill="#cc9142"/>
<line x1="172.50" y1="233.18" x2="172.50" y2="244.67" stroke="#a8652a" stroke-width="0.65" opacity="0.75"/>
<line x1="170.20" y1="233.18" x2="174.80" y2="233.18" stroke="#a8652a" stroke-width="0.65" opacity="0.75"/>
<line x1="170.20" y1="244.67" x2="174.80" y2="244.67" stroke="#a8652a" stroke-width="0.65" opacity="0.75"/>
<line x1="187.00" y1="215.94" x2="187.00" y2="235.09" stroke="#a8652a" stroke-width="0.65" opacity="0.75"/>
<line x1="184.70" y1="215.94" x2="189.30" y2="215.94" stroke="#a8652a" stroke-width="0.65" opacity="0.75"/>
<line x1="184.70" y1="235.09" x2="189.30" y2="235.09" stroke="#a8652a" stroke-width="0.65" opacity="0.75"/>
<line x1="201.70" y1="219.00" x2="201.70" y2="230.50" stroke="#a8652a" stroke-width="0.65" opacity="0.75"/>
<line x1="199.40" y1="219.00" x2="204.00" y2="219.00" stroke="#a8652a" stroke-width="0.65" opacity="0.75"/>
<line x1="199.40" y1="230.50" x2="204.00" y2="230.50" stroke="#a8652a" stroke-width="0.65" opacity="0.75"/>
<path d="M157.80,282.20 L172.50,238.92 L187.00,225.52 L201.70,224.75" fill="none" stroke="#a8652a" stroke-width="1.1"/>
<circle cx="157.80" cy="282.20" r="2.25" fill="#a8652a"/>
<circle cx="172.50" cy="238.92" r="2.25" fill="#a8652a"/>
<circle cx="187.00" cy="225.52" r="2.25" fill="#a8652a"/>
<circle cx="201.70" cy="224.75" r="2.25" fill="#a8652a"/>
<line x1="172.50" y1="256.92" x2="172.50" y2="272.24" stroke="#2e8a7e" stroke-width="0.65" opacity="0.75"/>
<line x1="170.20" y1="256.92" x2="174.80" y2="256.92" stroke="#2e8a7e" stroke-width="0.65" opacity="0.75"/>
<line x1="170.20" y1="272.24" x2="174.80" y2="272.24" stroke="#2e8a7e" stroke-width="0.65" opacity="0.75"/>
<line x1="187.00" y1="231.84" x2="187.00" y2="243.33" stroke="#2e8a7e" stroke-width="0.65" opacity="0.75"/>
<line x1="184.70" y1="231.84" x2="189.30" y2="231.84" stroke="#2e8a7e" stroke-width="0.65" opacity="0.75"/>
<line x1="184.70" y1="243.33" x2="189.30" y2="243.33" stroke="#2e8a7e" stroke-width="0.65" opacity="0.75"/>
<line x1="201.70" y1="217.66" x2="201.70" y2="232.98" stroke="#2e8a7e" stroke-width="0.65" opacity="0.75"/>
<line x1="199.40" y1="217.66" x2="204.00" y2="217.66" stroke="#2e8a7e" stroke-width="0.65" opacity="0.75"/>
<line x1="199.40" y1="232.98" x2="204.00" y2="232.98" stroke="#2e8a7e" stroke-width="0.65" opacity="0.75"/>
<path d="M157.80,282.20 L172.50,264.58 L187.00,237.58 L201.70,225.32" fill="none" stroke="#2e8a7e" stroke-width="1.1"/>
<circle cx="157.80" cy="282.20" r="2.25" fill="#2e8a7e"/>
<circle cx="172.50" cy="264.58" r="2.25" fill="#2e8a7e"/>
<circle cx="187.00" cy="237.58" r="2.25" fill="#2e8a7e"/>
<circle cx="201.70" cy="225.32" r="2.25" fill="#2e8a7e"/>
<line x1="172.50" y1="193.40" x2="172.50" y2="203.20" stroke="#111" stroke-width="1.5" />
<text x="174.50" y="190.40" font-size="6.6" text-anchor="middle" fill="#222" >0.0189</text>
<text x="159.90" y="223.70" font-size="6.6" text-anchor="middle" fill="#222" >0.0221</text>
<path d="M163.6,226.8 V238.7 H172" fill="none" stroke="#111" stroke-width="1.6"/>
<rect x="205.90" y="244.40" width="5.9" height="1.8" fill="#111"/>
<text x="213.00" y="247.60" font-size="6.6" text-anchor="start" fill="#222" >0.0289</text>
<line x1="190.90" y1="254.80" x2="207.70" y2="254.80" stroke="#111" stroke-width="1.6" />
<text x="210.00" y="257.20" font-size="6.6" text-anchor="start" fill="#222" >0.0255</text>
<rect x="205.50" y="261.90" width="6.3" height="1.8" fill="#111"/>
<text x="213.50" y="265.10" font-size="6.6" text-anchor="start" fill="#222" >0.0043</text>
<line x1="186.70" y1="271.30" x2="186.70" y2="274.50" stroke="#111" stroke-width="1.5" />
<text x="194.80" y="280.60" font-size="6.6" text-anchor="middle" fill="#222" >0.0465</text>
<text x="445.00" y="172.50" font-size="13" text-anchor="start" fill="#000" >j</text>
<line x1="475.20" y1="183.40" x2="475.20" y2="283.20" stroke="#1a1a1a" stroke-width="1" />
<line x1="471.90" y1="282.70" x2="475.20" y2="282.70" stroke="#1a1a1a" stroke-width="1" />
<text x="470.40" y="285.30" font-size="7.3" text-anchor="end" fill="#1a1a1a" >0</text>
<line x1="471.90" y1="249.60" x2="475.20" y2="249.60" stroke="#1a1a1a" stroke-width="1" />
<text x="470.40" y="252.20" font-size="7.3" text-anchor="end" fill="#1a1a1a" >5</text>
<line x1="471.90" y1="216.50" x2="475.20" y2="216.50" stroke="#1a1a1a" stroke-width="1" />
<text x="470.40" y="219.10" font-size="7.3" text-anchor="end" fill="#1a1a1a" >10</text>
<line x1="471.90" y1="183.40" x2="475.20" y2="183.40" stroke="#1a1a1a" stroke-width="1" />
<text x="470.40" y="186.00" font-size="7.3" text-anchor="end" fill="#1a1a1a" >15</text>
<line x1="474.70" y1="282.70" x2="539.80" y2="282.70" stroke="#1a1a1a" stroke-width="1" />
<line x1="485.10" y1="282.70" x2="485.10" y2="287.00" stroke="#1a1a1a" stroke-width="1" />
<text x="487.40" y="293.30" font-size="6.8" text-anchor="end" fill="#222" transform="rotate(-45 487.40 293.30)">0</text>
<line x1="499.90" y1="282.70" x2="499.90" y2="287.00" stroke="#1a1a1a" stroke-width="1" />
<text x="502.20" y="293.30" font-size="6.8" text-anchor="end" fill="#222" transform="rotate(-45 502.20 293.30)">20</text>
<line x1="514.50" y1="282.70" x2="514.50" y2="287.00" stroke="#1a1a1a" stroke-width="1" />
<text x="516.80" y="293.30" font-size="6.8" text-anchor="end" fill="#222" transform="rotate(-45 516.80 293.30)">200</text>
<line x1="529.40" y1="282.70" x2="529.40" y2="287.00" stroke="#1a1a1a" stroke-width="1" />
<text x="531.70" y="293.30" font-size="6.8" text-anchor="end" fill="#222" transform="rotate(-45 531.70 293.30)">2000</text>
<text x="454.20" y="232.30" font-size="12.5" text-anchor="middle" fill="#111" stroke="#111" stroke-width="0.25" transform="rotate(-90 454.20 232.30)">CD4 transfer (%)</text>
<text x="505.60" y="315.70" font-size="9.6" text-anchor="middle" fill="#111" stroke="#111" stroke-width="0.12">anti-CD3ε-Fab</text>
<text x="505.60" y="326.40" font-size="9.12" text-anchor="middle" fill="#111" stroke="#111" stroke-width="0.12">(molec./µm<tspan font-size="6.3" dy="-3.4">2</tspan><tspan dy="3.4">)</tspan></text>
<line x1="485.10" y1="227.75" x2="485.10" y2="243.64" stroke="#d9d9d9" stroke-width="0.65" opacity="0.75"/>
<line x1="482.80" y1="227.75" x2="487.40" y2="227.75" stroke="#d9d9d9" stroke-width="0.65" opacity="0.75"/>
<line x1="482.80" y1="243.64" x2="487.40" y2="243.64" stroke="#d9d9d9" stroke-width="0.65" opacity="0.75"/>
<line x1="499.90" y1="217.16" x2="499.90" y2="233.05" stroke="#d9d9d9" stroke-width="0.65" opacity="0.75"/>
<line x1="497.60" y1="217.16" x2="502.20" y2="217.16" stroke="#d9d9d9" stroke-width="0.65" opacity="0.75"/>
<line x1="497.60" y1="233.05" x2="502.20" y2="233.05" stroke="#d9d9d9" stroke-width="0.65" opacity="0.75"/>
<line x1="514.50" y1="215.84" x2="514.50" y2="231.73" stroke="#d9d9d9" stroke-width="0.65" opacity="0.75"/>
<line x1="512.20" y1="215.84" x2="516.80" y2="215.84" stroke="#d9d9d9" stroke-width="0.65" opacity="0.75"/>
<line x1="512.20" y1="231.73" x2="516.80" y2="231.73" stroke="#d9d9d9" stroke-width="0.65" opacity="0.75"/>
<line x1="529.40" y1="231.73" x2="529.40" y2="247.61" stroke="#d9d9d9" stroke-width="0.65" opacity="0.75"/>
<line x1="527.10" y1="231.73" x2="531.70" y2="231.73" stroke="#d9d9d9" stroke-width="0.65" opacity="0.75"/>
<line x1="527.10" y1="247.61" x2="531.70" y2="247.61" stroke="#d9d9d9" stroke-width="0.65" opacity="0.75"/>
<path d="M485.10,235.70 L499.90,225.11 L514.50,223.78 L529.40,239.67" fill="none" stroke="#d9d9d9" stroke-width="1.1"/>
<circle cx="485.10" cy="235.70" r="2.25" fill="#d9d9d9"/>
<circle cx="499.90" cy="225.11" r="2.25" fill="#d9d9d9"/>
<circle cx="514.50" cy="223.78" r="2.25" fill="#d9d9d9"/>
<circle cx="529.40" cy="239.67" r="2.25" fill="#d9d9d9"/>
<line x1="485.10" y1="275.68" x2="485.10" y2="278.33" stroke="#2e8a7e" stroke-width="0.65" opacity="0.75"/>
<line x1="482.80" y1="275.68" x2="487.40" y2="275.68" stroke="#2e8a7e" stroke-width="0.65" opacity="0.75"/>
<line x1="482.80" y1="278.33" x2="487.40" y2="278.33" stroke="#2e8a7e" stroke-width="0.65" opacity="0.75"/>
<line x1="499.90" y1="272.77" x2="499.90" y2="275.42" stroke="#2e8a7e" stroke-width="0.65" opacity="0.75"/>
<line x1="497.60" y1="272.77" x2="502.20" y2="272.77" stroke="#2e8a7e" stroke-width="0.65" opacity="0.75"/>
<line x1="497.60" y1="275.42" x2="502.20" y2="275.42" stroke="#2e8a7e" stroke-width="0.65" opacity="0.75"/>
<line x1="514.50" y1="256.88" x2="514.50" y2="262.18" stroke="#2e8a7e" stroke-width="0.65" opacity="0.75"/>
<line x1="512.20" y1="256.88" x2="516.80" y2="256.88" stroke="#2e8a7e" stroke-width="0.65" opacity="0.75"/>
<line x1="512.20" y1="262.18" x2="516.80" y2="262.18" stroke="#2e8a7e" stroke-width="0.65" opacity="0.75"/>
<line x1="529.40" y1="238.35" x2="529.40" y2="243.64" stroke="#2e8a7e" stroke-width="0.65" opacity="0.75"/>
<line x1="527.10" y1="238.35" x2="531.70" y2="238.35" stroke="#2e8a7e" stroke-width="0.65" opacity="0.75"/>
<line x1="527.10" y1="243.64" x2="531.70" y2="243.64" stroke="#2e8a7e" stroke-width="0.65" opacity="0.75"/>
<path d="M485.10,277.01 L499.90,274.09 L514.50,259.53 L529.40,240.99" fill="none" stroke="#2e8a7e" stroke-width="1.1"/>
<circle cx="485.10" cy="277.01" r="2.25" fill="#2e8a7e"/>
<circle cx="499.90" cy="274.09" r="2.25" fill="#2e8a7e"/>
<circle cx="514.50" cy="259.53" r="2.25" fill="#2e8a7e"/>
<circle cx="529.40" cy="240.99" r="2.25" fill="#2e8a7e"/>
<line x1="485.00" y1="217.70" x2="485.00" y2="224.90" stroke="#111" stroke-width="1.5" />
<text x="487.10" y="216.90" font-size="6.6" text-anchor="middle" fill="#222" >0.0128</text>
<line x1="499.90" y1="197.40" x2="499.90" y2="213.00" stroke="#111" stroke-width="1.5" />
<text x="497.90" y="195.50" font-size="6.6" text-anchor="middle" fill="#222" >0.0039</text>
<line x1="514.60" y1="207.00" x2="514.60" y2="214.20" stroke="#111" stroke-width="1.5" />
<text x="514.60" y="204.50" font-size="6.6" text-anchor="middle" fill="#222" >0.0128</text>
<line x1="529.40" y1="220.00" x2="529.40" y2="227.30" stroke="#111" stroke-width="1.5" />
<text x="529.40" y="218.10" font-size="6.6" text-anchor="middle" fill="#222" >0.534</text>
<text x="240.60" y="173.00" font-size="13" text-anchor="start" fill="#000" >h</text>
<text x="292.60" y="197.80" font-size="11" text-anchor="middle" fill="#111" >200</text>
<text x="294.30" y="210.20" font-size="11" text-anchor="middle" fill="#111" >molec./µm<tspan font-size="7.5" dy="-4.8">2</tspan></text>
<path d="M252.50,248.50 C252.83,248.40 253.58,248.70 254.50,247.90 C255.42,247.10 256.75,246.20 258.00,243.70 C259.25,241.20 260.83,236.52 262.00,232.90 C263.17,229.28 264.12,224.18 265.00,222.00 C265.88,219.82 266.47,219.55 267.30,219.80 C268.13,220.05 269.22,222.05 270.00,223.50 C270.78,224.95 271.17,226.50 272.00,228.50 C272.83,230.50 274.00,233.17 275.00,235.50 C276.00,237.83 277.08,240.70 278.00,242.50 C278.92,244.30 279.67,245.37 280.50,246.30 C281.33,247.23 282.08,247.73 283.00,248.10 C283.92,248.47 285.50,248.43 286.00,248.50 L286.00,248.50 L252.50,248.50 Z" fill="#9eadaa" stroke="none" style="mix-blend-mode:multiply"/>
<path d="M238.40,248.50 L253.00,248.50 M285.50,248.50 L335.30,248.50" fill="none" stroke="#8fa39f" stroke-width="0.8"/>
<path d="M252.50,248.50 C252.83,248.40 253.58,248.70 254.50,247.90 C255.42,247.10 256.75,246.20 258.00,243.70 C259.25,241.20 260.83,236.52 262.00,232.90 C263.17,229.28 264.12,224.18 265.00,222.00 C265.88,219.82 266.47,219.55 267.30,219.80 C268.13,220.05 269.22,222.05 270.00,223.50 C270.78,224.95 271.17,226.50 272.00,228.50 C272.83,230.50 274.00,233.17 275.00,235.50 C276.00,237.83 277.08,240.70 278.00,242.50 C278.92,244.30 279.67,245.37 280.50,246.30 C281.33,247.23 282.08,247.73 283.00,248.10 C283.92,248.47 285.50,248.43 286.00,248.50" fill="none" stroke="#4d6b66" stroke-width="0.75"/>
<path d="M252.00,264.00 C252.50,263.75 253.73,263.58 255.00,262.50 C256.27,261.42 258.43,259.42 259.60,257.50 C260.77,255.58 261.27,253.25 262.00,251.00 C262.73,248.75 263.00,246.08 264.00,244.00 C265.00,241.92 266.57,239.67 268.00,238.50 C269.43,237.33 271.02,236.33 272.60,237.00 C274.18,237.67 275.93,240.58 277.50,242.50 C279.07,244.42 280.33,246.52 282.00,248.50 C283.67,250.48 285.33,252.65 287.50,254.40 C289.67,256.15 292.52,257.73 295.00,259.00 C297.48,260.27 299.90,261.25 302.40,262.00 C304.90,262.75 307.40,263.17 310.00,263.50 C312.60,263.83 316.67,263.92 318.00,264.00 L318.00,264.00 L252.00,264.00 Z" fill="#a6d9b6" stroke="none" style="mix-blend-mode:multiply"/>
<path d="M238.40,264.00 L252.50,264.00 M317.50,264.00 L335.30,264.00" fill="none" stroke="#5f8f7a" stroke-width="0.8"/>
<path d="M252.00,264.00 C252.50,263.75 253.73,263.58 255.00,262.50 C256.27,261.42 258.43,259.42 259.60,257.50 C260.77,255.58 261.27,253.25 262.00,251.00 C262.73,248.75 263.00,246.08 264.00,244.00 C265.00,241.92 266.57,239.67 268.00,238.50 C269.43,237.33 271.02,236.33 272.60,237.00 C274.18,237.67 275.93,240.58 277.50,242.50 C279.07,244.42 280.33,246.52 282.00,248.50 C283.67,250.48 285.33,252.65 287.50,254.40 C289.67,256.15 292.52,257.73 295.00,259.00 C297.48,260.27 299.90,261.25 302.40,262.00 C304.90,262.75 307.40,263.17 310.00,263.50 C312.60,263.83 316.67,263.92 318.00,264.00" fill="none" stroke="#3f8c66" stroke-width="0.75"/>
<path d="M250.50,279.20 C251.00,279.00 252.13,279.00 253.50,278.00 C254.87,277.00 256.95,276.07 258.70,273.20 C260.45,270.33 262.15,264.43 264.00,260.80 C265.85,257.17 267.85,251.40 269.80,251.40 C271.75,251.40 274.00,257.58 275.70,260.80 C277.40,264.02 278.78,268.47 280.00,270.70 C281.22,272.93 281.75,273.08 283.00,274.20 C284.25,275.32 285.50,276.62 287.50,277.40 C289.50,278.18 292.92,278.60 295.00,278.90 C297.08,279.20 299.17,279.15 300.00,279.20 L300.00,279.20 L250.50,279.20 Z" fill="#e3e3a0" stroke="none" style="mix-blend-mode:multiply"/>
<path d="M238.40,279.20 L251.00,279.20 M299.50,279.20 L335.30,279.20" fill="none" stroke="#c9c975" stroke-width="0.8"/>
<path d="M250.50,279.20 C251.00,279.00 252.13,279.00 253.50,278.00 C254.87,277.00 256.95,276.07 258.70,273.20 C260.45,270.33 262.15,264.43 264.00,260.80 C265.85,257.17 267.85,251.40 269.80,251.40 C271.75,251.40 274.00,257.58 275.70,260.80 C277.40,264.02 278.78,268.47 280.00,270.70 C281.22,272.93 281.75,273.08 283.00,274.20 C284.25,275.32 285.50,276.62 287.50,277.40 C289.50,278.18 292.92,278.60 295.00,278.90 C297.08,279.20 299.17,279.15 300.00,279.20" fill="none" stroke="#c3c35c" stroke-width="0.75"/>
<path d="M248.50,294.80 C249.08,294.63 250.60,294.40 252.00,293.80 C253.40,293.20 255.18,293.53 256.90,291.20 C258.62,288.87 260.67,283.37 262.30,279.80 C263.93,276.23 265.37,271.93 266.70,269.80 C268.03,267.67 268.95,266.42 270.30,267.00 C271.65,267.58 273.18,270.75 274.80,273.30 C276.42,275.85 277.88,280.25 280.00,282.30 C282.12,284.35 285.00,284.65 287.50,285.60 C290.00,286.55 292.52,287.27 295.00,288.00 C297.48,288.73 299.90,289.37 302.40,290.00 C304.90,290.63 307.52,291.30 310.00,291.80 C312.48,292.30 314.80,292.60 317.30,293.00 C319.80,293.40 322.55,293.90 325.00,294.20 C327.45,294.50 330.83,294.70 332.00,294.80 L332.00,294.80 L248.50,294.80 Z" fill="#d9d9d9" stroke="none" style="mix-blend-mode:multiply"/>
<path d="M238.40,294.80 L249.00,294.80 M331.50,294.80 L335.30,294.80" fill="none" stroke="#bcbcbc" stroke-width="0.8"/>
<path d="M248.50,294.80 C249.08,294.63 250.60,294.40 252.00,293.80 C253.40,293.20 255.18,293.53 256.90,291.20 C258.62,288.87 260.67,283.37 262.30,279.80 C263.93,276.23 265.37,271.93 266.70,269.80 C268.03,267.67 268.95,266.42 270.30,267.00 C271.65,267.58 273.18,270.75 274.80,273.30 C276.42,275.85 277.88,280.25 280.00,282.30 C282.12,284.35 285.00,284.65 287.50,285.60 C290.00,286.55 292.52,287.27 295.00,288.00 C297.48,288.73 299.90,289.37 302.40,290.00 C304.90,290.63 307.52,291.30 310.00,291.80 C312.48,292.30 314.80,292.60 317.30,293.00 C319.80,293.40 322.55,293.90 325.00,294.20 C327.45,294.50 330.83,294.70 332.00,294.80" fill="none" stroke="#b0b0b0" stroke-width="0.75"/>
<path d="M254.00,310.00 C254.33,309.83 255.07,310.93 256.00,309.00 C256.93,307.07 258.40,302.27 259.60,298.40 C260.80,294.53 261.87,288.48 263.20,285.80 C264.53,283.12 265.97,282.00 267.60,282.30 C269.23,282.60 271.35,285.07 273.00,287.60 C274.65,290.13 276.17,294.68 277.50,297.50 C278.83,300.32 279.95,302.85 281.00,304.50 C282.05,306.15 282.80,306.57 283.80,307.40 C284.80,308.23 285.97,309.07 287.00,309.50 C288.03,309.93 289.50,309.92 290.00,310.00 L290.00,310.00 L254.00,310.00 Z" fill="#9c9c9c" stroke="none" style="mix-blend-mode:multiply"/>
<path d="M238.40,310.00 L254.50,310.00 M289.50,310.00 L335.30,310.00" fill="none" stroke="#777" stroke-width="0.8"/>
<path d="M254.00,310.00 C254.33,309.83 255.07,310.93 256.00,309.00 C256.93,307.07 258.40,302.27 259.60,298.40 C260.80,294.53 261.87,288.48 263.20,285.80 C264.53,283.12 265.97,282.00 267.60,282.30 C269.23,282.60 271.35,285.07 273.00,287.60 C274.65,290.13 276.17,294.68 277.50,297.50 C278.83,300.32 279.95,302.85 281.00,304.50 C282.05,306.15 282.80,306.57 283.80,307.40 C284.80,308.23 285.97,309.07 287.00,309.50 C288.03,309.93 289.50,309.92 290.00,310.00" fill="none" stroke="#5a5a5a" stroke-width="0.75"/>
<rect x="238.40" y="216.40" width="96.90" height="93.70" fill="none" stroke="#8c8c8c" stroke-width="0.9"/>
<text x="286.70" y="237.40" font-size="4.7" text-anchor="start" fill="#1a1a1a" >+ CD40 and</text>
<text x="286.70" y="243.70" font-size="4.7" text-anchor="start" fill="#1a1a1a" >no anti-CD3-Fab</text>
<text x="287.30" y="257.80" font-size="4.7" text-anchor="start" fill="#1a1a1a" >+ CD40</text>
<text x="286.70" y="273.90" font-size="4.7" text-anchor="start" fill="#1a1a1a" >+ CD40 + PD-L1/2</text>
<text x="286.70" y="287.20" font-size="4.7" text-anchor="start" fill="#1a1a1a" >+ CD40 + GP120</text>
<text x="287.20" y="301.80" font-size="4.7" text-anchor="start" fill="#1a1a1a" >+CD40</text>
<text x="287.20" y="307.60" font-size="4.7" text-anchor="start" fill="#1a1a1a" >+ OX40L/4-1BBL</text>
<text x="245.80" y="319.60" font-size="5.2" text-anchor="middle" fill="#333" >-10<tspan font-size="4.6" dy="-2.6">3</tspan></text>
<text x="267.90" y="319.60" font-size="5.2" text-anchor="middle" fill="#333" >0</text>
<text x="294.60" y="319.60" font-size="5.2" text-anchor="middle" fill="#333" >10<tspan font-size="4.6" dy="-2.6">3</tspan></text>
<text x="328.30" y="319.60" font-size="5.2" text-anchor="middle" fill="#333" >10<tspan font-size="4.6" dy="-2.6">4</tspan></text>
<line x1="243.50" y1="310.10" x2="243.50" y2="311.90" stroke="#555" stroke-width="0.5" />
<line x1="251.00" y1="310.10" x2="251.00" y2="311.10" stroke="#555" stroke-width="0.5" />
<line x1="258.00" y1="310.10" x2="258.00" y2="311.10" stroke="#555" stroke-width="0.5" />
<line x1="262.00" y1="310.10" x2="262.00" y2="311.10" stroke="#555" stroke-width="0.5" />
<line x1="265.00" y1="310.10" x2="265.00" y2="311.10" stroke="#555" stroke-width="0.5" />
<line x1="267.90" y1="310.10" x2="267.90" y2="311.90" stroke="#555" stroke-width="0.5" />
<line x1="271.00" y1="310.10" x2="271.00" y2="311.10" stroke="#555" stroke-width="0.5" />
<line x1="274.00" y1="310.10" x2="274.00" y2="311.10" stroke="#555" stroke-width="0.5" />
<line x1="278.00" y1="310.10" x2="278.00" y2="311.10" stroke="#555" stroke-width="0.5" />
<line x1="285.00" y1="310.10" x2="285.00" y2="311.10" stroke="#555" stroke-width="0.5" />
<line x1="294.60" y1="310.10" x2="294.60" y2="311.90" stroke="#555" stroke-width="0.5" />
<line x1="312.00" y1="310.10" x2="312.00" y2="311.10" stroke="#555" stroke-width="0.5" />
<line x1="322.00" y1="310.10" x2="322.00" y2="311.10" stroke="#555" stroke-width="0.5" />
<line x1="328.30" y1="310.10" x2="328.30" y2="311.90" stroke="#555" stroke-width="0.5" />
<text x="283.00" y="329.00" font-size="6" text-anchor="middle" fill="#222" >CD40L on BSLB</text>
<rect x="263.20" y="309.50" width="6.2" height="1.6" fill="#222"/>
<text x="341.60" y="173.00" font-size="13" text-anchor="start" fill="#000" >i</text>
<text x="390.00" y="197.80" font-size="11" text-anchor="middle" fill="#111" >2,000</text>
<text x="390.10" y="210.20" font-size="11" text-anchor="middle" fill="#111" >molec./µm<tspan font-size="7.5" dy="-4.8">2</tspan></text>
<path d="M356.50,249.00 C356.92,248.90 358.00,248.83 359.00,248.40 C360.00,247.97 361.32,248.38 362.50,246.40 C363.68,244.42 364.90,240.40 366.10,236.50 C367.30,232.60 368.72,225.80 369.70,223.00 C370.68,220.20 371.10,219.37 372.00,219.70 C372.90,220.03 373.98,222.03 375.10,225.00 C376.22,227.97 377.35,234.67 378.70,237.50 C380.05,240.33 381.57,240.52 383.20,242.00 C384.83,243.48 386.57,245.28 388.50,246.40 C390.43,247.52 392.88,248.27 394.80,248.70 C396.72,249.13 399.13,248.95 400.00,249.00 L400.00,249.00 L356.50,249.00 Z" fill="#9eadaa" stroke="none" style="mix-blend-mode:multiply"/>
<path d="M343.60,249.00 L357.00,249.00 M399.50,249.00 L440.40,249.00" fill="none" stroke="#8fa39f" stroke-width="0.8"/>
<path d="M356.50,249.00 C356.92,248.90 358.00,248.83 359.00,248.40 C360.00,247.97 361.32,248.38 362.50,246.40 C363.68,244.42 364.90,240.40 366.10,236.50 C367.30,232.60 368.72,225.80 369.70,223.00 C370.68,220.20 371.10,219.37 372.00,219.70 C372.90,220.03 373.98,222.03 375.10,225.00 C376.22,227.97 377.35,234.67 378.70,237.50 C380.05,240.33 381.57,240.52 383.20,242.00 C384.83,243.48 386.57,245.28 388.50,246.40 C390.43,247.52 392.88,248.27 394.80,248.70 C396.72,249.13 399.13,248.95 400.00,249.00" fill="none" stroke="#4d6b66" stroke-width="0.75"/>
<path d="M359.50,263.80 C359.83,263.63 360.40,264.35 361.50,262.80 C362.60,261.25 364.88,257.83 366.10,254.50 C367.32,251.17 367.75,245.48 368.80,242.80 C369.85,240.12 371.05,239.50 372.40,238.40 C373.75,237.30 375.55,235.92 376.90,236.20 C378.25,236.48 379.32,239.13 380.50,240.10 C381.68,241.07 382.67,240.63 384.00,242.00 C385.33,243.37 386.70,246.22 388.50,248.30 C390.30,250.38 392.25,252.57 394.80,254.50 C397.35,256.43 401.27,258.63 403.80,259.90 C406.33,261.17 407.63,261.53 410.00,262.10 C412.37,262.67 415.50,263.02 418.00,263.30 C420.50,263.58 423.83,263.72 425.00,263.80 L425.00,263.80 L359.50,263.80 Z" fill="#a6d9b6" stroke="none" style="mix-blend-mode:multiply"/>
<path d="M343.60,263.80 L360.00,263.80 M424.50,263.80 L440.40,263.80" fill="none" stroke="#5f8f7a" stroke-width="0.8"/>
<path d="M359.50,263.80 C359.83,263.63 360.40,264.35 361.50,262.80 C362.60,261.25 364.88,257.83 366.10,254.50 C367.32,251.17 367.75,245.48 368.80,242.80 C369.85,240.12 371.05,239.50 372.40,238.40 C373.75,237.30 375.55,235.92 376.90,236.20 C378.25,236.48 379.32,239.13 380.50,240.10 C381.68,241.07 382.67,240.63 384.00,242.00 C385.33,243.37 386.70,246.22 388.50,248.30 C390.30,250.38 392.25,252.57 394.80,254.50 C397.35,256.43 401.27,258.63 403.80,259.90 C406.33,261.17 407.63,261.53 410.00,262.10 C412.37,262.67 415.50,263.02 418.00,263.30 C420.50,263.58 423.83,263.72 425.00,263.80" fill="none" stroke="#3f8c66" stroke-width="0.75"/>
<path d="M355.50,279.20 C355.78,279.12 355.88,280.03 357.20,278.70 C358.52,277.37 361.62,273.95 363.40,271.20 C365.18,268.45 366.10,265.50 367.90,262.20 C369.70,258.90 371.80,251.70 374.20,251.40 C376.60,251.10 379.77,257.43 382.30,260.40 C384.83,263.37 386.42,266.82 389.40,269.20 C392.38,271.58 396.32,273.23 400.20,274.70 C404.08,276.17 409.40,277.25 412.70,278.00 C416.00,278.75 418.78,279.00 420.00,279.20 L420.00,279.20 L355.50,279.20 Z" fill="#e3e3a0" stroke="none" style="mix-blend-mode:multiply"/>
<path d="M343.60,279.20 L356.00,279.20 M419.50,279.20 L440.40,279.20" fill="none" stroke="#c9c975" stroke-width="0.8"/>
<path d="M355.50,279.20 C355.78,279.12 355.88,280.03 357.20,278.70 C358.52,277.37 361.62,273.95 363.40,271.20 C365.18,268.45 366.10,265.50 367.90,262.20 C369.70,258.90 371.80,251.70 374.20,251.40 C376.60,251.10 379.77,257.43 382.30,260.40 C384.83,263.37 386.42,266.82 389.40,269.20 C392.38,271.58 396.32,273.23 400.20,274.70 C404.08,276.17 409.40,277.25 412.70,278.00 C416.00,278.75 418.78,279.00 420.00,279.20" fill="none" stroke="#c3c35c" stroke-width="0.75"/>
<path d="M357.00,295.10 C357.33,294.93 357.48,296.60 359.00,294.10 C360.52,291.60 363.72,284.70 366.10,280.10 C368.48,275.50 371.20,267.28 373.30,266.50 C375.40,265.72 376.62,272.57 378.70,275.40 C380.78,278.23 382.82,281.40 385.80,283.50 C388.78,285.60 392.72,286.67 396.60,288.00 C400.48,289.33 405.22,290.62 409.10,291.50 C412.98,292.38 416.08,292.70 419.90,293.30 C423.72,293.90 429.98,294.80 432.00,295.10 L432.00,295.10 L357.00,295.10 Z" fill="#d9d9d9" stroke="none" style="mix-blend-mode:multiply"/>
<path d="M343.60,295.10 L357.50,295.10 M431.50,295.10 L440.40,295.10" fill="none" stroke="#bcbcbc" stroke-width="0.8"/>
<path d="M357.00,295.10 C357.33,294.93 357.48,296.60 359.00,294.10 C360.52,291.60 363.72,284.70 366.10,280.10 C368.48,275.50 371.20,267.28 373.30,266.50 C375.40,265.72 376.62,272.57 378.70,275.40 C380.78,278.23 382.82,281.40 385.80,283.50 C388.78,285.60 392.72,286.67 396.60,288.00 C400.48,289.33 405.22,290.62 409.10,291.50 C412.98,292.38 416.08,292.70 419.90,293.30 C423.72,293.90 429.98,294.80 432.00,295.10" fill="none" stroke="#b0b0b0" stroke-width="0.75"/>
<path d="M358.00,310.00 C358.33,309.83 358.95,310.10 360.00,309.00 C361.05,307.90 362.98,306.43 364.30,303.40 C365.62,300.37 366.55,294.42 367.90,290.80 C369.25,287.18 371.05,283.10 372.40,281.70 C373.75,280.30 374.65,280.88 376.00,282.40 C377.35,283.92 378.87,288.05 380.50,290.80 C382.13,293.55 383.72,296.65 385.80,298.90 C387.88,301.15 390.60,302.95 393.00,304.30 C395.40,305.65 397.52,306.32 400.20,307.00 C402.88,307.68 405.80,307.90 409.10,308.40 C412.40,308.90 418.18,309.73 420.00,310.00 L420.00,310.00 L358.00,310.00 Z" fill="#9c9c9c" stroke="none" style="mix-blend-mode:multiply"/>
<path d="M343.60,310.00 L358.50,310.00 M419.50,310.00 L440.40,310.00" fill="none" stroke="#777" stroke-width="0.8"/>
<path d="M358.00,310.00 C358.33,309.83 358.95,310.10 360.00,309.00 C361.05,307.90 362.98,306.43 364.30,303.40 C365.62,300.37 366.55,294.42 367.90,290.80 C369.25,287.18 371.05,283.10 372.40,281.70 C373.75,280.30 374.65,280.88 376.00,282.40 C377.35,283.92 378.87,288.05 380.50,290.80 C382.13,293.55 383.72,296.65 385.80,298.90 C387.88,301.15 390.60,302.95 393.00,304.30 C395.40,305.65 397.52,306.32 400.20,307.00 C402.88,307.68 405.80,307.90 409.10,308.40 C412.40,308.90 418.18,309.73 420.00,310.00" fill="none" stroke="#5a5a5a" stroke-width="0.75"/>
<rect x="343.60" y="216.40" width="96.80" height="93.70" fill="none" stroke="#8c8c8c" stroke-width="0.9"/>
<text x="394.90" y="236.60" font-size="4.7" text-anchor="start" fill="#1a1a1a" >+ CD40 and</text>
<text x="394.90" y="242.70" font-size="4.7" text-anchor="start" fill="#1a1a1a" >no anti-CD3-Fab</text>
<text x="394.90" y="256.30" font-size="4.7" text-anchor="start" fill="#1a1a1a" >+ CD40</text>
<text x="395.00" y="272.90" font-size="4.7" text-anchor="start" fill="#1a1a1a" >+ CD40 + PD-L1/2</text>
<text x="395.00" y="286.50" font-size="4.7" text-anchor="start" fill="#1a1a1a" >+ CD40 + GP120</text>
<text x="395.00" y="300.10" font-size="4.7" text-anchor="start" fill="#1a1a1a" >+CD40</text>
<text x="395.00" y="306.30" font-size="4.7" text-anchor="start" fill="#1a1a1a" >+ OX40L/4-1BBL</text>
<text x="351.00" y="319.60" font-size="5.2" text-anchor="middle" fill="#333" >-10<tspan font-size="4.6" dy="-2.6">3</tspan></text>
<text x="373.10" y="319.60" font-size="5.2" text-anchor="middle" fill="#333" >0</text>
<text x="399.80" y="319.60" font-size="5.2" text-anchor="middle" fill="#333" >10<tspan font-size="4.6" dy="-2.6">3</tspan></text>
<text x="433.50" y="319.60" font-size="5.2" text-anchor="middle" fill="#333" >10<tspan font-size="4.6" dy="-2.6">4</tspan></text>
<line x1="348.70" y1="310.10" x2="348.70" y2="311.90" stroke="#555" stroke-width="0.5" />
<line x1="356.20" y1="310.10" x2="356.20" y2="311.10" stroke="#555" stroke-width="0.5" />
<line x1="363.20" y1="310.10" x2="363.20" y2="311.10" stroke="#555" stroke-width="0.5" />
<line x1="367.20" y1="310.10" x2="367.20" y2="311.10" stroke="#555" stroke-width="0.5" />
<line x1="370.20" y1="310.10" x2="370.20" y2="311.10" stroke="#555" stroke-width="0.5" />
<line x1="373.10" y1="310.10" x2="373.10" y2="311.90" stroke="#555" stroke-width="0.5" />
<line x1="376.20" y1="310.10" x2="376.20" y2="311.10" stroke="#555" stroke-width="0.5" />
<line x1="379.20" y1="310.10" x2="379.20" y2="311.10" stroke="#555" stroke-width="0.5" />
<line x1="383.20" y1="310.10" x2="383.20" y2="311.10" stroke="#555" stroke-width="0.5" />
<line x1="390.20" y1="310.10" x2="390.20" y2="311.10" stroke="#555" stroke-width="0.5" />
<line x1="399.80" y1="310.10" x2="399.80" y2="311.90" stroke="#555" stroke-width="0.5" />
<line x1="417.20" y1="310.10" x2="417.20" y2="311.10" stroke="#555" stroke-width="0.5" />
<line x1="427.20" y1="310.10" x2="427.20" y2="311.10" stroke="#555" stroke-width="0.5" />
<line x1="433.50" y1="310.10" x2="433.50" y2="311.90" stroke="#555" stroke-width="0.5" />
<text x="388.20" y="329.00" font-size="6" text-anchor="middle" fill="#222" >CD40L on BSLB</text>
<rect x="368.40" y="309.50" width="6.2" height="1.6" fill="#222"/>
<text x="544.40" y="172.50" font-size="13" text-anchor="start" fill="#000" >k</text>
<path d="M551.40,207.40 L551.85,207.40 L552.29,207.40 L552.74,207.40 L553.19,207.40 L553.63,207.40 L554.08,207.40 L554.52,207.40 L554.97,207.40 L555.42,207.40 L555.86,207.40 L556.31,207.40 L556.76,207.40 L557.20,207.40 L557.65,207.40 L558.10,207.40 L558.54,207.40 L558.99,207.40 L559.44,207.40 L559.88,207.40 L560.33,207.40 L560.77,207.40 L561.22,207.40 L561.67,207.40 L562.11,207.40 L562.56,207.40 L563.01,207.40 L563.45,207.40 L563.90,207.40 L564.35,207.40 L564.79,207.40 L565.24,207.40 L565.69,207.40 L566.13,207.40 L566.58,207.40 L567.02,207.40 L567.47,207.40 L567.92,207.40 L568.36,207.40 L568.81,207.40 L569.26,207.40 L569.70,207.40 L570.15,207.40 L570.60,207.40 L571.04,207.40 L571.49,207.40 L571.94,207.40 L572.38,207.40 L572.83,207.40 L573.27,207.40 L573.72,207.40 L574.17,207.40 L574.61,207.40 L575.06,207.40 L575.51,207.40 L575.95,207.40 L576.40,207.40 L576.85,207.40 L577.29,207.40 L577.74,207.40 L578.19,207.40 L578.63,207.40 L579.08,207.40 L579.52,207.40 L579.97,207.40 L580.42,207.40 L580.86,207.40 L581.31,207.40 L581.76,207.40 L582.20,207.40 L582.65,207.40 L583.10,207.40 L583.54,207.40 L583.99,207.40 L584.44,207.40 L584.88,207.40 L585.33,207.40 L585.77,207.40 L586.22,207.40 L586.67,207.40 L587.11,207.39 L587.56,207.39 L588.01,207.38 L588.45,207.36 L588.90,207.34 L589.35,207.30 L589.79,207.23 L590.24,207.14 L590.69,207.00 L591.13,206.78 L591.58,206.48 L592.02,206.06 L592.47,205.47 L592.92,204.69 L593.36,203.66 L593.81,202.36 L594.26,200.75 L594.70,198.83 L595.15,196.61 L595.60,194.14 L596.04,191.54 L596.49,188.94 L596.94,186.57 L597.38,184.68 L597.83,183.64 L598.27,184.23 L598.72,185.89 L599.17,188.15 L599.61,190.70 L600.06,193.32 L600.51,195.84 L600.95,198.15 L601.40,200.17 L601.85,201.88 L602.29,203.28 L602.74,204.39 L603.19,205.24 L603.63,205.89 L604.08,206.36 L604.52,206.70 L604.97,206.94 L605.42,207.10 L605.86,207.21 L606.31,207.28 L606.76,207.33 L607.20,207.36 L607.65,207.37 L608.10,207.38 L608.54,207.39 L608.99,207.39 L609.44,207.40 L609.88,207.40 L610.33,207.40 L610.77,207.40 L611.22,207.40 L611.67,207.40 L612.11,207.40 L612.56,207.40 L613.01,207.40 L613.45,207.40 L613.90,207.40 L613.90,207.40 L551.40,207.40 Z" fill="#c8dbf2" stroke="none" style="mix-blend-mode:multiply"/>
<path d="M551.40,207.40 L551.85,207.40 L552.29,207.40 L552.74,207.40 L553.19,207.40 L553.63,207.40 L554.08,207.40 L554.52,207.40 L554.97,207.40 L555.42,207.40 L555.86,207.40 L556.31,207.40 L556.76,207.40 L557.20,207.40 L557.65,207.40 L558.10,207.40 L558.54,207.40 L558.99,207.40 L559.44,207.40 L559.88,207.40 L560.33,207.40 L560.77,207.40 L561.22,207.40 L561.67,207.40 L562.11,207.40 L562.56,207.40 L563.01,207.40 L563.45,207.40 L563.90,207.40 L564.35,207.40 L564.79,207.40 L565.24,207.40 L565.69,207.40 L566.13,207.40 L566.58,207.40 L567.02,207.40 L567.47,207.40 L567.92,207.40 L568.36,207.40 L568.81,207.40 L569.26,207.40 L569.70,207.40 L570.15,207.40 L570.60,207.40 L571.04,207.40 L571.49,207.40 L571.94,207.40 L572.38,207.40 L572.83,207.40 L573.27,207.40 L573.72,207.40 L574.17,207.40 L574.61,207.40 L575.06,207.40 L575.51,207.40 L575.95,207.40 L576.40,207.40 L576.85,207.40 L577.29,207.40 L577.74,207.40 L578.19,207.40 L578.63,207.40 L579.08,207.40 L579.52,207.40 L579.97,207.40 L580.42,207.40 L580.86,207.40 L581.31,207.40 L581.76,207.40 L582.20,207.40 L582.65,207.40 L583.10,207.40 L583.54,207.40 L583.99,207.40 L584.44,207.40 L584.88,207.40 L585.33,207.40 L585.77,207.40 L586.22,207.40 L586.67,207.40 L587.11,207.39 L587.56,207.39 L588.01,207.38 L588.45,207.36 L588.90,207.34 L589.35,207.30 L589.79,207.23 L590.24,207.14 L590.69,207.00 L591.13,206.78 L591.58,206.48 L592.02,206.06 L592.47,205.47 L592.92,204.69 L593.36,203.66 L593.81,202.36 L594.26,200.75 L594.70,198.83 L595.15,196.61 L595.60,194.14 L596.04,191.54 L596.49,188.94 L596.94,186.57 L597.38,184.68 L597.83,183.64 L598.27,184.23 L598.72,185.89 L599.17,188.15 L599.61,190.70 L600.06,193.32 L600.51,195.84 L600.95,198.15 L601.40,200.17 L601.85,201.88 L602.29,203.28 L602.74,204.39 L603.19,205.24 L603.63,205.89 L604.08,206.36 L604.52,206.70 L604.97,206.94 L605.42,207.10 L605.86,207.21 L606.31,207.28 L606.76,207.33 L607.20,207.36 L607.65,207.37 L608.10,207.38 L608.54,207.39 L608.99,207.39 L609.44,207.40 L609.88,207.40 L610.33,207.40 L610.77,207.40 L611.22,207.40 L611.67,207.40 L612.11,207.40 L612.56,207.40 L613.01,207.40 L613.45,207.40 L613.90,207.40" fill="none" stroke="#9dbde8" stroke-width="0.7"/>
<path d="M551.40,219.50 L551.85,219.50 L552.29,219.50 L552.74,219.50 L553.19,219.50 L553.63,219.50 L554.08,219.50 L554.52,219.50 L554.97,219.50 L555.42,219.50 L555.86,219.50 L556.31,219.50 L556.76,219.50 L557.20,219.50 L557.65,219.50 L558.10,219.50 L558.54,219.50 L558.99,219.50 L559.44,219.50 L559.88,219.50 L560.33,219.50 L560.77,219.50 L561.22,219.50 L561.67,219.50 L562.11,219.50 L562.56,219.50 L563.01,219.50 L563.45,219.50 L563.90,219.50 L564.35,219.50 L564.79,219.50 L565.24,219.50 L565.69,219.50 L566.13,219.50 L566.58,219.50 L567.02,219.50 L567.47,219.50 L567.92,219.50 L568.36,219.50 L568.81,219.50 L569.26,219.50 L569.70,219.50 L570.15,219.50 L570.60,219.50 L571.04,219.50 L571.49,219.50 L571.94,219.50 L572.38,219.50 L572.83,219.50 L573.27,219.50 L573.72,219.50 L574.17,219.50 L574.61,219.50 L575.06,219.50 L575.51,219.50 L575.95,219.50 L576.40,219.50 L576.85,219.50 L577.29,219.50 L577.74,219.50 L578.19,219.50 L578.63,219.50 L579.08,219.50 L579.52,219.50 L579.97,219.50 L580.42,219.50 L580.86,219.50 L581.31,219.50 L581.76,219.50 L582.20,219.50 L582.65,219.50 L583.10,219.50 L583.54,219.50 L583.99,219.50 L584.44,219.50 L584.88,219.50 L585.33,219.50 L585.77,219.50 L586.22,219.50 L586.67,219.50 L587.11,219.49 L587.56,219.49 L588.01,219.48 L588.45,219.47 L588.90,219.45 L589.35,219.41 L589.79,219.35 L590.24,219.26 L590.69,219.12 L591.13,218.91 L591.58,218.61 L592.02,218.17 L592.47,217.55 L592.92,216.72 L593.36,215.63 L593.81,214.23 L594.26,212.49 L594.70,210.42 L595.15,208.05 L595.60,205.45 L596.04,202.77 L596.49,200.20 L596.94,198.01 L597.38,196.57 L597.83,196.57 L598.27,197.92 L598.72,199.97 L599.17,202.39 L599.61,204.94 L600.06,207.44 L600.51,209.77 L600.95,211.84 L601.40,213.61 L601.85,215.07 L602.29,216.24 L602.74,217.15 L603.19,217.84 L603.63,218.35 L604.08,218.72 L604.52,218.98 L604.97,219.16 L605.42,219.28 L605.86,219.36 L606.31,219.42 L606.76,219.45 L607.20,219.47 L607.65,219.48 L608.10,219.49 L608.54,219.49 L608.99,219.50 L609.44,219.50 L609.88,219.50 L610.33,219.50 L610.77,219.50 L611.22,219.50 L611.67,219.50 L612.11,219.50 L612.56,219.50 L613.01,219.50 L613.45,219.50 L613.90,219.50 L613.90,219.50 L551.40,219.50 Z" fill="#9cb9e4" stroke="none" style="mix-blend-mode:multiply"/>
<path d="M551.40,219.50 L551.85,219.50 L552.29,219.50 L552.74,219.50 L553.19,219.50 L553.63,219.50 L554.08,219.50 L554.52,219.50 L554.97,219.50 L555.42,219.50 L555.86,219.50 L556.31,219.50 L556.76,219.50 L557.20,219.50 L557.65,219.50 L558.10,219.50 L558.54,219.50 L558.99,219.50 L559.44,219.50 L559.88,219.50 L560.33,219.50 L560.77,219.50 L561.22,219.50 L561.67,219.50 L562.11,219.50 L562.56,219.50 L563.01,219.50 L563.45,219.50 L563.90,219.50 L564.35,219.50 L564.79,219.50 L565.24,219.50 L565.69,219.50 L566.13,219.50 L566.58,219.50 L567.02,219.50 L567.47,219.50 L567.92,219.50 L568.36,219.50 L568.81,219.50 L569.26,219.50 L569.70,219.50 L570.15,219.50 L570.60,219.50 L571.04,219.50 L571.49,219.50 L571.94,219.50 L572.38,219.50 L572.83,219.50 L573.27,219.50 L573.72,219.50 L574.17,219.50 L574.61,219.50 L575.06,219.50 L575.51,219.50 L575.95,219.50 L576.40,219.50 L576.85,219.50 L577.29,219.50 L577.74,219.50 L578.19,219.50 L578.63,219.50 L579.08,219.50 L579.52,219.50 L579.97,219.50 L580.42,219.50 L580.86,219.50 L581.31,219.50 L581.76,219.50 L582.20,219.50 L582.65,219.50 L583.10,219.50 L583.54,219.50 L583.99,219.50 L584.44,219.50 L584.88,219.50 L585.33,219.50 L585.77,219.50 L586.22,219.50 L586.67,219.50 L587.11,219.49 L587.56,219.49 L588.01,219.48 L588.45,219.47 L588.90,219.45 L589.35,219.41 L589.79,219.35 L590.24,219.26 L590.69,219.12 L591.13,218.91 L591.58,218.61 L592.02,218.17 L592.47,217.55 L592.92,216.72 L593.36,215.63 L593.81,214.23 L594.26,212.49 L594.70,210.42 L595.15,208.05 L595.60,205.45 L596.04,202.77 L596.49,200.20 L596.94,198.01 L597.38,196.57 L597.83,196.57 L598.27,197.92 L598.72,199.97 L599.17,202.39 L599.61,204.94 L600.06,207.44 L600.51,209.77 L600.95,211.84 L601.40,213.61 L601.85,215.07 L602.29,216.24 L602.74,217.15 L603.19,217.84 L603.63,218.35 L604.08,218.72 L604.52,218.98 L604.97,219.16 L605.42,219.28 L605.86,219.36 L606.31,219.42 L606.76,219.45 L607.20,219.47 L607.65,219.48 L608.10,219.49 L608.54,219.49 L608.99,219.50 L609.44,219.50 L609.88,219.50 L610.33,219.50 L610.77,219.50 L611.22,219.50 L611.67,219.50 L612.11,219.50 L612.56,219.50 L613.01,219.50 L613.45,219.50 L613.90,219.50" fill="none" stroke="#6a90d0" stroke-width="0.7"/>
<path d="M551.40,231.40 L551.85,231.40 L552.29,231.40 L552.74,231.40 L553.19,231.40 L553.63,231.40 L554.08,231.40 L554.52,231.40 L554.97,231.40 L555.42,231.40 L555.86,231.40 L556.31,231.40 L556.76,231.40 L557.20,231.40 L557.65,231.40 L558.10,231.40 L558.54,231.40 L558.99,231.40 L559.44,231.40 L559.88,231.40 L560.33,231.40 L560.77,231.40 L561.22,231.40 L561.67,231.40 L562.11,231.40 L562.56,231.40 L563.01,231.40 L563.45,231.40 L563.90,231.40 L564.35,231.40 L564.79,231.40 L565.24,231.40 L565.69,231.40 L566.13,231.40 L566.58,231.40 L567.02,231.40 L567.47,231.40 L567.92,231.40 L568.36,231.40 L568.81,231.40 L569.26,231.40 L569.70,231.40 L570.15,231.40 L570.60,231.40 L571.04,231.40 L571.49,231.40 L571.94,231.40 L572.38,231.40 L572.83,231.40 L573.27,231.40 L573.72,231.40 L574.17,231.40 L574.61,231.40 L575.06,231.40 L575.51,231.40 L575.95,231.40 L576.40,231.40 L576.85,231.40 L577.29,231.40 L577.74,231.40 L578.19,231.40 L578.63,231.40 L579.08,231.40 L579.52,231.40 L579.97,231.40 L580.42,231.40 L580.86,231.40 L581.31,231.40 L581.76,231.40 L582.20,231.40 L582.65,231.40 L583.10,231.40 L583.54,231.40 L583.99,231.40 L584.44,231.40 L584.88,231.40 L585.33,231.40 L585.77,231.40 L586.22,231.40 L586.67,231.40 L587.11,231.39 L587.56,231.39 L588.01,231.38 L588.45,231.37 L588.90,231.35 L589.35,231.31 L589.79,231.26 L590.24,231.17 L590.69,231.03 L591.13,230.82 L591.58,230.52 L592.02,230.09 L592.47,229.49 L592.92,228.67 L593.36,227.60 L593.81,226.22 L594.26,224.51 L594.70,222.48 L595.15,220.15 L595.60,217.59 L596.04,214.95 L596.49,212.43 L596.94,210.28 L597.38,208.86 L597.83,208.86 L598.27,210.20 L598.72,212.21 L599.17,214.58 L599.61,217.09 L600.06,219.55 L600.51,221.84 L600.95,223.87 L601.40,225.61 L601.85,227.04 L602.29,228.19 L602.74,229.09 L603.19,229.77 L603.63,230.27 L604.08,230.63 L604.52,230.89 L604.97,231.07 L605.42,231.19 L605.86,231.27 L606.31,231.32 L606.76,231.35 L607.20,231.37 L607.65,231.38 L608.10,231.39 L608.54,231.39 L608.99,231.40 L609.44,231.40 L609.88,231.40 L610.33,231.40 L610.77,231.40 L611.22,231.40 L611.67,231.40 L612.11,231.40 L612.56,231.40 L613.01,231.40 L613.45,231.40 L613.90,231.40 L613.90,231.40 L551.40,231.40 Z" fill="#9cb9e4" stroke="none" style="mix-blend-mode:multiply"/>
<path d="M551.40,231.40 L551.85,231.40 L552.29,231.40 L552.74,231.40 L553.19,231.40 L553.63,231.40 L554.08,231.40 L554.52,231.40 L554.97,231.40 L555.42,231.40 L555.86,231.40 L556.31,231.40 L556.76,231.40 L557.20,231.40 L557.65,231.40 L558.10,231.40 L558.54,231.40 L558.99,231.40 L559.44,231.40 L559.88,231.40 L560.33,231.40 L560.77,231.40 L561.22,231.40 L561.67,231.40 L562.11,231.40 L562.56,231.40 L563.01,231.40 L563.45,231.40 L563.90,231.40 L564.35,231.40 L564.79,231.40 L565.24,231.40 L565.69,231.40 L566.13,231.40 L566.58,231.40 L567.02,231.40 L567.47,231.40 L567.92,231.40 L568.36,231.40 L568.81,231.40 L569.26,231.40 L569.70,231.40 L570.15,231.40 L570.60,231.40 L571.04,231.40 L571.49,231.40 L571.94,231.40 L572.38,231.40 L572.83,231.40 L573.27,231.40 L573.72,231.40 L574.17,231.40 L574.61,231.40 L575.06,231.40 L575.51,231.40 L575.95,231.40 L576.40,231.40 L576.85,231.40 L577.29,231.40 L577.74,231.40 L578.19,231.40 L578.63,231.40 L579.08,231.40 L579.52,231.40 L579.97,231.40 L580.42,231.40 L580.86,231.40 L581.31,231.40 L581.76,231.40 L582.20,231.40 L582.65,231.40 L583.10,231.40 L583.54,231.40 L583.99,231.40 L584.44,231.40 L584.88,231.40 L585.33,231.40 L585.77,231.40 L586.22,231.40 L586.67,231.40 L587.11,231.39 L587.56,231.39 L588.01,231.38 L588.45,231.37 L588.90,231.35 L589.35,231.31 L589.79,231.26 L590.24,231.17 L590.69,231.03 L591.13,230.82 L591.58,230.52 L592.02,230.09 L592.47,229.49 L592.92,228.67 L593.36,227.60 L593.81,226.22 L594.26,224.51 L594.70,222.48 L595.15,220.15 L595.60,217.59 L596.04,214.95 L596.49,212.43 L596.94,210.28 L597.38,208.86 L597.83,208.86 L598.27,210.20 L598.72,212.21 L599.17,214.58 L599.61,217.09 L600.06,219.55 L600.51,221.84 L600.95,223.87 L601.40,225.61 L601.85,227.04 L602.29,228.19 L602.74,229.09 L603.19,229.77 L603.63,230.27 L604.08,230.63 L604.52,230.89 L604.97,231.07 L605.42,231.19 L605.86,231.27 L606.31,231.32 L606.76,231.35 L607.20,231.37 L607.65,231.38 L608.10,231.39 L608.54,231.39 L608.99,231.40 L609.44,231.40 L609.88,231.40 L610.33,231.40 L610.77,231.40 L611.22,231.40 L611.67,231.40 L612.11,231.40 L612.56,231.40 L613.01,231.40 L613.45,231.40 L613.90,231.40" fill="none" stroke="#6a90d0" stroke-width="0.7"/>
<path d="M551.40,243.40 L551.85,243.40 L552.29,243.40 L552.74,243.40 L553.19,243.40 L553.63,243.40 L554.08,243.40 L554.52,243.40 L554.97,243.40 L555.42,243.40 L555.86,243.40 L556.31,243.40 L556.76,243.40 L557.20,243.40 L557.65,243.40 L558.10,243.40 L558.54,243.40 L558.99,243.40 L559.44,243.40 L559.88,243.40 L560.33,243.40 L560.77,243.40 L561.22,243.40 L561.67,243.40 L562.11,243.40 L562.56,243.40 L563.01,243.40 L563.45,243.40 L563.90,243.40 L564.35,243.40 L564.79,243.40 L565.24,243.40 L565.69,243.40 L566.13,243.40 L566.58,243.40 L567.02,243.40 L567.47,243.40 L567.92,243.40 L568.36,243.40 L568.81,243.40 L569.26,243.40 L569.70,243.40 L570.15,243.40 L570.60,243.40 L571.04,243.40 L571.49,243.40 L571.94,243.40 L572.38,243.40 L572.83,243.40 L573.27,243.40 L573.72,243.40 L574.17,243.40 L574.61,243.40 L575.06,243.40 L575.51,243.40 L575.95,243.40 L576.40,243.40 L576.85,243.40 L577.29,243.40 L577.74,243.40 L578.19,243.40 L578.63,243.40 L579.08,243.40 L579.52,243.40 L579.97,243.40 L580.42,243.40 L580.86,243.40 L581.31,243.40 L581.76,243.40 L582.20,243.40 L582.65,243.40 L583.10,243.40 L583.54,243.40 L583.99,243.40 L584.44,243.40 L584.88,243.40 L585.33,243.40 L585.77,243.40 L586.22,243.40 L586.67,243.39 L587.11,243.39 L587.56,243.38 L588.01,243.37 L588.45,243.35 L588.90,243.32 L589.35,243.27 L589.79,243.19 L590.24,243.07 L590.69,242.89 L591.13,242.64 L591.58,242.28 L592.02,241.78 L592.47,241.10 L592.92,240.21 L593.36,239.07 L593.81,237.65 L594.26,235.93 L594.70,233.91 L595.15,231.65 L595.60,229.22 L596.04,226.74 L596.49,224.40 L596.94,222.44 L597.38,221.14 L597.83,221.14 L598.27,222.36 L598.72,224.21 L599.17,226.41 L599.61,228.77 L600.06,231.11 L600.51,233.32 L600.95,235.32 L601.40,237.06 L601.85,238.52 L602.29,239.73 L602.74,240.69 L603.19,241.43 L603.63,242.00 L604.08,242.42 L604.52,242.73 L604.97,242.95 L605.42,243.10 L605.86,243.20 L606.31,243.27 L606.76,243.32 L607.20,243.35 L607.65,243.37 L608.10,243.38 L608.54,243.39 L608.99,243.39 L609.44,243.40 L609.88,243.40 L610.33,243.40 L610.77,243.40 L611.22,243.40 L611.67,243.40 L612.11,243.40 L612.56,243.40 L613.01,243.40 L613.45,243.40 L613.90,243.40 L613.90,243.40 L551.40,243.40 Z" fill="#9cb9e4" stroke="none" style="mix-blend-mode:multiply"/>
<path d="M551.40,243.40 L551.85,243.40 L552.29,243.40 L552.74,243.40 L553.19,243.40 L553.63,243.40 L554.08,243.40 L554.52,243.40 L554.97,243.40 L555.42,243.40 L555.86,243.40 L556.31,243.40 L556.76,243.40 L557.20,243.40 L557.65,243.40 L558.10,243.40 L558.54,243.40 L558.99,243.40 L559.44,243.40 L559.88,243.40 L560.33,243.40 L560.77,243.40 L561.22,243.40 L561.67,243.40 L562.11,243.40 L562.56,243.40 L563.01,243.40 L563.45,243.40 L563.90,243.40 L564.35,243.40 L564.79,243.40 L565.24,243.40 L565.69,243.40 L566.13,243.40 L566.58,243.40 L567.02,243.40 L567.47,243.40 L567.92,243.40 L568.36,243.40 L568.81,243.40 L569.26,243.40 L569.70,243.40 L570.15,243.40 L570.60,243.40 L571.04,243.40 L571.49,243.40 L571.94,243.40 L572.38,243.40 L572.83,243.40 L573.27,243.40 L573.72,243.40 L574.17,243.40 L574.61,243.40 L575.06,243.40 L575.51,243.40 L575.95,243.40 L576.40,243.40 L576.85,243.40 L577.29,243.40 L577.74,243.40 L578.19,243.40 L578.63,243.40 L579.08,243.40 L579.52,243.40 L579.97,243.40 L580.42,243.40 L580.86,243.40 L581.31,243.40 L581.76,243.40 L582.20,243.40 L582.65,243.40 L583.10,243.40 L583.54,243.40 L583.99,243.40 L584.44,243.40 L584.88,243.40 L585.33,243.40 L585.77,243.40 L586.22,243.40 L586.67,243.39 L587.11,243.39 L587.56,243.38 L588.01,243.37 L588.45,243.35 L588.90,243.32 L589.35,243.27 L589.79,243.19 L590.24,243.07 L590.69,242.89 L591.13,242.64 L591.58,242.28 L592.02,241.78 L592.47,241.10 L592.92,240.21 L593.36,239.07 L593.81,237.65 L594.26,235.93 L594.70,233.91 L595.15,231.65 L595.60,229.22 L596.04,226.74 L596.49,224.40 L596.94,222.44 L597.38,221.14 L597.83,221.14 L598.27,222.36 L598.72,224.21 L599.17,226.41 L599.61,228.77 L600.06,231.11 L600.51,233.32 L600.95,235.32 L601.40,237.06 L601.85,238.52 L602.29,239.73 L602.74,240.69 L603.19,241.43 L603.63,242.00 L604.08,242.42 L604.52,242.73 L604.97,242.95 L605.42,243.10 L605.86,243.20 L606.31,243.27 L606.76,243.32 L607.20,243.35 L607.65,243.37 L608.10,243.38 L608.54,243.39 L608.99,243.39 L609.44,243.40 L609.88,243.40 L610.33,243.40 L610.77,243.40 L611.22,243.40 L611.67,243.40 L612.11,243.40 L612.56,243.40 L613.01,243.40 L613.45,243.40 L613.90,243.40" fill="none" stroke="#6a90d0" stroke-width="0.7"/>
<rect x="551.40" y="181.40" width="62.50" height="62.00" fill="none" stroke="#8c8c8c" stroke-width="0.8"/>
<text x="557.40" y="249.00" font-size="3.6" text-anchor="middle" fill="#444" >-10<tspan font-size="2.6" dy="-1.5">3</tspan></text>
<text x="566.40" y="249.00" font-size="3.6" text-anchor="middle" fill="#444" >0</text>
<text x="578.30" y="249.00" font-size="3.6" text-anchor="middle" fill="#444" >10<tspan font-size="2.6" dy="-1.5">3</tspan></text>
<text x="595.50" y="249.00" font-size="3.6" text-anchor="middle" fill="#444" >10<tspan font-size="2.6" dy="-1.5">4</tspan></text>
<text x="609.80" y="249.00" font-size="3.6" text-anchor="middle" fill="#444" >10<tspan font-size="2.6" dy="-1.5">5</tspan></text>
<line x1="557.40" y1="243.40" x2="557.40" y2="244.60" stroke="#666" stroke-width="0.4" />
<line x1="566.40" y1="243.40" x2="566.40" y2="244.60" stroke="#666" stroke-width="0.4" />
<line x1="578.30" y1="243.40" x2="578.30" y2="244.60" stroke="#666" stroke-width="0.4" />
<line x1="595.50" y1="243.40" x2="595.50" y2="244.60" stroke="#666" stroke-width="0.4" />
<line x1="609.80" y1="243.40" x2="609.80" y2="244.60" stroke="#666" stroke-width="0.4" />
<ellipse cx="566.40" cy="244.30" rx="1.3" ry="0.8" fill="#222"/>
<text x="582.95" y="257.30" font-size="5.7" text-anchor="middle" fill="#222" >CD4 on Cells</text>
<path d="M620.50,207.36 L620.95,207.35 L621.40,207.33 L621.84,207.29 L622.29,207.25 L622.74,207.19 L623.19,207.11 L623.63,207.00 L624.08,206.86 L624.53,206.67 L624.98,206.43 L625.43,206.12 L625.87,205.73 L626.32,205.25 L626.77,204.65 L627.22,203.92 L627.67,203.06 L628.11,202.04 L628.56,200.86 L629.01,199.51 L629.46,198.01 L629.90,196.35 L630.35,194.58 L630.80,192.72 L631.25,190.84 L631.70,189.00 L632.14,187.27 L632.59,185.77 L633.04,184.61 L633.49,183.95 L633.94,184.13 L634.38,184.85 L634.83,185.90 L635.28,187.19 L635.73,188.64 L636.18,190.19 L636.62,191.80 L637.07,193.40 L637.52,194.96 L637.97,196.46 L638.41,197.88 L638.86,199.18 L639.31,200.37 L639.76,201.44 L640.21,202.39 L640.65,203.23 L641.10,203.95 L641.55,204.57 L642.00,205.10 L642.45,205.55 L642.89,205.92 L643.34,206.22 L643.79,206.47 L644.24,206.67 L644.68,206.83 L645.13,206.96 L645.58,207.07 L646.03,207.15 L646.48,207.21 L646.92,207.26 L647.37,207.29 L647.82,207.32 L648.27,207.34 L648.72,207.36 L649.16,207.37 L649.61,207.38 L650.06,207.38 L650.51,207.39 L650.95,207.39 L651.40,207.39 L651.85,207.40 L652.30,207.40 L652.75,207.40 L653.19,207.40 L653.64,207.40 L654.09,207.40 L654.54,207.40 L654.99,207.40 L655.43,207.40 L655.88,207.40 L656.33,207.40 L656.78,207.40 L657.22,207.40 L657.67,207.40 L658.12,207.40 L658.57,207.40 L659.02,207.40 L659.46,207.40 L659.91,207.40 L660.36,207.40 L660.81,207.40 L661.25,207.40 L661.70,207.40 L662.15,207.40 L662.60,207.40 L663.05,207.40 L663.49,207.40 L663.94,207.40 L664.39,207.40 L664.84,207.40 L665.29,207.40 L665.73,207.40 L666.18,207.40 L666.63,207.40 L667.08,207.40 L667.53,207.40 L667.97,207.40 L668.42,207.40 L668.87,207.40 L669.32,207.40 L669.76,207.40 L670.21,207.40 L670.66,207.40 L671.11,207.40 L671.56,207.40 L672.00,207.40 L672.45,207.40 L672.90,207.40 L673.35,207.40 L673.80,207.40 L674.24,207.40 L674.69,207.40 L675.14,207.40 L675.59,207.40 L676.03,207.40 L676.48,207.40 L676.93,207.40 L677.38,207.40 L677.83,207.40 L678.27,207.40 L678.72,207.40 L679.17,207.40 L679.62,207.40 L680.07,207.40 L680.51,207.40 L680.96,207.40 L681.41,207.40 L681.86,207.40 L682.30,207.40 L682.75,207.40 L683.20,207.40 L683.20,207.40 L620.50,207.40 Z" fill="#a6d8b3" stroke="none" style="mix-blend-mode:multiply"/>
<path d="M620.50,207.36 L620.95,207.35 L621.40,207.33 L621.84,207.29 L622.29,207.25 L622.74,207.19 L623.19,207.11 L623.63,207.00 L624.08,206.86 L624.53,206.67 L624.98,206.43 L625.43,206.12 L625.87,205.73 L626.32,205.25 L626.77,204.65 L627.22,203.92 L627.67,203.06 L628.11,202.04 L628.56,200.86 L629.01,199.51 L629.46,198.01 L629.90,196.35 L630.35,194.58 L630.80,192.72 L631.25,190.84 L631.70,189.00 L632.14,187.27 L632.59,185.77 L633.04,184.61 L633.49,183.95 L633.94,184.13 L634.38,184.85 L634.83,185.90 L635.28,187.19 L635.73,188.64 L636.18,190.19 L636.62,191.80 L637.07,193.40 L637.52,194.96 L637.97,196.46 L638.41,197.88 L638.86,199.18 L639.31,200.37 L639.76,201.44 L640.21,202.39 L640.65,203.23 L641.10,203.95 L641.55,204.57 L642.00,205.10 L642.45,205.55 L642.89,205.92 L643.34,206.22 L643.79,206.47 L644.24,206.67 L644.68,206.83 L645.13,206.96 L645.58,207.07 L646.03,207.15 L646.48,207.21 L646.92,207.26 L647.37,207.29 L647.82,207.32 L648.27,207.34 L648.72,207.36 L649.16,207.37 L649.61,207.38 L650.06,207.38 L650.51,207.39 L650.95,207.39 L651.40,207.39 L651.85,207.40 L652.30,207.40 L652.75,207.40 L653.19,207.40 L653.64,207.40 L654.09,207.40 L654.54,207.40 L654.99,207.40 L655.43,207.40 L655.88,207.40 L656.33,207.40 L656.78,207.40 L657.22,207.40 L657.67,207.40 L658.12,207.40 L658.57,207.40 L659.02,207.40 L659.46,207.40 L659.91,207.40 L660.36,207.40 L660.81,207.40 L661.25,207.40 L661.70,207.40 L662.15,207.40 L662.60,207.40 L663.05,207.40 L663.49,207.40 L663.94,207.40 L664.39,207.40 L664.84,207.40 L665.29,207.40 L665.73,207.40 L666.18,207.40 L666.63,207.40 L667.08,207.40 L667.53,207.40 L667.97,207.40 L668.42,207.40 L668.87,207.40 L669.32,207.40 L669.76,207.40 L670.21,207.40 L670.66,207.40 L671.11,207.40 L671.56,207.40 L672.00,207.40 L672.45,207.40 L672.90,207.40 L673.35,207.40 L673.80,207.40 L674.24,207.40 L674.69,207.40 L675.14,207.40 L675.59,207.40 L676.03,207.40 L676.48,207.40 L676.93,207.40 L677.38,207.40 L677.83,207.40 L678.27,207.40 L678.72,207.40 L679.17,207.40 L679.62,207.40 L680.07,207.40 L680.51,207.40 L680.96,207.40 L681.41,207.40 L681.86,207.40 L682.30,207.40 L682.75,207.40 L683.20,207.40" fill="none" stroke="#3f8656" stroke-width="0.7"/>
<path d="M620.50,219.47 L620.95,219.46 L621.40,219.44 L621.84,219.41 L622.29,219.37 L622.74,219.31 L623.19,219.24 L623.63,219.14 L624.08,219.00 L624.53,218.82 L624.98,218.58 L625.43,218.28 L625.87,217.89 L626.32,217.41 L626.77,216.81 L627.22,216.08 L627.67,215.20 L628.11,214.17 L628.56,212.97 L629.01,211.60 L629.46,210.07 L629.90,208.41 L630.35,206.63 L630.80,204.80 L631.25,202.97 L631.70,201.21 L632.14,199.63 L632.59,198.35 L633.04,197.49 L633.49,197.37 L633.94,197.87 L634.38,198.70 L634.83,199.75 L635.28,200.97 L635.73,202.31 L636.18,203.72 L636.62,205.15 L637.07,206.58 L637.52,207.96 L637.97,209.29 L638.41,210.55 L638.86,211.71 L639.31,212.78 L639.76,213.75 L640.21,214.61 L640.65,215.38 L641.10,216.05 L641.55,216.63 L642.00,217.14 L642.45,217.56 L642.89,217.93 L643.34,218.23 L643.79,218.48 L644.24,218.69 L644.68,218.86 L645.13,218.99 L645.58,219.10 L646.03,219.19 L646.48,219.26 L646.92,219.32 L647.37,219.36 L647.82,219.39 L648.27,219.42 L648.72,219.44 L649.16,219.46 L649.61,219.47 L650.06,219.48 L650.51,219.48 L650.95,219.49 L651.40,219.49 L651.85,219.49 L652.30,219.50 L652.75,219.50 L653.19,219.50 L653.64,219.50 L654.09,219.50 L654.54,219.50 L654.99,219.50 L655.43,219.50 L655.88,219.50 L656.33,219.50 L656.78,219.50 L657.22,219.50 L657.67,219.50 L658.12,219.50 L658.57,219.50 L659.02,219.50 L659.46,219.50 L659.91,219.50 L660.36,219.50 L660.81,219.50 L661.25,219.50 L661.70,219.50 L662.15,219.50 L662.60,219.50 L663.05,219.50 L663.49,219.50 L663.94,219.50 L664.39,219.50 L664.84,219.50 L665.29,219.50 L665.73,219.50 L666.18,219.50 L666.63,219.50 L667.08,219.50 L667.53,219.50 L667.97,219.50 L668.42,219.50 L668.87,219.50 L669.32,219.50 L669.76,219.50 L670.21,219.50 L670.66,219.50 L671.11,219.50 L671.56,219.50 L672.00,219.50 L672.45,219.50 L672.90,219.50 L673.35,219.50 L673.80,219.50 L674.24,219.50 L674.69,219.50 L675.14,219.50 L675.59,219.50 L676.03,219.50 L676.48,219.50 L676.93,219.50 L677.38,219.50 L677.83,219.50 L678.27,219.50 L678.72,219.50 L679.17,219.50 L679.62,219.50 L680.07,219.50 L680.51,219.50 L680.96,219.50 L681.41,219.50 L681.86,219.50 L682.30,219.50 L682.75,219.50 L683.20,219.50 L683.20,219.50 L620.50,219.50 Z" fill="#a6d8b3" stroke="none" style="mix-blend-mode:multiply"/>
<path d="M620.50,219.47 L620.95,219.46 L621.40,219.44 L621.84,219.41 L622.29,219.37 L622.74,219.31 L623.19,219.24 L623.63,219.14 L624.08,219.00 L624.53,218.82 L624.98,218.58 L625.43,218.28 L625.87,217.89 L626.32,217.41 L626.77,216.81 L627.22,216.08 L627.67,215.20 L628.11,214.17 L628.56,212.97 L629.01,211.60 L629.46,210.07 L629.90,208.41 L630.35,206.63 L630.80,204.80 L631.25,202.97 L631.70,201.21 L632.14,199.63 L632.59,198.35 L633.04,197.49 L633.49,197.37 L633.94,197.87 L634.38,198.70 L634.83,199.75 L635.28,200.97 L635.73,202.31 L636.18,203.72 L636.62,205.15 L637.07,206.58 L637.52,207.96 L637.97,209.29 L638.41,210.55 L638.86,211.71 L639.31,212.78 L639.76,213.75 L640.21,214.61 L640.65,215.38 L641.10,216.05 L641.55,216.63 L642.00,217.14 L642.45,217.56 L642.89,217.93 L643.34,218.23 L643.79,218.48 L644.24,218.69 L644.68,218.86 L645.13,218.99 L645.58,219.10 L646.03,219.19 L646.48,219.26 L646.92,219.32 L647.37,219.36 L647.82,219.39 L648.27,219.42 L648.72,219.44 L649.16,219.46 L649.61,219.47 L650.06,219.48 L650.51,219.48 L650.95,219.49 L651.40,219.49 L651.85,219.49 L652.30,219.50 L652.75,219.50 L653.19,219.50 L653.64,219.50 L654.09,219.50 L654.54,219.50 L654.99,219.50 L655.43,219.50 L655.88,219.50 L656.33,219.50 L656.78,219.50 L657.22,219.50 L657.67,219.50 L658.12,219.50 L658.57,219.50 L659.02,219.50 L659.46,219.50 L659.91,219.50 L660.36,219.50 L660.81,219.50 L661.25,219.50 L661.70,219.50 L662.15,219.50 L662.60,219.50 L663.05,219.50 L663.49,219.50 L663.94,219.50 L664.39,219.50 L664.84,219.50 L665.29,219.50 L665.73,219.50 L666.18,219.50 L666.63,219.50 L667.08,219.50 L667.53,219.50 L667.97,219.50 L668.42,219.50 L668.87,219.50 L669.32,219.50 L669.76,219.50 L670.21,219.50 L670.66,219.50 L671.11,219.50 L671.56,219.50 L672.00,219.50 L672.45,219.50 L672.90,219.50 L673.35,219.50 L673.80,219.50 L674.24,219.50 L674.69,219.50 L675.14,219.50 L675.59,219.50 L676.03,219.50 L676.48,219.50 L676.93,219.50 L677.38,219.50 L677.83,219.50 L678.27,219.50 L678.72,219.50 L679.17,219.50 L679.62,219.50 L680.07,219.50 L680.51,219.50 L680.96,219.50 L681.41,219.50 L681.86,219.50 L682.30,219.50 L682.75,219.50 L683.20,219.50" fill="none" stroke="#3f8656" stroke-width="0.7"/>
<path d="M620.50,231.37 L620.95,231.36 L621.40,231.34 L621.84,231.32 L622.29,231.28 L622.74,231.24 L623.19,231.17 L623.63,231.08 L624.08,230.95 L624.53,230.79 L624.98,230.57 L625.43,230.29 L625.87,229.94 L626.32,229.49 L626.77,228.92 L627.22,228.24 L627.67,227.41 L628.11,226.42 L628.56,225.26 L629.01,223.93 L629.46,222.44 L629.90,220.79 L630.35,219.01 L630.80,217.15 L631.25,215.25 L631.70,213.41 L632.14,211.69 L632.59,210.22 L633.04,209.12 L633.49,208.60 L633.94,208.89 L634.38,209.54 L634.83,210.44 L635.28,211.53 L635.73,212.76 L636.18,214.09 L636.62,215.46 L637.07,216.86 L637.52,218.24 L637.97,219.59 L638.41,220.89 L638.86,222.11 L639.31,223.25 L639.76,224.31 L640.21,225.27 L640.65,226.13 L641.10,226.91 L641.55,227.60 L642.00,228.20 L642.45,228.73 L642.89,229.18 L643.34,229.57 L643.79,229.90 L644.24,230.17 L644.68,230.41 L645.13,230.60 L645.58,230.76 L646.03,230.89 L646.48,231.00 L646.92,231.08 L647.37,231.15 L647.82,231.21 L648.27,231.25 L648.72,231.28 L649.16,231.31 L649.61,231.33 L650.06,231.35 L650.51,231.36 L650.95,231.37 L651.40,231.38 L651.85,231.38 L652.30,231.39 L652.75,231.39 L653.19,231.39 L653.64,231.40 L654.09,231.40 L654.54,231.40 L654.99,231.40 L655.43,231.40 L655.88,231.40 L656.33,231.40 L656.78,231.40 L657.22,231.40 L657.67,231.40 L658.12,231.40 L658.57,231.40 L659.02,231.40 L659.46,231.40 L659.91,231.40 L660.36,231.40 L660.81,231.40 L661.25,231.40 L661.70,231.40 L662.15,231.40 L662.60,231.40 L663.05,231.40 L663.49,231.40 L663.94,231.40 L664.39,231.40 L664.84,231.40 L665.29,231.40 L665.73,231.40 L666.18,231.40 L666.63,231.40 L667.08,231.40 L667.53,231.40 L667.97,231.40 L668.42,231.40 L668.87,231.40 L669.32,231.40 L669.76,231.40 L670.21,231.40 L670.66,231.40 L671.11,231.40 L671.56,231.40 L672.00,231.40 L672.45,231.40 L672.90,231.40 L673.35,231.40 L673.80,231.40 L674.24,231.40 L674.69,231.40 L675.14,231.40 L675.59,231.40 L676.03,231.40 L676.48,231.40 L676.93,231.40 L677.38,231.40 L677.83,231.40 L678.27,231.40 L678.72,231.40 L679.17,231.40 L679.62,231.40 L680.07,231.40 L680.51,231.40 L680.96,231.40 L681.41,231.40 L681.86,231.40 L682.30,231.40 L682.75,231.40 L683.20,231.40 L683.20,231.40 L620.50,231.40 Z" fill="#a6d8b3" stroke="none" style="mix-blend-mode:multiply"/>
<path d="M620.50,231.37 L620.95,231.36 L621.40,231.34 L621.84,231.32 L622.29,231.28 L622.74,231.24 L623.19,231.17 L623.63,231.08 L624.08,230.95 L624.53,230.79 L624.98,230.57 L625.43,230.29 L625.87,229.94 L626.32,229.49 L626.77,228.92 L627.22,228.24 L627.67,227.41 L628.11,226.42 L628.56,225.26 L629.01,223.93 L629.46,222.44 L629.90,220.79 L630.35,219.01 L630.80,217.15 L631.25,215.25 L631.70,213.41 L632.14,211.69 L632.59,210.22 L633.04,209.12 L633.49,208.60 L633.94,208.89 L634.38,209.54 L634.83,210.44 L635.28,211.53 L635.73,212.76 L636.18,214.09 L636.62,215.46 L637.07,216.86 L637.52,218.24 L637.97,219.59 L638.41,220.89 L638.86,222.11 L639.31,223.25 L639.76,224.31 L640.21,225.27 L640.65,226.13 L641.10,226.91 L641.55,227.60 L642.00,228.20 L642.45,228.73 L642.89,229.18 L643.34,229.57 L643.79,229.90 L644.24,230.17 L644.68,230.41 L645.13,230.60 L645.58,230.76 L646.03,230.89 L646.48,231.00 L646.92,231.08 L647.37,231.15 L647.82,231.21 L648.27,231.25 L648.72,231.28 L649.16,231.31 L649.61,231.33 L650.06,231.35 L650.51,231.36 L650.95,231.37 L651.40,231.38 L651.85,231.38 L652.30,231.39 L652.75,231.39 L653.19,231.39 L653.64,231.40 L654.09,231.40 L654.54,231.40 L654.99,231.40 L655.43,231.40 L655.88,231.40 L656.33,231.40 L656.78,231.40 L657.22,231.40 L657.67,231.40 L658.12,231.40 L658.57,231.40 L659.02,231.40 L659.46,231.40 L659.91,231.40 L660.36,231.40 L660.81,231.40 L661.25,231.40 L661.70,231.40 L662.15,231.40 L662.60,231.40 L663.05,231.40 L663.49,231.40 L663.94,231.40 L664.39,231.40 L664.84,231.40 L665.29,231.40 L665.73,231.40 L666.18,231.40 L666.63,231.40 L667.08,231.40 L667.53,231.40 L667.97,231.40 L668.42,231.40 L668.87,231.40 L669.32,231.40 L669.76,231.40 L670.21,231.40 L670.66,231.40 L671.11,231.40 L671.56,231.40 L672.00,231.40 L672.45,231.40 L672.90,231.40 L673.35,231.40 L673.80,231.40 L674.24,231.40 L674.69,231.40 L675.14,231.40 L675.59,231.40 L676.03,231.40 L676.48,231.40 L676.93,231.40 L677.38,231.40 L677.83,231.40 L678.27,231.40 L678.72,231.40 L679.17,231.40 L679.62,231.40 L680.07,231.40 L680.51,231.40 L680.96,231.40 L681.41,231.40 L681.86,231.40 L682.30,231.40 L682.75,231.40 L683.20,231.40" fill="none" stroke="#3f8656" stroke-width="0.7"/>
<path d="M620.50,243.33 L620.95,243.30 L621.40,243.27 L621.84,243.23 L622.29,243.18 L622.74,243.11 L623.19,243.02 L623.63,242.91 L624.08,242.77 L624.53,242.60 L624.98,242.39 L625.43,242.13 L625.87,241.82 L626.32,241.44 L626.77,241.00 L627.22,240.47 L627.67,239.86 L628.11,239.15 L628.56,238.35 L629.01,237.43 L629.46,236.41 L629.90,235.28 L630.35,234.05 L630.80,232.73 L631.25,231.34 L631.70,229.89 L632.14,228.41 L632.59,226.93 L633.04,225.51 L633.49,224.17 L633.94,222.99 L634.38,222.02 L634.83,221.34 L635.28,221.11 L635.73,221.38 L636.18,221.88 L636.62,222.57 L637.07,223.39 L637.52,224.32 L637.97,225.34 L638.41,226.41 L638.86,227.52 L639.31,228.64 L639.76,229.77 L640.21,230.88 L640.65,231.96 L641.10,233.01 L641.55,234.01 L642.00,234.96 L642.45,235.84 L642.89,236.67 L643.34,237.44 L643.79,238.14 L644.24,238.79 L644.68,239.37 L645.13,239.89 L645.58,240.37 L646.03,240.78 L646.48,241.15 L646.92,241.48 L647.37,241.77 L647.82,242.02 L648.27,242.23 L648.72,242.42 L649.16,242.58 L649.61,242.72 L650.06,242.83 L650.51,242.93 L650.95,243.01 L651.40,243.08 L651.85,243.14 L652.30,243.19 L652.75,243.23 L653.19,243.26 L653.64,243.29 L654.09,243.31 L654.54,243.33 L654.99,243.34 L655.43,243.35 L655.88,243.36 L656.33,243.37 L656.78,243.38 L657.22,243.38 L657.67,243.39 L658.12,243.39 L658.57,243.39 L659.02,243.39 L659.46,243.40 L659.91,243.40 L660.36,243.40 L660.81,243.40 L661.25,243.40 L661.70,243.40 L662.15,243.40 L662.60,243.40 L663.05,243.40 L663.49,243.40 L663.94,243.40 L664.39,243.40 L664.84,243.40 L665.29,243.40 L665.73,243.40 L666.18,243.40 L666.63,243.40 L667.08,243.40 L667.53,243.40 L667.97,243.40 L668.42,243.40 L668.87,243.40 L669.32,243.40 L669.76,243.40 L670.21,243.40 L670.66,243.40 L671.11,243.40 L671.56,243.40 L672.00,243.40 L672.45,243.40 L672.90,243.40 L673.35,243.40 L673.80,243.40 L674.24,243.40 L674.69,243.40 L675.14,243.40 L675.59,243.40 L676.03,243.40 L676.48,243.40 L676.93,243.40 L677.38,243.40 L677.83,243.40 L678.27,243.40 L678.72,243.40 L679.17,243.40 L679.62,243.40 L680.07,243.40 L680.51,243.40 L680.96,243.40 L681.41,243.40 L681.86,243.40 L682.30,243.40 L682.75,243.40 L683.20,243.40 L683.20,243.40 L620.50,243.40 Z" fill="#a6d8b3" stroke="none" style="mix-blend-mode:multiply"/>
<path d="M620.50,243.33 L620.95,243.30 L621.40,243.27 L621.84,243.23 L622.29,243.18 L622.74,243.11 L623.19,243.02 L623.63,242.91 L624.08,242.77 L624.53,242.60 L624.98,242.39 L625.43,242.13 L625.87,241.82 L626.32,241.44 L626.77,241.00 L627.22,240.47 L627.67,239.86 L628.11,239.15 L628.56,238.35 L629.01,237.43 L629.46,236.41 L629.90,235.28 L630.35,234.05 L630.80,232.73 L631.25,231.34 L631.70,229.89 L632.14,228.41 L632.59,226.93 L633.04,225.51 L633.49,224.17 L633.94,222.99 L634.38,222.02 L634.83,221.34 L635.28,221.11 L635.73,221.38 L636.18,221.88 L636.62,222.57 L637.07,223.39 L637.52,224.32 L637.97,225.34 L638.41,226.41 L638.86,227.52 L639.31,228.64 L639.76,229.77 L640.21,230.88 L640.65,231.96 L641.10,233.01 L641.55,234.01 L642.00,234.96 L642.45,235.84 L642.89,236.67 L643.34,237.44 L643.79,238.14 L644.24,238.79 L644.68,239.37 L645.13,239.89 L645.58,240.37 L646.03,240.78 L646.48,241.15 L646.92,241.48 L647.37,241.77 L647.82,242.02 L648.27,242.23 L648.72,242.42 L649.16,242.58 L649.61,242.72 L650.06,242.83 L650.51,242.93 L650.95,243.01 L651.40,243.08 L651.85,243.14 L652.30,243.19 L652.75,243.23 L653.19,243.26 L653.64,243.29 L654.09,243.31 L654.54,243.33 L654.99,243.34 L655.43,243.35 L655.88,243.36 L656.33,243.37 L656.78,243.38 L657.22,243.38 L657.67,243.39 L658.12,243.39 L658.57,243.39 L659.02,243.39 L659.46,243.40 L659.91,243.40 L660.36,243.40 L660.81,243.40 L661.25,243.40 L661.70,243.40 L662.15,243.40 L662.60,243.40 L663.05,243.40 L663.49,243.40 L663.94,243.40 L664.39,243.40 L664.84,243.40 L665.29,243.40 L665.73,243.40 L666.18,243.40 L666.63,243.40 L667.08,243.40 L667.53,243.40 L667.97,243.40 L668.42,243.40 L668.87,243.40 L669.32,243.40 L669.76,243.40 L670.21,243.40 L670.66,243.40 L671.11,243.40 L671.56,243.40 L672.00,243.40 L672.45,243.40 L672.90,243.40 L673.35,243.40 L673.80,243.40 L674.24,243.40 L674.69,243.40 L675.14,243.40 L675.59,243.40 L676.03,243.40 L676.48,243.40 L676.93,243.40 L677.38,243.40 L677.83,243.40 L678.27,243.40 L678.72,243.40 L679.17,243.40 L679.62,243.40 L680.07,243.40 L680.51,243.40 L680.96,243.40 L681.41,243.40 L681.86,243.40 L682.30,243.40 L682.75,243.40 L683.20,243.40" fill="none" stroke="#3f8656" stroke-width="0.7"/>
<rect x="620.50" y="181.40" width="62.70" height="62.00" fill="none" stroke="#8c8c8c" stroke-width="0.8"/>
<text x="627.20" y="249.00" font-size="3.6" text-anchor="middle" fill="#444" >-10<tspan font-size="2.6" dy="-1.5">3</tspan></text>
<text x="635.00" y="249.00" font-size="3.6" text-anchor="middle" fill="#444" >0</text>
<text x="645.80" y="249.00" font-size="3.6" text-anchor="middle" fill="#444" >10<tspan font-size="2.6" dy="-1.5">3</tspan></text>
<text x="664.80" y="249.00" font-size="3.6" text-anchor="middle" fill="#444" >10<tspan font-size="2.6" dy="-1.5">4</tspan></text>
<text x="678.20" y="249.00" font-size="3.6" text-anchor="middle" fill="#444" >10<tspan font-size="2.6" dy="-1.5">5</tspan></text>
<line x1="627.20" y1="243.40" x2="627.20" y2="244.60" stroke="#666" stroke-width="0.4" />
<line x1="635.00" y1="243.40" x2="635.00" y2="244.60" stroke="#666" stroke-width="0.4" />
<line x1="645.80" y1="243.40" x2="645.80" y2="244.60" stroke="#666" stroke-width="0.4" />
<line x1="664.80" y1="243.40" x2="664.80" y2="244.60" stroke="#666" stroke-width="0.4" />
<line x1="678.20" y1="243.40" x2="678.20" y2="244.60" stroke="#666" stroke-width="0.4" />
<ellipse cx="635.00" cy="244.30" rx="1.3" ry="0.8" fill="#222"/>
<text x="652.15" y="257.30" font-size="5.7" text-anchor="middle" fill="#222" >CD4 on BSLB</text>
<text x="675.20" y="188.70" font-size="7.4" text-anchor="middle" fill="#3f9a5e" >Ctrl</text>
<text x="673.00" y="197.20" font-size="7.4" text-anchor="middle" fill="#3f9a5e" >BSLB</text>
<text x="555.00" y="204.30" font-size="7.4" text-anchor="start" fill="#111" >0</text>
<text x="552.60" y="218.30" font-size="7.4" text-anchor="start" fill="#111" >20</text>
<text x="552.60" y="230.60" font-size="7.4" text-anchor="start" fill="#111" >200</text>
<text x="552.60" y="242.80" font-size="7.4" text-anchor="start" fill="#111" >2,000</text>
<path d="M551.60,284.80 L552.04,284.80 L552.48,284.80 L552.93,284.80 L553.37,284.80 L553.81,284.80 L554.25,284.80 L554.70,284.80 L555.14,284.80 L555.58,284.80 L556.02,284.80 L556.46,284.80 L556.91,284.80 L557.35,284.80 L557.79,284.80 L558.23,284.80 L558.67,284.80 L559.12,284.80 L559.56,284.80 L560.00,284.80 L560.44,284.80 L560.88,284.80 L561.33,284.80 L561.77,284.80 L562.21,284.80 L562.65,284.80 L563.10,284.80 L563.54,284.80 L563.98,284.80 L564.42,284.80 L564.86,284.80 L565.31,284.80 L565.75,284.80 L566.19,284.79 L566.63,284.75 L567.08,284.70 L567.52,284.64 L567.96,284.58 L568.40,284.51 L568.84,284.44 L569.29,284.36 L569.73,284.29 L570.17,284.21 L570.61,284.12 L571.05,284.04 L571.50,283.95 L571.94,283.86 L572.38,283.77 L572.82,283.68 L573.26,283.58 L573.71,283.48 L574.15,283.38 L574.59,283.28 L575.03,283.18 L575.48,283.08 L575.92,282.97 L576.36,282.86 L576.80,282.76 L577.24,282.65 L577.69,282.54 L578.13,282.42 L578.57,282.31 L579.01,282.20 L579.46,282.08 L579.90,281.96 L580.34,281.85 L580.78,281.73 L581.22,281.61 L581.67,281.49 L582.11,281.36 L582.55,281.24 L582.99,281.12 L583.43,280.99 L583.88,280.87 L584.32,280.74 L584.76,280.61 L585.20,280.48 L585.64,280.35 L586.09,280.22 L586.53,280.09 L586.97,279.96 L587.41,279.82 L587.86,279.69 L588.30,279.56 L588.74,279.42 L589.18,279.28 L589.62,279.15 L590.07,279.01 L590.51,278.87 L590.95,278.73 L591.39,278.59 L591.84,278.45 L592.28,278.31 L592.72,278.30 L593.16,277.40 L593.60,274.89 L594.05,272.10 L594.49,269.23 L594.93,266.53 L595.37,264.30 L595.81,262.80 L596.26,262.20 L596.70,262.64 L597.14,264.11 L597.58,266.40 L598.02,269.22 L598.47,272.24 L598.91,275.15 L599.35,277.74 L599.79,279.88 L600.24,281.54 L600.68,282.74 L601.12,283.56 L601.56,284.09 L602.00,284.41 L602.45,284.60 L602.89,284.70 L603.33,284.75 L603.77,284.78 L604.22,284.79 L604.66,284.80 L605.10,284.80 L605.54,284.80 L605.98,284.80 L606.43,284.80 L606.87,284.80 L607.31,284.80 L607.75,284.80 L608.19,284.80 L608.64,284.80 L609.08,284.80 L609.52,284.80 L609.96,284.80 L610.40,284.80 L610.85,284.80 L611.29,284.80 L611.73,284.80 L612.17,284.80 L612.62,284.80 L613.06,284.80 L613.50,284.80 L613.50,284.80 L551.60,284.80 Z" fill="#c8dbf2" stroke="none" style="mix-blend-mode:multiply"/>
<path d="M551.60,284.80 L552.04,284.80 L552.48,284.80 L552.93,284.80 L553.37,284.80 L553.81,284.80 L554.25,284.80 L554.70,284.80 L555.14,284.80 L555.58,284.80 L556.02,284.80 L556.46,284.80 L556.91,284.80 L557.35,284.80 L557.79,284.80 L558.23,284.80 L558.67,284.80 L559.12,284.80 L559.56,284.80 L560.00,284.80 L560.44,284.80 L560.88,284.80 L561.33,284.80 L561.77,284.80 L562.21,284.80 L562.65,284.80 L563.10,284.80 L563.54,284.80 L563.98,284.80 L564.42,284.80 L564.86,284.80 L565.31,284.80 L565.75,284.80 L566.19,284.79 L566.63,284.75 L567.08,284.70 L567.52,284.64 L567.96,284.58 L568.40,284.51 L568.84,284.44 L569.29,284.36 L569.73,284.29 L570.17,284.21 L570.61,284.12 L571.05,284.04 L571.50,283.95 L571.94,283.86 L572.38,283.77 L572.82,283.68 L573.26,283.58 L573.71,283.48 L574.15,283.38 L574.59,283.28 L575.03,283.18 L575.48,283.08 L575.92,282.97 L576.36,282.86 L576.80,282.76 L577.24,282.65 L577.69,282.54 L578.13,282.42 L578.57,282.31 L579.01,282.20 L579.46,282.08 L579.90,281.96 L580.34,281.85 L580.78,281.73 L581.22,281.61 L581.67,281.49 L582.11,281.36 L582.55,281.24 L582.99,281.12 L583.43,280.99 L583.88,280.87 L584.32,280.74 L584.76,280.61 L585.20,280.48 L585.64,280.35 L586.09,280.22 L586.53,280.09 L586.97,279.96 L587.41,279.82 L587.86,279.69 L588.30,279.56 L588.74,279.42 L589.18,279.28 L589.62,279.15 L590.07,279.01 L590.51,278.87 L590.95,278.73 L591.39,278.59 L591.84,278.45 L592.28,278.31 L592.72,278.30 L593.16,277.40 L593.60,274.89 L594.05,272.10 L594.49,269.23 L594.93,266.53 L595.37,264.30 L595.81,262.80 L596.26,262.20 L596.70,262.64 L597.14,264.11 L597.58,266.40 L598.02,269.22 L598.47,272.24 L598.91,275.15 L599.35,277.74 L599.79,279.88 L600.24,281.54 L600.68,282.74 L601.12,283.56 L601.56,284.09 L602.00,284.41 L602.45,284.60 L602.89,284.70 L603.33,284.75 L603.77,284.78 L604.22,284.79 L604.66,284.80 L605.10,284.80 L605.54,284.80 L605.98,284.80 L606.43,284.80 L606.87,284.80 L607.31,284.80 L607.75,284.80 L608.19,284.80 L608.64,284.80 L609.08,284.80 L609.52,284.80 L609.96,284.80 L610.40,284.80 L610.85,284.80 L611.29,284.80 L611.73,284.80 L612.17,284.80 L612.62,284.80 L613.06,284.80 L613.50,284.80" fill="none" stroke="#9dbde8" stroke-width="0.7"/>
<path d="M551.60,297.40 L552.04,297.40 L552.48,297.40 L552.93,297.40 L553.37,297.40 L553.81,297.40 L554.25,297.40 L554.70,297.40 L555.14,297.40 L555.58,297.40 L556.02,297.40 L556.46,297.40 L556.91,297.40 L557.35,297.40 L557.79,297.40 L558.23,297.40 L558.67,297.40 L559.12,297.40 L559.56,297.40 L560.00,297.40 L560.44,297.40 L560.88,297.40 L561.33,297.40 L561.77,297.40 L562.21,297.40 L562.65,297.40 L563.10,297.40 L563.54,297.40 L563.98,297.40 L564.42,297.40 L564.86,297.40 L565.31,297.40 L565.75,297.40 L566.19,297.39 L566.63,297.37 L567.08,297.34 L567.52,297.30 L567.96,297.26 L568.40,297.22 L568.84,297.18 L569.29,297.13 L569.73,297.09 L570.17,297.04 L570.61,296.99 L571.05,296.94 L571.50,296.88 L571.94,296.83 L572.38,296.77 L572.82,296.71 L573.26,296.66 L573.71,296.60 L574.15,296.54 L574.59,296.48 L575.03,296.41 L575.48,296.35 L575.92,296.29 L576.36,296.22 L576.80,296.15 L577.24,296.09 L577.69,296.02 L578.13,295.95 L578.57,295.88 L579.01,295.81 L579.46,295.74 L579.90,295.67 L580.34,295.60 L580.78,295.53 L581.22,295.45 L581.67,295.38 L582.11,295.31 L582.55,295.23 L582.99,295.16 L583.43,295.08 L583.88,295.00 L584.32,294.92 L584.76,294.85 L585.20,294.77 L585.64,294.69 L586.09,294.61 L586.53,294.53 L586.97,294.45 L587.41,294.37 L587.86,294.29 L588.30,294.20 L588.74,294.12 L589.18,294.04 L589.62,293.95 L590.07,293.87 L590.51,293.79 L590.95,293.70 L591.39,293.62 L591.84,293.53 L592.28,293.44 L592.72,293.05 L593.16,291.18 L593.60,288.90 L594.05,286.29 L594.49,283.50 L594.93,280.76 L595.37,278.35 L595.81,276.54 L596.26,275.55 L596.70,275.51 L597.14,276.50 L597.58,278.40 L598.02,280.95 L598.47,283.84 L598.91,286.75 L599.35,289.44 L599.79,291.73 L600.24,293.56 L600.68,294.92 L601.12,295.87 L601.56,296.51 L602.00,296.90 L602.45,297.14 L602.89,297.27 L603.33,297.34 L603.77,297.37 L604.22,297.39 L604.66,297.39 L605.10,297.40 L605.54,297.40 L605.98,297.40 L606.43,297.40 L606.87,297.40 L607.31,297.40 L607.75,297.40 L608.19,297.40 L608.64,297.40 L609.08,297.40 L609.52,297.40 L609.96,297.40 L610.40,297.40 L610.85,297.40 L611.29,297.40 L611.73,297.40 L612.17,297.40 L612.62,297.40 L613.06,297.40 L613.50,297.40 L613.50,297.40 L551.60,297.40 Z" fill="#9cb9e4" stroke="none" style="mix-blend-mode:multiply"/>
<path d="M551.60,297.40 L552.04,297.40 L552.48,297.40 L552.93,297.40 L553.37,297.40 L553.81,297.40 L554.25,297.40 L554.70,297.40 L555.14,297.40 L555.58,297.40 L556.02,297.40 L556.46,297.40 L556.91,297.40 L557.35,297.40 L557.79,297.40 L558.23,297.40 L558.67,297.40 L559.12,297.40 L559.56,297.40 L560.00,297.40 L560.44,297.40 L560.88,297.40 L561.33,297.40 L561.77,297.40 L562.21,297.40 L562.65,297.40 L563.10,297.40 L563.54,297.40 L563.98,297.40 L564.42,297.40 L564.86,297.40 L565.31,297.40 L565.75,297.40 L566.19,297.39 L566.63,297.37 L567.08,297.34 L567.52,297.30 L567.96,297.26 L568.40,297.22 L568.84,297.18 L569.29,297.13 L569.73,297.09 L570.17,297.04 L570.61,296.99 L571.05,296.94 L571.50,296.88 L571.94,296.83 L572.38,296.77 L572.82,296.71 L573.26,296.66 L573.71,296.60 L574.15,296.54 L574.59,296.48 L575.03,296.41 L575.48,296.35 L575.92,296.29 L576.36,296.22 L576.80,296.15 L577.24,296.09 L577.69,296.02 L578.13,295.95 L578.57,295.88 L579.01,295.81 L579.46,295.74 L579.90,295.67 L580.34,295.60 L580.78,295.53 L581.22,295.45 L581.67,295.38 L582.11,295.31 L582.55,295.23 L582.99,295.16 L583.43,295.08 L583.88,295.00 L584.32,294.92 L584.76,294.85 L585.20,294.77 L585.64,294.69 L586.09,294.61 L586.53,294.53 L586.97,294.45 L587.41,294.37 L587.86,294.29 L588.30,294.20 L588.74,294.12 L589.18,294.04 L589.62,293.95 L590.07,293.87 L590.51,293.79 L590.95,293.70 L591.39,293.62 L591.84,293.53 L592.28,293.44 L592.72,293.05 L593.16,291.18 L593.60,288.90 L594.05,286.29 L594.49,283.50 L594.93,280.76 L595.37,278.35 L595.81,276.54 L596.26,275.55 L596.70,275.51 L597.14,276.50 L597.58,278.40 L598.02,280.95 L598.47,283.84 L598.91,286.75 L599.35,289.44 L599.79,291.73 L600.24,293.56 L600.68,294.92 L601.12,295.87 L601.56,296.51 L602.00,296.90 L602.45,297.14 L602.89,297.27 L603.33,297.34 L603.77,297.37 L604.22,297.39 L604.66,297.39 L605.10,297.40 L605.54,297.40 L605.98,297.40 L606.43,297.40 L606.87,297.40 L607.31,297.40 L607.75,297.40 L608.19,297.40 L608.64,297.40 L609.08,297.40 L609.52,297.40 L609.96,297.40 L610.40,297.40 L610.85,297.40 L611.29,297.40 L611.73,297.40 L612.17,297.40 L612.62,297.40 L613.06,297.40 L613.50,297.40" fill="none" stroke="#6a90d0" stroke-width="0.7"/>
<path d="M551.60,309.00 L552.04,309.00 L552.48,309.00 L552.93,309.00 L553.37,309.00 L553.81,309.00 L554.25,309.00 L554.70,309.00 L555.14,309.00 L555.58,309.00 L556.02,309.00 L556.46,309.00 L556.91,309.00 L557.35,309.00 L557.79,309.00 L558.23,309.00 L558.67,309.00 L559.12,309.00 L559.56,309.00 L560.00,309.00 L560.44,309.00 L560.88,309.00 L561.33,309.00 L561.77,309.00 L562.21,309.00 L562.65,309.00 L563.10,309.00 L563.54,309.00 L563.98,309.00 L564.42,309.00 L564.86,309.00 L565.31,309.00 L565.75,309.00 L566.19,308.99 L566.63,308.97 L567.08,308.94 L567.52,308.90 L567.96,308.86 L568.40,308.82 L568.84,308.78 L569.29,308.73 L569.73,308.69 L570.17,308.64 L570.61,308.59 L571.05,308.54 L571.50,308.48 L571.94,308.43 L572.38,308.37 L572.82,308.31 L573.26,308.26 L573.71,308.20 L574.15,308.14 L574.59,308.08 L575.03,308.01 L575.48,307.95 L575.92,307.89 L576.36,307.82 L576.80,307.75 L577.24,307.69 L577.69,307.62 L578.13,307.55 L578.57,307.48 L579.01,307.41 L579.46,307.34 L579.90,307.27 L580.34,307.20 L580.78,307.13 L581.22,307.05 L581.67,306.98 L582.11,306.91 L582.55,306.83 L582.99,306.76 L583.43,306.68 L583.88,306.60 L584.32,306.52 L584.76,306.45 L585.20,306.37 L585.64,306.29 L586.09,306.21 L586.53,306.13 L586.97,306.05 L587.41,305.97 L587.86,305.89 L588.30,305.80 L588.74,305.72 L589.18,305.64 L589.62,305.55 L590.07,305.47 L590.51,305.39 L590.95,305.30 L591.39,305.22 L591.84,305.13 L592.28,305.04 L592.72,304.69 L593.16,302.84 L593.60,300.58 L594.05,297.99 L594.49,295.22 L594.93,292.52 L595.37,290.13 L595.81,288.33 L596.26,287.35 L596.70,287.31 L597.14,288.29 L597.58,290.17 L598.02,292.70 L598.47,295.56 L598.91,298.45 L599.35,301.11 L599.79,303.38 L600.24,305.19 L600.68,306.54 L601.12,307.49 L601.56,308.11 L602.00,308.51 L602.45,308.74 L602.89,308.87 L603.33,308.94 L603.77,308.97 L604.22,308.99 L604.66,308.99 L605.10,309.00 L605.54,309.00 L605.98,309.00 L606.43,309.00 L606.87,309.00 L607.31,309.00 L607.75,309.00 L608.19,309.00 L608.64,309.00 L609.08,309.00 L609.52,309.00 L609.96,309.00 L610.40,309.00 L610.85,309.00 L611.29,309.00 L611.73,309.00 L612.17,309.00 L612.62,309.00 L613.06,309.00 L613.50,309.00 L613.50,309.00 L551.60,309.00 Z" fill="#9cb9e4" stroke="none" style="mix-blend-mode:multiply"/>
<path d="M551.60,309.00 L552.04,309.00 L552.48,309.00 L552.93,309.00 L553.37,309.00 L553.81,309.00 L554.25,309.00 L554.70,309.00 L555.14,309.00 L555.58,309.00 L556.02,309.00 L556.46,309.00 L556.91,309.00 L557.35,309.00 L557.79,309.00 L558.23,309.00 L558.67,309.00 L559.12,309.00 L559.56,309.00 L560.00,309.00 L560.44,309.00 L560.88,309.00 L561.33,309.00 L561.77,309.00 L562.21,309.00 L562.65,309.00 L563.10,309.00 L563.54,309.00 L563.98,309.00 L564.42,309.00 L564.86,309.00 L565.31,309.00 L565.75,309.00 L566.19,308.99 L566.63,308.97 L567.08,308.94 L567.52,308.90 L567.96,308.86 L568.40,308.82 L568.84,308.78 L569.29,308.73 L569.73,308.69 L570.17,308.64 L570.61,308.59 L571.05,308.54 L571.50,308.48 L571.94,308.43 L572.38,308.37 L572.82,308.31 L573.26,308.26 L573.71,308.20 L574.15,308.14 L574.59,308.08 L575.03,308.01 L575.48,307.95 L575.92,307.89 L576.36,307.82 L576.80,307.75 L577.24,307.69 L577.69,307.62 L578.13,307.55 L578.57,307.48 L579.01,307.41 L579.46,307.34 L579.90,307.27 L580.34,307.20 L580.78,307.13 L581.22,307.05 L581.67,306.98 L582.11,306.91 L582.55,306.83 L582.99,306.76 L583.43,306.68 L583.88,306.60 L584.32,306.52 L584.76,306.45 L585.20,306.37 L585.64,306.29 L586.09,306.21 L586.53,306.13 L586.97,306.05 L587.41,305.97 L587.86,305.89 L588.30,305.80 L588.74,305.72 L589.18,305.64 L589.62,305.55 L590.07,305.47 L590.51,305.39 L590.95,305.30 L591.39,305.22 L591.84,305.13 L592.28,305.04 L592.72,304.69 L593.16,302.84 L593.60,300.58 L594.05,297.99 L594.49,295.22 L594.93,292.52 L595.37,290.13 L595.81,288.33 L596.26,287.35 L596.70,287.31 L597.14,288.29 L597.58,290.17 L598.02,292.70 L598.47,295.56 L598.91,298.45 L599.35,301.11 L599.79,303.38 L600.24,305.19 L600.68,306.54 L601.12,307.49 L601.56,308.11 L602.00,308.51 L602.45,308.74 L602.89,308.87 L603.33,308.94 L603.77,308.97 L604.22,308.99 L604.66,308.99 L605.10,309.00 L605.54,309.00 L605.98,309.00 L606.43,309.00 L606.87,309.00 L607.31,309.00 L607.75,309.00 L608.19,309.00 L608.64,309.00 L609.08,309.00 L609.52,309.00 L609.96,309.00 L610.40,309.00 L610.85,309.00 L611.29,309.00 L611.73,309.00 L612.17,309.00 L612.62,309.00 L613.06,309.00 L613.50,309.00" fill="none" stroke="#6a90d0" stroke-width="0.7"/>
<path d="M551.60,321.60 L552.04,321.60 L552.48,321.60 L552.93,321.60 L553.37,321.60 L553.81,321.60 L554.25,321.60 L554.70,321.60 L555.14,321.60 L555.58,321.60 L556.02,321.60 L556.46,321.60 L556.91,321.60 L557.35,321.60 L557.79,321.60 L558.23,321.60 L558.67,321.60 L559.12,321.60 L559.56,321.60 L560.00,321.60 L560.44,321.60 L560.88,321.60 L561.33,321.60 L561.77,321.60 L562.21,321.60 L562.65,321.60 L563.10,321.60 L563.54,321.60 L563.98,321.60 L564.42,321.60 L564.86,321.60 L565.31,321.60 L565.75,321.60 L566.19,321.59 L566.63,321.56 L567.08,321.53 L567.52,321.49 L567.96,321.45 L568.40,321.40 L568.84,321.35 L569.29,321.30 L569.73,321.25 L570.17,321.19 L570.61,321.14 L571.05,321.08 L571.50,321.02 L571.94,320.96 L572.38,320.89 L572.82,320.83 L573.26,320.76 L573.71,320.70 L574.15,320.63 L574.59,320.56 L575.03,320.49 L575.48,320.42 L575.92,320.35 L576.36,320.27 L576.80,320.20 L577.24,320.12 L577.69,320.05 L578.13,319.97 L578.57,319.89 L579.01,319.81 L579.46,319.74 L579.90,319.66 L580.34,319.57 L580.78,319.49 L581.22,319.41 L581.67,319.33 L582.11,319.24 L582.55,319.16 L582.99,319.07 L583.43,318.99 L583.88,318.90 L584.32,318.82 L584.76,318.73 L585.20,318.64 L585.64,318.55 L586.09,318.46 L586.53,318.37 L586.97,318.28 L587.41,318.19 L587.86,318.10 L588.30,318.00 L588.74,317.91 L589.18,317.82 L589.62,317.72 L590.07,317.63 L590.51,317.53 L590.95,317.44 L591.39,317.34 L591.84,317.25 L592.28,317.15 L592.72,317.10 L593.16,315.27 L593.60,312.95 L594.05,310.29 L594.49,307.45 L594.93,304.66 L595.37,302.21 L595.81,300.36 L596.26,299.35 L596.70,299.31 L597.14,300.32 L597.58,302.25 L598.02,304.85 L598.47,307.79 L598.91,310.76 L599.35,313.49 L599.79,315.83 L600.24,317.69 L600.68,319.07 L601.12,320.05 L601.56,320.69 L602.00,321.09 L602.45,321.33 L602.89,321.46 L603.33,321.53 L603.77,321.57 L604.22,321.59 L604.66,321.59 L605.10,321.60 L605.54,321.60 L605.98,321.60 L606.43,321.60 L606.87,321.60 L607.31,321.60 L607.75,321.60 L608.19,321.60 L608.64,321.60 L609.08,321.60 L609.52,321.60 L609.96,321.60 L610.40,321.60 L610.85,321.60 L611.29,321.60 L611.73,321.60 L612.17,321.60 L612.62,321.60 L613.06,321.60 L613.50,321.60 L613.50,321.60 L551.60,321.60 Z" fill="#9cb9e4" stroke="none" style="mix-blend-mode:multiply"/>
<path d="M551.60,321.60 L552.04,321.60 L552.48,321.60 L552.93,321.60 L553.37,321.60 L553.81,321.60 L554.25,321.60 L554.70,321.60 L555.14,321.60 L555.58,321.60 L556.02,321.60 L556.46,321.60 L556.91,321.60 L557.35,321.60 L557.79,321.60 L558.23,321.60 L558.67,321.60 L559.12,321.60 L559.56,321.60 L560.00,321.60 L560.44,321.60 L560.88,321.60 L561.33,321.60 L561.77,321.60 L562.21,321.60 L562.65,321.60 L563.10,321.60 L563.54,321.60 L563.98,321.60 L564.42,321.60 L564.86,321.60 L565.31,321.60 L565.75,321.60 L566.19,321.59 L566.63,321.56 L567.08,321.53 L567.52,321.49 L567.96,321.45 L568.40,321.40 L568.84,321.35 L569.29,321.30 L569.73,321.25 L570.17,321.19 L570.61,321.14 L571.05,321.08 L571.50,321.02 L571.94,320.96 L572.38,320.89 L572.82,320.83 L573.26,320.76 L573.71,320.70 L574.15,320.63 L574.59,320.56 L575.03,320.49 L575.48,320.42 L575.92,320.35 L576.36,320.27 L576.80,320.20 L577.24,320.12 L577.69,320.05 L578.13,319.97 L578.57,319.89 L579.01,319.81 L579.46,319.74 L579.90,319.66 L580.34,319.57 L580.78,319.49 L581.22,319.41 L581.67,319.33 L582.11,319.24 L582.55,319.16 L582.99,319.07 L583.43,318.99 L583.88,318.90 L584.32,318.82 L584.76,318.73 L585.20,318.64 L585.64,318.55 L586.09,318.46 L586.53,318.37 L586.97,318.28 L587.41,318.19 L587.86,318.10 L588.30,318.00 L588.74,317.91 L589.18,317.82 L589.62,317.72 L590.07,317.63 L590.51,317.53 L590.95,317.44 L591.39,317.34 L591.84,317.25 L592.28,317.15 L592.72,317.10 L593.16,315.27 L593.60,312.95 L594.05,310.29 L594.49,307.45 L594.93,304.66 L595.37,302.21 L595.81,300.36 L596.26,299.35 L596.70,299.31 L597.14,300.32 L597.58,302.25 L598.02,304.85 L598.47,307.79 L598.91,310.76 L599.35,313.49 L599.79,315.83 L600.24,317.69 L600.68,319.07 L601.12,320.05 L601.56,320.69 L602.00,321.09 L602.45,321.33 L602.89,321.46 L603.33,321.53 L603.77,321.57 L604.22,321.59 L604.66,321.59 L605.10,321.60 L605.54,321.60 L605.98,321.60 L606.43,321.60 L606.87,321.60 L607.31,321.60 L607.75,321.60 L608.19,321.60 L608.64,321.60 L609.08,321.60 L609.52,321.60 L609.96,321.60 L610.40,321.60 L610.85,321.60 L611.29,321.60 L611.73,321.60 L612.17,321.60 L612.62,321.60 L613.06,321.60 L613.50,321.60" fill="none" stroke="#6a90d0" stroke-width="0.7"/>
<rect x="551.60" y="259.70" width="61.90" height="61.90" fill="none" stroke="#8c8c8c" stroke-width="0.8"/>
<text x="556.40" y="327.20" font-size="3.6" text-anchor="middle" fill="#444" >-10<tspan font-size="2.6" dy="-1.5">3</tspan></text>
<text x="566.50" y="327.20" font-size="3.6" text-anchor="middle" fill="#444" >0</text>
<text x="578.60" y="327.20" font-size="3.6" text-anchor="middle" fill="#444" >10<tspan font-size="2.6" dy="-1.5">3</tspan></text>
<text x="596.00" y="327.20" font-size="3.6" text-anchor="middle" fill="#444" >10<tspan font-size="2.6" dy="-1.5">4</tspan></text>
<text x="610.90" y="327.20" font-size="3.6" text-anchor="middle" fill="#444" >10<tspan font-size="2.6" dy="-1.5">5</tspan></text>
<line x1="556.40" y1="321.60" x2="556.40" y2="322.80" stroke="#666" stroke-width="0.4" />
<line x1="566.50" y1="321.60" x2="566.50" y2="322.80" stroke="#666" stroke-width="0.4" />
<line x1="578.60" y1="321.60" x2="578.60" y2="322.80" stroke="#666" stroke-width="0.4" />
<line x1="596.00" y1="321.60" x2="596.00" y2="322.80" stroke="#666" stroke-width="0.4" />
<line x1="610.90" y1="321.60" x2="610.90" y2="322.80" stroke="#666" stroke-width="0.4" />
<ellipse cx="566.50" cy="322.50" rx="1.3" ry="0.8" fill="#222"/>
<text x="582.85" y="335.50" font-size="5.7" text-anchor="middle" fill="#222" >CD4 on Cells</text>
<path d="M620.80,284.80 L621.25,284.80 L621.69,284.80 L622.14,284.80 L622.58,284.80 L623.03,284.80 L623.47,284.80 L623.92,284.80 L624.37,284.80 L624.81,284.80 L625.26,284.80 L625.70,284.80 L626.15,284.80 L626.59,284.79 L627.04,284.79 L627.49,284.77 L627.93,284.74 L628.38,284.69 L628.82,284.58 L629.27,284.39 L629.71,284.06 L630.16,283.55 L630.61,282.76 L631.05,281.63 L631.50,280.09 L631.94,278.10 L632.39,275.70 L632.83,272.98 L633.28,270.12 L633.73,267.37 L634.17,265.02 L634.62,263.34 L635.06,262.55 L635.51,262.54 L635.95,262.72 L636.40,263.06 L636.85,263.55 L637.29,264.17 L637.74,264.91 L638.18,265.77 L638.63,266.71 L639.07,267.73 L639.52,268.80 L639.97,269.92 L640.41,271.05 L640.86,272.18 L641.30,273.31 L641.75,274.41 L642.19,275.46 L642.64,276.47 L643.09,277.43 L643.53,278.32 L643.98,279.14 L644.42,279.89 L644.87,280.58 L645.31,281.19 L645.76,281.74 L646.21,282.22 L646.65,282.64 L647.10,283.00 L647.54,283.20 L647.99,283.20 L648.43,283.20 L648.88,283.20 L649.33,283.20 L649.77,283.20 L650.22,283.20 L650.66,283.20 L651.11,283.20 L651.55,283.20 L652.00,283.20 L652.45,283.20 L652.89,283.20 L653.34,283.20 L653.78,283.21 L654.23,283.21 L654.67,283.23 L655.12,283.25 L655.57,283.29 L656.01,283.37 L656.46,283.49 L656.90,283.68 L657.35,283.91 L657.79,284.17 L658.24,284.39 L658.69,284.55 L659.13,284.66 L659.58,284.72 L660.02,284.76 L660.47,284.78 L660.91,284.79 L661.36,284.79 L661.81,284.80 L662.25,284.80 L662.70,284.80 L663.14,284.80 L663.59,284.80 L664.03,284.80 L664.48,284.80 L664.93,284.80 L665.37,284.80 L665.82,284.80 L666.26,284.80 L666.71,284.80 L667.15,284.80 L667.60,284.80 L668.05,284.80 L668.49,284.80 L668.94,284.80 L669.38,284.80 L669.83,284.80 L670.27,284.80 L670.72,284.80 L671.17,284.80 L671.61,284.80 L672.06,284.80 L672.50,284.80 L672.95,284.80 L673.39,284.80 L673.84,284.80 L674.29,284.80 L674.73,284.80 L675.18,284.80 L675.62,284.80 L676.07,284.80 L676.51,284.80 L676.96,284.80 L677.41,284.80 L677.85,284.80 L678.30,284.80 L678.74,284.80 L679.19,284.80 L679.63,284.80 L680.08,284.80 L680.53,284.80 L680.97,284.80 L681.42,284.80 L681.86,284.80 L682.31,284.80 L682.75,284.80 L683.20,284.80 L683.20,284.80 L620.80,284.80 Z" fill="#e3e3e3" stroke="none" style="mix-blend-mode:multiply"/>
<path d="M620.80,284.80 L621.25,284.80 L621.69,284.80 L622.14,284.80 L622.58,284.80 L623.03,284.80 L623.47,284.80 L623.92,284.80 L624.37,284.80 L624.81,284.80 L625.26,284.80 L625.70,284.80 L626.15,284.80 L626.59,284.79 L627.04,284.79 L627.49,284.77 L627.93,284.74 L628.38,284.69 L628.82,284.58 L629.27,284.39 L629.71,284.06 L630.16,283.55 L630.61,282.76 L631.05,281.63 L631.50,280.09 L631.94,278.10 L632.39,275.70 L632.83,272.98 L633.28,270.12 L633.73,267.37 L634.17,265.02 L634.62,263.34 L635.06,262.55 L635.51,262.54 L635.95,262.72 L636.40,263.06 L636.85,263.55 L637.29,264.17 L637.74,264.91 L638.18,265.77 L638.63,266.71 L639.07,267.73 L639.52,268.80 L639.97,269.92 L640.41,271.05 L640.86,272.18 L641.30,273.31 L641.75,274.41 L642.19,275.46 L642.64,276.47 L643.09,277.43 L643.53,278.32 L643.98,279.14 L644.42,279.89 L644.87,280.58 L645.31,281.19 L645.76,281.74 L646.21,282.22 L646.65,282.64 L647.10,283.00 L647.54,283.20 L647.99,283.20 L648.43,283.20 L648.88,283.20 L649.33,283.20 L649.77,283.20 L650.22,283.20 L650.66,283.20 L651.11,283.20 L651.55,283.20 L652.00,283.20 L652.45,283.20 L652.89,283.20 L653.34,283.20 L653.78,283.21 L654.23,283.21 L654.67,283.23 L655.12,283.25 L655.57,283.29 L656.01,283.37 L656.46,283.49 L656.90,283.68 L657.35,283.91 L657.79,284.17 L658.24,284.39 L658.69,284.55 L659.13,284.66 L659.58,284.72 L660.02,284.76 L660.47,284.78 L660.91,284.79 L661.36,284.79 L661.81,284.80 L662.25,284.80 L662.70,284.80 L663.14,284.80 L663.59,284.80 L664.03,284.80 L664.48,284.80 L664.93,284.80 L665.37,284.80 L665.82,284.80 L666.26,284.80 L666.71,284.80 L667.15,284.80 L667.60,284.80 L668.05,284.80 L668.49,284.80 L668.94,284.80 L669.38,284.80 L669.83,284.80 L670.27,284.80 L670.72,284.80 L671.17,284.80 L671.61,284.80 L672.06,284.80 L672.50,284.80 L672.95,284.80 L673.39,284.80 L673.84,284.80 L674.29,284.80 L674.73,284.80 L675.18,284.80 L675.62,284.80 L676.07,284.80 L676.51,284.80 L676.96,284.80 L677.41,284.80 L677.85,284.80 L678.30,284.80 L678.74,284.80 L679.19,284.80 L679.63,284.80 L680.08,284.80 L680.53,284.80 L680.97,284.80 L681.42,284.80 L681.86,284.80 L682.31,284.80 L682.75,284.80 L683.20,284.80" fill="none" stroke="#b8b8b8" stroke-width="0.7"/>
<path d="M620.80,297.40 L621.25,297.40 L621.69,297.40 L622.14,297.40 L622.58,297.40 L623.03,297.40 L623.47,297.40 L623.92,297.40 L624.37,297.40 L624.81,297.40 L625.26,297.40 L625.70,297.39 L626.15,297.39 L626.59,297.37 L627.04,297.34 L627.49,297.28 L627.93,297.17 L628.38,296.97 L628.82,296.63 L629.27,296.10 L629.71,295.28 L630.16,294.11 L630.61,292.51 L631.05,290.45 L631.50,287.96 L631.94,285.15 L632.39,282.20 L632.83,279.37 L633.28,276.96 L633.73,275.24 L634.17,274.44 L634.62,274.42 L635.06,274.49 L635.51,274.63 L635.95,274.83 L636.40,275.09 L636.85,275.41 L637.29,275.78 L637.74,276.21 L638.18,276.68 L638.63,277.20 L639.07,277.76 L639.52,278.35 L639.97,278.98 L640.41,279.64 L640.86,280.32 L641.30,281.02 L641.75,281.73 L642.19,282.46 L642.64,283.19 L643.09,283.92 L643.53,284.65 L643.98,285.37 L644.42,286.08 L644.87,286.78 L645.31,287.47 L645.76,288.13 L646.21,288.78 L646.65,289.40 L647.10,289.99 L647.54,290.57 L647.99,291.11 L648.43,291.63 L648.88,292.12 L649.33,292.40 L649.77,292.40 L650.22,292.40 L650.66,292.40 L651.11,292.40 L651.55,292.40 L652.00,292.40 L652.45,292.40 L652.89,292.40 L653.34,292.40 L653.78,292.41 L654.23,292.42 L654.67,292.43 L655.12,292.46 L655.57,292.51 L656.01,292.61 L656.46,292.78 L656.90,293.08 L657.35,293.54 L657.79,294.20 L658.24,294.97 L658.69,295.73 L659.13,296.35 L659.58,296.79 L660.02,297.06 L660.47,297.20 L660.91,297.23 L661.36,297.26 L661.81,297.28 L662.25,297.30 L662.70,297.31 L663.14,297.33 L663.59,297.34 L664.03,297.35 L664.48,297.36 L664.93,297.37 L665.37,297.37 L665.82,297.38 L666.26,297.38 L666.71,297.38 L667.15,297.39 L667.60,297.39 L668.05,297.39 L668.49,297.39 L668.94,297.39 L669.38,297.40 L669.83,297.40 L670.27,297.40 L670.72,297.40 L671.17,297.40 L671.61,297.40 L672.06,297.40 L672.50,297.40 L672.95,297.40 L673.39,297.40 L673.84,297.40 L674.29,297.40 L674.73,297.40 L675.18,297.40 L675.62,297.40 L676.07,297.40 L676.51,297.40 L676.96,297.40 L677.41,297.40 L677.85,297.40 L678.30,297.40 L678.74,297.40 L679.19,297.40 L679.63,297.40 L680.08,297.40 L680.53,297.40 L680.97,297.40 L681.42,297.40 L681.86,297.40 L682.31,297.40 L682.75,297.40 L683.20,297.40 L683.20,297.40 L620.80,297.40 Z" fill="#d2d2d2" stroke="none" style="mix-blend-mode:multiply"/>
<path d="M620.80,297.40 L621.25,297.40 L621.69,297.40 L622.14,297.40 L622.58,297.40 L623.03,297.40 L623.47,297.40 L623.92,297.40 L624.37,297.40 L624.81,297.40 L625.26,297.40 L625.70,297.39 L626.15,297.39 L626.59,297.37 L627.04,297.34 L627.49,297.28 L627.93,297.17 L628.38,296.97 L628.82,296.63 L629.27,296.10 L629.71,295.28 L630.16,294.11 L630.61,292.51 L631.05,290.45 L631.50,287.96 L631.94,285.15 L632.39,282.20 L632.83,279.37 L633.28,276.96 L633.73,275.24 L634.17,274.44 L634.62,274.42 L635.06,274.49 L635.51,274.63 L635.95,274.83 L636.40,275.09 L636.85,275.41 L637.29,275.78 L637.74,276.21 L638.18,276.68 L638.63,277.20 L639.07,277.76 L639.52,278.35 L639.97,278.98 L640.41,279.64 L640.86,280.32 L641.30,281.02 L641.75,281.73 L642.19,282.46 L642.64,283.19 L643.09,283.92 L643.53,284.65 L643.98,285.37 L644.42,286.08 L644.87,286.78 L645.31,287.47 L645.76,288.13 L646.21,288.78 L646.65,289.40 L647.10,289.99 L647.54,290.57 L647.99,291.11 L648.43,291.63 L648.88,292.12 L649.33,292.40 L649.77,292.40 L650.22,292.40 L650.66,292.40 L651.11,292.40 L651.55,292.40 L652.00,292.40 L652.45,292.40 L652.89,292.40 L653.34,292.40 L653.78,292.41 L654.23,292.42 L654.67,292.43 L655.12,292.46 L655.57,292.51 L656.01,292.61 L656.46,292.78 L656.90,293.08 L657.35,293.54 L657.79,294.20 L658.24,294.97 L658.69,295.73 L659.13,296.35 L659.58,296.79 L660.02,297.06 L660.47,297.20 L660.91,297.23 L661.36,297.26 L661.81,297.28 L662.25,297.30 L662.70,297.31 L663.14,297.33 L663.59,297.34 L664.03,297.35 L664.48,297.36 L664.93,297.37 L665.37,297.37 L665.82,297.38 L666.26,297.38 L666.71,297.38 L667.15,297.39 L667.60,297.39 L668.05,297.39 L668.49,297.39 L668.94,297.39 L669.38,297.40 L669.83,297.40 L670.27,297.40 L670.72,297.40 L671.17,297.40 L671.61,297.40 L672.06,297.40 L672.50,297.40 L672.95,297.40 L673.39,297.40 L673.84,297.40 L674.29,297.40 L674.73,297.40 L675.18,297.40 L675.62,297.40 L676.07,297.40 L676.51,297.40 L676.96,297.40 L677.41,297.40 L677.85,297.40 L678.30,297.40 L678.74,297.40 L679.19,297.40 L679.63,297.40 L680.08,297.40 L680.53,297.40 L680.97,297.40 L681.42,297.40 L681.86,297.40 L682.31,297.40 L682.75,297.40 L683.20,297.40" fill="none" stroke="#a0a0a0" stroke-width="0.7"/>
<path d="M620.80,309.00 L621.25,309.00 L621.69,309.00 L622.14,309.00 L622.58,309.00 L623.03,309.00 L623.47,309.00 L623.92,309.00 L624.37,309.00 L624.81,309.00 L625.26,309.00 L625.70,308.99 L626.15,308.99 L626.59,308.97 L627.04,308.94 L627.49,308.88 L627.93,308.77 L628.38,308.58 L628.82,308.25 L629.27,307.72 L629.71,306.92 L630.16,305.76 L630.61,304.19 L631.05,302.17 L631.50,299.73 L631.94,296.96 L632.39,294.06 L632.83,291.29 L633.28,288.91 L633.73,287.23 L634.17,286.44 L634.62,286.42 L635.06,286.50 L635.51,286.66 L635.95,286.88 L636.40,287.17 L636.85,287.52 L637.29,287.93 L637.74,288.39 L638.18,288.91 L638.63,289.48 L639.07,290.09 L639.52,290.73 L639.97,291.41 L640.41,292.12 L640.86,292.85 L641.30,293.59 L641.75,294.35 L642.19,295.11 L642.64,295.87 L643.09,296.63 L643.53,297.39 L643.98,298.13 L644.42,298.85 L644.87,299.56 L645.31,300.24 L645.76,300.90 L646.21,301.53 L646.65,302.14 L647.10,302.71 L647.54,303.26 L647.99,303.77 L648.43,304.25 L648.88,304.50 L649.33,304.50 L649.77,304.50 L650.22,304.50 L650.66,304.50 L651.11,304.50 L651.55,304.50 L652.00,304.50 L652.45,304.50 L652.89,304.50 L653.34,304.50 L653.78,304.51 L654.23,304.52 L654.67,304.53 L655.12,304.55 L655.57,304.60 L656.01,304.69 L656.46,304.84 L656.90,305.11 L657.35,305.53 L657.79,306.12 L658.24,306.81 L658.69,307.50 L659.13,308.06 L659.58,308.45 L660.02,308.69 L660.47,308.83 L660.91,308.91 L661.36,308.93 L661.81,308.94 L662.25,308.95 L662.70,308.96 L663.14,308.97 L663.59,308.97 L664.03,308.98 L664.48,308.98 L664.93,308.99 L665.37,308.99 L665.82,308.99 L666.26,308.99 L666.71,308.99 L667.15,309.00 L667.60,309.00 L668.05,309.00 L668.49,309.00 L668.94,309.00 L669.38,309.00 L669.83,309.00 L670.27,309.00 L670.72,309.00 L671.17,309.00 L671.61,309.00 L672.06,309.00 L672.50,309.00 L672.95,309.00 L673.39,309.00 L673.84,309.00 L674.29,309.00 L674.73,309.00 L675.18,309.00 L675.62,309.00 L676.07,309.00 L676.51,309.00 L676.96,309.00 L677.41,309.00 L677.85,309.00 L678.30,309.00 L678.74,309.00 L679.19,309.00 L679.63,309.00 L680.08,309.00 L680.53,309.00 L680.97,309.00 L681.42,309.00 L681.86,309.00 L682.31,309.00 L682.75,309.00 L683.20,309.00 L683.20,309.00 L620.80,309.00 Z" fill="#d2d2d2" stroke="none" style="mix-blend-mode:multiply"/>
<path d="M620.80,309.00 L621.25,309.00 L621.69,309.00 L622.14,309.00 L622.58,309.00 L623.03,309.00 L623.47,309.00 L623.92,309.00 L624.37,309.00 L624.81,309.00 L625.26,309.00 L625.70,308.99 L626.15,308.99 L626.59,308.97 L627.04,308.94 L627.49,308.88 L627.93,308.77 L628.38,308.58 L628.82,308.25 L629.27,307.72 L629.71,306.92 L630.16,305.76 L630.61,304.19 L631.05,302.17 L631.50,299.73 L631.94,296.96 L632.39,294.06 L632.83,291.29 L633.28,288.91 L633.73,287.23 L634.17,286.44 L634.62,286.42 L635.06,286.50 L635.51,286.66 L635.95,286.88 L636.40,287.17 L636.85,287.52 L637.29,287.93 L637.74,288.39 L638.18,288.91 L638.63,289.48 L639.07,290.09 L639.52,290.73 L639.97,291.41 L640.41,292.12 L640.86,292.85 L641.30,293.59 L641.75,294.35 L642.19,295.11 L642.64,295.87 L643.09,296.63 L643.53,297.39 L643.98,298.13 L644.42,298.85 L644.87,299.56 L645.31,300.24 L645.76,300.90 L646.21,301.53 L646.65,302.14 L647.10,302.71 L647.54,303.26 L647.99,303.77 L648.43,304.25 L648.88,304.50 L649.33,304.50 L649.77,304.50 L650.22,304.50 L650.66,304.50 L651.11,304.50 L651.55,304.50 L652.00,304.50 L652.45,304.50 L652.89,304.50 L653.34,304.50 L653.78,304.51 L654.23,304.52 L654.67,304.53 L655.12,304.55 L655.57,304.60 L656.01,304.69 L656.46,304.84 L656.90,305.11 L657.35,305.53 L657.79,306.12 L658.24,306.81 L658.69,307.50 L659.13,308.06 L659.58,308.45 L660.02,308.69 L660.47,308.83 L660.91,308.91 L661.36,308.93 L661.81,308.94 L662.25,308.95 L662.70,308.96 L663.14,308.97 L663.59,308.97 L664.03,308.98 L664.48,308.98 L664.93,308.99 L665.37,308.99 L665.82,308.99 L666.26,308.99 L666.71,308.99 L667.15,309.00 L667.60,309.00 L668.05,309.00 L668.49,309.00 L668.94,309.00 L669.38,309.00 L669.83,309.00 L670.27,309.00 L670.72,309.00 L671.17,309.00 L671.61,309.00 L672.06,309.00 L672.50,309.00 L672.95,309.00 L673.39,309.00 L673.84,309.00 L674.29,309.00 L674.73,309.00 L675.18,309.00 L675.62,309.00 L676.07,309.00 L676.51,309.00 L676.96,309.00 L677.41,309.00 L677.85,309.00 L678.30,309.00 L678.74,309.00 L679.19,309.00 L679.63,309.00 L680.08,309.00 L680.53,309.00 L680.97,309.00 L681.42,309.00 L681.86,309.00 L682.31,309.00 L682.75,309.00 L683.20,309.00" fill="none" stroke="#a0a0a0" stroke-width="0.7"/>
<path d="M620.80,321.60 L621.25,321.60 L621.69,321.60 L622.14,321.60 L622.58,321.60 L623.03,321.60 L623.47,321.60 L623.92,321.60 L624.37,321.60 L624.81,321.60 L625.26,321.60 L625.70,321.60 L626.15,321.59 L626.59,321.58 L627.04,321.55 L627.49,321.50 L627.93,321.41 L628.38,321.23 L628.82,320.94 L629.27,320.47 L629.71,319.74 L630.16,318.68 L630.61,317.22 L631.05,315.32 L631.50,312.98 L631.94,310.30 L632.39,307.44 L632.83,304.64 L633.28,302.17 L633.73,300.33 L634.17,299.33 L634.62,299.21 L635.06,299.25 L635.51,299.35 L635.95,299.50 L636.40,299.69 L636.85,299.93 L637.29,300.21 L637.74,300.54 L638.18,300.91 L638.63,301.31 L639.07,301.75 L639.52,302.23 L639.97,302.73 L640.41,303.26 L640.86,303.82 L641.30,304.40 L641.75,304.99 L642.19,305.60 L642.64,306.22 L643.09,306.85 L643.53,307.49 L643.98,308.12 L644.42,308.76 L644.87,309.39 L645.31,310.02 L645.76,310.64 L646.21,311.25 L646.65,311.85 L647.10,312.43 L647.54,313.00 L647.99,313.55 L648.43,314.08 L648.88,314.59 L649.33,315.08 L649.77,315.55 L650.22,316.00 L650.66,316.43 L651.11,316.83 L651.55,317.21 L652.00,317.57 L652.45,317.91 L652.89,318.23 L653.34,318.53 L653.78,318.81 L654.23,318.85 L654.67,318.90 L655.12,318.98 L655.57,319.12 L656.01,319.35 L656.46,319.68 L656.90,320.10 L657.35,320.39 L657.79,320.52 L658.24,320.64 L658.69,320.75 L659.13,320.84 L659.58,320.93 L660.02,321.01 L660.47,321.08 L660.91,321.14 L661.36,321.20 L661.81,321.25 L662.25,321.30 L662.70,321.33 L663.14,321.37 L663.59,321.40 L664.03,321.43 L664.48,321.45 L664.93,321.47 L665.37,321.49 L665.82,321.51 L666.26,321.52 L666.71,321.53 L667.15,321.54 L667.60,321.55 L668.05,321.56 L668.49,321.56 L668.94,321.57 L669.38,321.57 L669.83,321.58 L670.27,321.58 L670.72,321.58 L671.17,321.59 L671.61,321.59 L672.06,321.59 L672.50,321.59 L672.95,321.59 L673.39,321.60 L673.84,321.60 L674.29,321.60 L674.73,321.60 L675.18,321.60 L675.62,321.60 L676.07,321.60 L676.51,321.60 L676.96,321.60 L677.41,321.60 L677.85,321.60 L678.30,321.60 L678.74,321.60 L679.19,321.60 L679.63,321.60 L680.08,321.60 L680.53,321.60 L680.97,321.60 L681.42,321.60 L681.86,321.60 L682.31,321.60 L682.75,321.60 L683.20,321.60 L683.20,321.60 L620.80,321.60 Z" fill="#d2d2d2" stroke="none" style="mix-blend-mode:multiply"/>
<path d="M620.80,321.60 L621.25,321.60 L621.69,321.60 L622.14,321.60 L622.58,321.60 L623.03,321.60 L623.47,321.60 L623.92,321.60 L624.37,321.60 L624.81,321.60 L625.26,321.60 L625.70,321.60 L626.15,321.59 L626.59,321.58 L627.04,321.55 L627.49,321.50 L627.93,321.41 L628.38,321.23 L628.82,320.94 L629.27,320.47 L629.71,319.74 L630.16,318.68 L630.61,317.22 L631.05,315.32 L631.50,312.98 L631.94,310.30 L632.39,307.44 L632.83,304.64 L633.28,302.17 L633.73,300.33 L634.17,299.33 L634.62,299.21 L635.06,299.25 L635.51,299.35 L635.95,299.50 L636.40,299.69 L636.85,299.93 L637.29,300.21 L637.74,300.54 L638.18,300.91 L638.63,301.31 L639.07,301.75 L639.52,302.23 L639.97,302.73 L640.41,303.26 L640.86,303.82 L641.30,304.40 L641.75,304.99 L642.19,305.60 L642.64,306.22 L643.09,306.85 L643.53,307.49 L643.98,308.12 L644.42,308.76 L644.87,309.39 L645.31,310.02 L645.76,310.64 L646.21,311.25 L646.65,311.85 L647.10,312.43 L647.54,313.00 L647.99,313.55 L648.43,314.08 L648.88,314.59 L649.33,315.08 L649.77,315.55 L650.22,316.00 L650.66,316.43 L651.11,316.83 L651.55,317.21 L652.00,317.57 L652.45,317.91 L652.89,318.23 L653.34,318.53 L653.78,318.81 L654.23,318.85 L654.67,318.90 L655.12,318.98 L655.57,319.12 L656.01,319.35 L656.46,319.68 L656.90,320.10 L657.35,320.39 L657.79,320.52 L658.24,320.64 L658.69,320.75 L659.13,320.84 L659.58,320.93 L660.02,321.01 L660.47,321.08 L660.91,321.14 L661.36,321.20 L661.81,321.25 L662.25,321.30 L662.70,321.33 L663.14,321.37 L663.59,321.40 L664.03,321.43 L664.48,321.45 L664.93,321.47 L665.37,321.49 L665.82,321.51 L666.26,321.52 L666.71,321.53 L667.15,321.54 L667.60,321.55 L668.05,321.56 L668.49,321.56 L668.94,321.57 L669.38,321.57 L669.83,321.58 L670.27,321.58 L670.72,321.58 L671.17,321.59 L671.61,321.59 L672.06,321.59 L672.50,321.59 L672.95,321.59 L673.39,321.60 L673.84,321.60 L674.29,321.60 L674.73,321.60 L675.18,321.60 L675.62,321.60 L676.07,321.60 L676.51,321.60 L676.96,321.60 L677.41,321.60 L677.85,321.60 L678.30,321.60 L678.74,321.60 L679.19,321.60 L679.63,321.60 L680.08,321.60 L680.53,321.60 L680.97,321.60 L681.42,321.60 L681.86,321.60 L682.31,321.60 L682.75,321.60 L683.20,321.60" fill="none" stroke="#a0a0a0" stroke-width="0.7"/>
<rect x="620.80" y="259.70" width="62.40" height="61.90" fill="none" stroke="#8c8c8c" stroke-width="0.8"/>
<text x="627.50" y="327.20" font-size="3.6" text-anchor="middle" fill="#444" >-10<tspan font-size="2.6" dy="-1.5">3</tspan></text>
<text x="635.40" y="327.20" font-size="3.6" text-anchor="middle" fill="#444" >0</text>
<text x="646.00" y="327.20" font-size="3.6" text-anchor="middle" fill="#444" >10<tspan font-size="2.6" dy="-1.5">3</tspan></text>
<text x="665.00" y="327.20" font-size="3.6" text-anchor="middle" fill="#444" >10<tspan font-size="2.6" dy="-1.5">4</tspan></text>
<text x="678.50" y="327.20" font-size="3.6" text-anchor="middle" fill="#444" >10<tspan font-size="2.6" dy="-1.5">5</tspan></text>
<line x1="627.50" y1="321.60" x2="627.50" y2="322.80" stroke="#666" stroke-width="0.4" />
<line x1="635.40" y1="321.60" x2="635.40" y2="322.80" stroke="#666" stroke-width="0.4" />
<line x1="646.00" y1="321.60" x2="646.00" y2="322.80" stroke="#666" stroke-width="0.4" />
<line x1="665.00" y1="321.60" x2="665.00" y2="322.80" stroke="#666" stroke-width="0.4" />
<line x1="678.50" y1="321.60" x2="678.50" y2="322.80" stroke="#666" stroke-width="0.4" />
<ellipse cx="635.40" cy="322.50" rx="1.3" ry="0.8" fill="#222"/>
<text x="652.30" y="335.50" font-size="5.7" text-anchor="middle" fill="#222" >CD4 on BSLB</text>
<text x="669.50" y="268.80" font-size="7.4" text-anchor="middle" fill="#999" >GP120</text>
<text x="672.20" y="276.50" font-size="7.4" text-anchor="middle" fill="#999" >BSLB</text>
<text x="555.00" y="282.00" font-size="7.4" text-anchor="start" fill="#111" >0</text>
<text x="552.60" y="296.00" font-size="7.4" text-anchor="start" fill="#111" >20</text>
<text x="552.60" y="308.10" font-size="7.4" text-anchor="start" fill="#111" >200</text>
<text x="552.60" y="320.20" font-size="7.4" text-anchor="start" fill="#111" >2,000</text>
</svg></body></html>
